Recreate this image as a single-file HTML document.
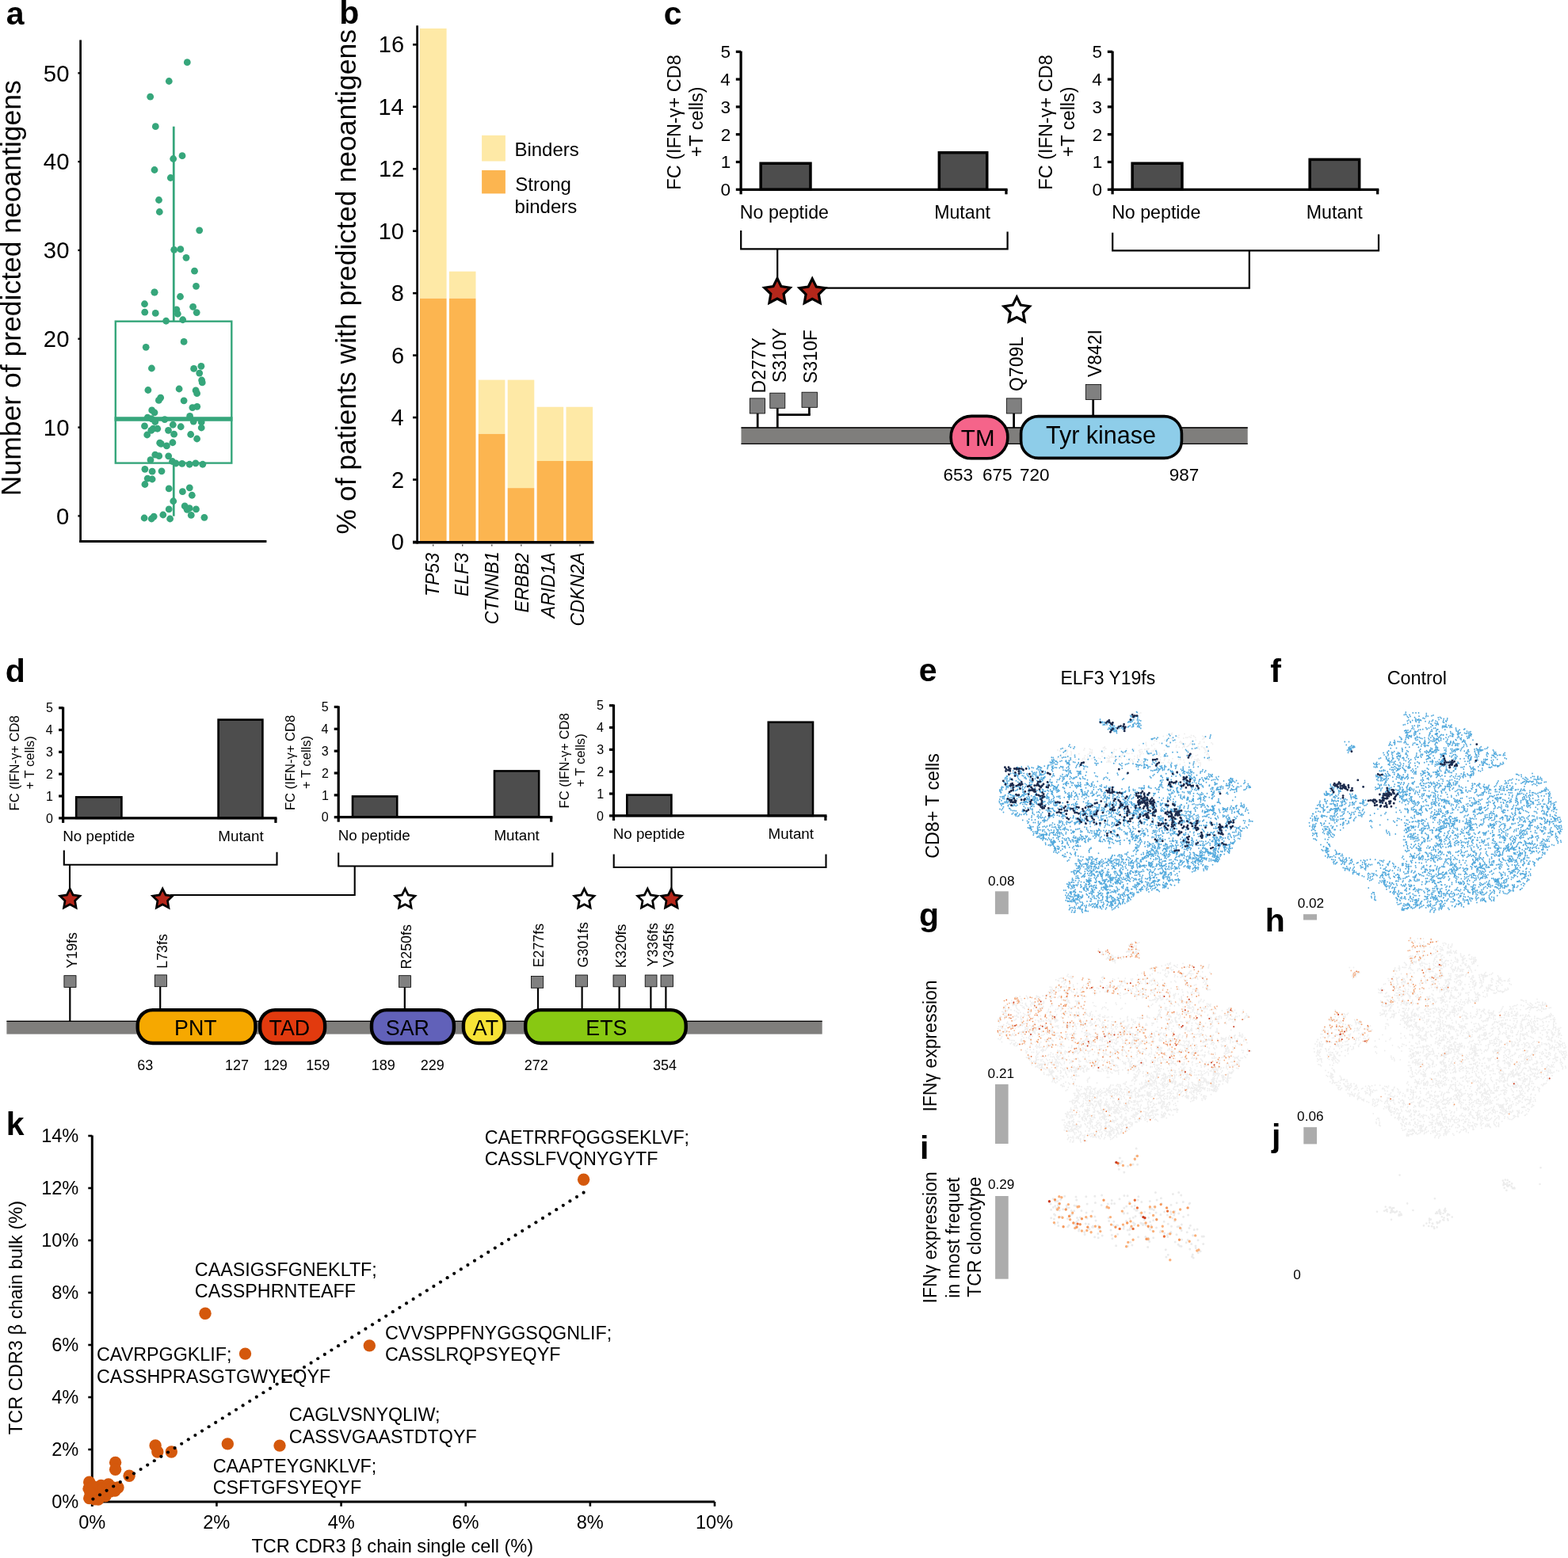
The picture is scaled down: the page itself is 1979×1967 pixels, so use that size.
<!DOCTYPE html>
<html><head><meta charset="utf-8"><title>Figure</title>
<style>html,body{margin:0;padding:0;background:#fff;}svg{display:block;}text{font-family:"Liberation Sans",Arial,Helvetica,sans-serif;fill:#000;}</style>
</head><body>
<svg width="1979" height="1967" viewBox="0 0 1979 1967">
<rect width="1979" height="1967" fill="#fff"/>
<defs><path id="eM" d="M5741 3598h0m-3-3h0m-27 26h0m-4-7h0m21 9h0m-7-4h0m-9-1h0m23-1h0m11 28h0m3 8h0m-5-28h0m0-8h0m-1 16h0m8 4h0m8 3h0m-17-3h0m0-3h0m-20 1h0m-8 1h0m-8-3h0m8 5h0m8-3h0m-13 12h0m7-4h0m-9 1h0m-8 0h0m-125 3h0m-9-2h0m-8 1h0m-3-13h0m5 16h0m-6-6h0m7 6h0m5 1h0m4 11h0m9-1h0m-6-1h0m3-8h0m13 8h0m5-8h0m-4-7h0m15 21h0m0-2h0m4 8h0m11-8h0m58 7h0m17 2h0m1-24h0m8-2h0m2 19h0m-7 4h0m17 2h0m4-9h0m0-2h0m3 6h0m0-9h0m6-5h0m-6 8h0m0 9h0m14-12h0m7-4h0m0 14h0m5-7h0m7-5h0m-11 15h0m8-3h0m8-4h0m-15 5h0m7 5h0m7 5h0m-79 0h0m-12-4h0m-5 2h0m6 7h0m-16-5h0m0-9h0m-13 5h0m-9 1h0m7 16h0m-3 3h0m3 8h0m-3-11h0m-5-15h0m-2 17h0m8 2h0m-11-1h0m-6-6h0m-5-7h0m9 0h0m-2-8h0m5-7h0m-3 20h0m-3-9h0m7 6h0m7 4h0m-19-14h0m-6 6h0m-8 0h0m14-6h0m-2 10h0m-7 0h0m7 5h0m-14-12h0m-5 7h0m313 32h0m-5-7h0m35 9h0m171 11h0m2-8h0m2-8h0m-26 8h0m-64 23h0m-99-3h0m8-3h0m-9-12h0m-23 4h0m-6 6h0m-3 7h0m-51-10h0m5-7h0m-28 9h0m-3-2h0m8-2h0m8-3h0m-57 28h0m94-1h0m43-4h0m65 7h0m56 1h0m-9 0h0m72 14h0m-51 5h0m-8 2h0m-16 2h0m-32 5h0m5 6h0m7 6h0m-97-28h0m-8 0h0m-5-6h0m-52 28h0m3 7h0m1 9h0m-122-23h0m4 7h0m-37-1h0m-5 6h0m-259-17h0m4-8h0m-20 2h0m-9-5h0m4-8h0m-20 30h0m-16-12h0m-8 3h0m-2 33h0m15-16h0m7-5h0m187 0h0m50 7h0m49-6h0m7 5h0m121-6h0m3 8h0m8 4h0m-4 0h0m14-2h0m-9 1h0m19 9h0m7-4h0m51 6h0m8-10h0m-7 5h0m-2 8h0m42-20h0m24 0h0m49 17h0m17-1h0m90-22h0m5 33h0m-8 3h0m-16-3h0m-124-1h0m-8-2h0m-55-5h0m-9 0h0m-102 16h0m-2 8h0m-6 6h0m2-15h0m8 2h0m8 3h0m-44-1h0m-49-2h0m-23-16h0m-25 1h0m-18 16h0m-4 7h0m3-22h0m-56 7h0m-49 8h0m-3-11h0m-22-8h0m-10 18h0m-47-1h0m-19-11h0m-1-9h0m-22 14h0m1 8h0m-6 6h0m-8-22h0m-28 7h0m8-3h0m9 0h0m-37-2h0m-26 4h0m-8-1h0m2 12h0m9-2h0m-24 29h0m6-15h0m4 13h0m4-12h0m2-8h0m8-2h0m8 3h0m-15 4h0m-6 6h0m8 4h0m7-5h0m-6-5h0m6 5h0m6 8h0m6-15h0m2 15h0m3-9h0m-6-5h0m27-4h0m-8 3h0m28 0h0m7 12h0m-2-8h0m-3-8h0m13 17h0m1-8h0m1-9h0m1 16h0m-7-5h0m9 10h0m-5 8h0m24-22h0m8 2h0m18 1h0m0 4h0m-6 6h0m-4 7h0m29-16h0m64 2h0m7 2h0m0 8h0m0-21h0m8 12h0m18-7h0m62 7h0m28 3h0m6 5h0m7 5h0m0-13h0m34 0h0m-8 3h0m-8 3h0m38-4h0m15 3h0m8 3h0m1-16h0m35 14h0m8 3h0m7 4h0m-3-4h0m26-5h0m11-6h0m-7-4h0m-2-8h0m16 19h0m1-15h0m170 9h0m22-7h0m-2 8h0m-2 8h0m25 9h0m-23 2h0m-23 0h0m-30-1h0m0 9h0m-11 3h0m-22-20h0m-5 16h0m2-8h0m-5-6h0m-19 3h0m-2-8h0m4-8h0m-2 20h0m-1-8h0m-11 19h0m-15-13h0m-6-6h0m-1 14h0m0-8h0m-12 5h0m-2-9h0m0 11h0m-7 4h0m-7 6h0m11-15h0m7 5h0m1 8h0m-13-17h0m-4 16h0m-4 8h0m-5 7h0m5-19h0m-7-5h0m-3-8h0m0 16h0m-34-13h0m-8 2h0m-2 6h0m-3-15h0m-10 10h0m-6-1h0m0-8h0m0-8h0m-1 21h0m-11-13h0m-8-3h0m-7 2h0m-9-2h0m6 10h0m4-8h0m-4 21h0m-9-15h0m-72 9h0m-191-7h0m8-3h0m8 3h0m-18 10h0m0-13h0m-3-4h0m-8-2h0m-11 7h0m-18 5h0m-39-3h0m4 7h0m-2 9h0m-10-11h0m-19 0h0m-1-2h0m-7-4h0m8 0h0m-11-1h0m-6 7h0m-23-2h0m8 1h0m-17 4h0m-1-13h0m-1 8h0m-2 5h0m-3-8h0m0 15h0m4 7h0m-25-19h0m2-8h0m-3 14h0m2-8h0m0-8h0m-17 3h0m-15 9h0m-5-2h0m-2 9h0m6 6h0m-9-19h0m-7-3h0m3 6h0m-5 3h0m-5 5h0m8 4h0m-25-9h0m-8-2h0m-12 6h0m-2 1h0m0-6h0m-5-7h0m-27 13h0m3 8h0m-9-19h0m-13 7h0m-7 6h0m2-8h0m-3-2h0m-33 31h0m12-2h0m6 6h0m-6-17h0m17 16h0m16-15h0m1 1h0m1 8h0m5-9h0m-7-5h0m7 16h0m-3-8h0m6 6h0m11 3h0m16 5h0m1-4h0m2 9h0m5 6h0m17-26h0m5 7h0m8-1h0m-7 5h0m-5 7h0m13-12h0m6 6h0m3-8h0m16 3h0m2 5h0m-3 7h0m6-25h0m-6 5h0m7 14h0m3 1h0m9-16h0m5 15h0m6-5h0m-1-7h0m87 14h0m4-22h0m10 1h0m8 2h0m7-4h0m-9 6h0m2 1h0m10 3h0m-1 9h0m-4 7h0m12-16h0m5 7h0m-5-5h0m0-8h0m35 3h0m5 11h0m2-9h0m5 7h0m-1-6h0m6-1h0m0-2h0m0 9h0m1 5h0m29-10h0m41 4h0m66 1h0m49 1h0m3 8h0m46-5h0m121-17h0m8 2h0m8-3h0m0 21h0m-6 6h0m12-28h0m8-1h0m29 2h0m8-3h0m9 20h0m10-19h0m15 9h0m2 1h0m-5-7h0m9 3h0m0 11h0m2 0h0m2-6h0m22 5h0m23-12h0m9 2h0m-3-6h0m-1-8h0m3 20h0m5 7h0m-8-3h0m10-7h0m17 2h0m4-10h0m8-2h0m-4 19h0m-9-1h0m-7-4h0m25 1h0m-5-7h0m7 2h0m-8 1h0m16 5h0m34 1h0m1-7h0m8-2h0m3-8h0m10 12h0m5-7h0m15 17h0m8 3h0m10-1h0m103 22h0m-9-3h0m-3 3h0m-59-11h0m-9 11h0m-3-8h0m-20-3h0m-4-5h0m-2 2h0m-7 5h0m-5-6h0m0 17h0m-8-2h0m-8 2h0m8-11h0m-5 7h0m-7-2h0m-14-1h0m-9 8h0m-17-21h0m-12 10h0m-9 6h0m-7-5h0m0 6h0m-4-1h0m-4-3h0m4-8h0m5-7h0m-10 5h0m-1 11h0m-3-14h0m-20 10h0m-21-7h0m-4-7h0m-19 9h0m-11-8h0m-11 8h0m-17 9h0m-7-1h0m-1 8h0m1-2h0m6 5h0m-33-19h0m5 7h0m-7-10h0m-2 2h0m-54 3h0m5 6h0m-138 4h0m-6 5h0m-83-12h0m7 5h0m-16-2h0m-4 7h0m-39-16h0m8 3h0m-59-6h0m-3 18h0m-2-1h0m-10-10h0m2 8h0m-13 3h0m-4-4h0m-7-15h0m5-7h0m-13 15h0m-12 8h0m-7 2h0m5-6h0m8-2h0m-21 3h0m-6-6h0m-2 12h0m-17-21h0m4 8h0m-15 12h0m-2-9h0m7-4h0m9 0h0m-33-1h0m8 3h0m-11 8h0m-4 7h0m-9 1h0m-16-20h0m-11 5h0m5-7h0m2-8h0m-50 19h0m7-5h0m-10-9h0m-8 2h0m6 20h0m7-3h0m5-7h0m-14 10h0m5-7h0m7-3h0m-16 2h0m-1 9h0m-2-24h0m-5 23h0m-10-14h0m-7 4h0m9 1h0m-10-7h0m-2-5h0m-8-3h0m5 22h0m-12-12h0m-12 7h0m-12-10h0m-9 15h0m-4-8h0m2 7h0m-7-4h0m-4-9h0m-7-2h0m-21-1h0m-2 8h0m3 8h0m-4-14h0m-14-1h0m1-8h0m-3 9h0m7-4h0m8 3h0m-34 18h0m-2-6h0m-2 8h0m-5 7h0m-7-24h0m-3 9h0m0 9h0m-1-18h0m-6 7h0m-2 8h0m1-6h0m9 2h0m-16 18h0m5 3h0m6 6h0m8 0h0m-12-4h0m9-9h0m1 7h0m27-12h0m18 3h0m9 6h0m7-11h0m7 4h0m-7 12h0m3 2h0m1 3h0m9-6h0m16 5h0m7 5h0m16-11h0m1-11h0m6 6h0m9 0h0m-14-10h0m6 6h0m5 7h0m24-7h0m9 15h0m5-16h0m1 10h0m8-5h0m6-5h0m-6 5h0m36 7h0m6-8h0m6 6h0m-4-15h0m10 14h0m23-2h0m28-4h0m4-7h0m-1-8h0m3 30h0m8-3h0m7-4h0m-2-1h0m-3 8h0m5 7h0m2-10h0m1-9h0m7 9h0m15-3h0m9 1h0m-9-1h0m-4-7h0m11 6h0m26-1h0m12 0h0m0 2h0m2 8h0m-4 7h0m38-16h0m4 7h0m5 7h0m-9-28h0m22 17h0m6-7h0m23-3h0m60-7h0m257 5h0m8 5h0m-4-9h0m9-1h0m23 0h0m10 10h0m9-1h0m-8 1h0m8-11h0m14 16h0m8 5h0m15-6h0m0 8h0m7 5h0m16-28h0m5 10h0m3-9h0m6-6h0m0 20h0m4 5h0m-3-8h0m5 0h0m8 4h0m0 5h0m9-1h0m-6-1h0m0-6h0m16 2h0m8-13h0m2 8h0m4-8h0m0-9h0m-6-6h0m11 30h0m12 1h0m2-10h0m2-8h0m17-1h0m4 8h0m0-2h0m14 8h0m43 0h0m1-14h0m-9 1h0m-8 3h0m17 15h0m7 2h0m8-20h0m29 6h0m14 14h0m11-19h0m6 6h0m4 7h0m-9 6h0m2 9h0m0 8h0m1-36h0m5 5h0m-5 7h0m5-7h0m5 9h0m3-7h0m-2 3h0m3-8h0m-4-7h0m5 5h0m5 6h0m7 5h0m8-8h0m8 14h0m34-14h0m1 9h0m-5 6h0m33 19h0m-5 1h0m-3 0h0m4-7h0m-7-2h0m-1-9h0m-36 11h0m-19 3h0m8 1h0m-27-1h0m-6-7h0m-12-4h0m-1 4h0m-9 1h0m1 15h0m-5-15h0m-5 0h0m-16 15h0m0-8h0m-8-4h0m-2 7h0m-2 9h0m-3-12h0m-16 7h0m6-5h0m-13-15h0m8-3h0m-11 5h0m-14 15h0m-6 7h0m-7-20h0m-1 4h0m-33 0h0m-7-8h0m4 8h0m5 6h0m-10-13h0m-7 0h0m-36 7h0m-6 9h0m8-3h0m-56-5h0m-1 8h0m-6 6h0m3-22h0m-6 5h0m-12 11h0m-4 3h0m-1 0h0m-20-5h0m-9-10h0m7 5h0m-19-5h0m7 5h0m7 4h0m-17-7h0m-25 10h0m-6-5h0m-9-3h0m9-6h0m-6-1h0m4-8h0m-7 8h0m-5 12h0m-1 4h0m-17 0h0m-34-9h0m4 8h0m8 3h0m-13-6h0m-22 7h0m-3 1h0m4-6h0m-1-9h0m-16 12h0m-9-1h0m-50-5h0m-37 10h0m-42-9h0m-17 1h0m-8 2h0m-11-8h0m-2 8h0m-5-1h0m-4-1h0m-14-12h0m-1 8h0m-7-3h0m-19 5h0m-10-8h0m-2 10h0m-9-14h0m0 6h0m-3-8h0m-3 12h0m-17-12h0m-5-6h0m-3 25h0m-4-15h0m9-1h0m7-3h0m-38 13h0m-1-8h0m-11-4h0m-4 7h0m4 2h0m-3 2h0m8-4h0m-11 3h0m-3 8h0m-5-7h0m-4-7h0m8 1h0m0 3h0m-22-3h0m-10 10h0m-21-14h0m-7 19h0m-7-4h0m0-1h0m6 7h0m-7-6h0m-23-13h0m-4 7h0m-7 5h0m2 6h0m0 1h0m-3-8h0m-8-2h0m-1 11h0m8 0h0m7-6h0m-19 2h0m-1-12h0m8 3h0m-14-6h0m-6 5h0m5-9h0m-19 19h0m-5-16h0m-1 7h0m-24-1h0m-11 4h0m-30 9h0m6-5h0m-17-17h0m-9 1h0m5 3h0m-7-4h0m-2 22h0m-3-15h0m9 0h0m-24 4h0m-5 6h0m-10-6h0m-2 8h0m6 7h0m-18-10h0m-8-10h0m4 8h0m-23 0h0m7-4h0m8 1h0m-25 10h0m-8-2h0m6-13h0m-9-1h0m-8 4h0m-4 7h0m12-15h0m-7 5h0m-8 3h0m-4 3h0m-1 6h0m-2-10h0m-6-7h0m-9 14h0m-9 3h0m-8 10h0m2 8h0m4 7h0m-5-8h0m6 5h0m-2-12h0m5-7h0m1-9h0m1 17h0m-9 1h0m29-5h0m15 19h0m1-4h0m-4 7h0m26-13h0m10-2h0m7-3h0m4-4h0m24 2h0m2 13h0m1-4h0m5 7h0m4 7h0m21-26h0m2 16h0m-6-6h0m15-3h0m25 15h0m2 0h0m-6 6h0m-3 8h0m12-29h0m12 2h0m5 7h0m0-6h0m10 4h0m4-11h0m6 9h0m-8-3h0m-3-8h0m16 10h0m10-5h0m6 4h0m9-7h0m10 7h0m-8 1h0m9 6h0m-5 7h0m11-21h0m-1-8h0m3-8h0m10 20h0m0-8h0m-3-8h0m7 25h0m3-8h0m3-5h0m1 9h0m5-4h0m30 11h0m-3-8h0m5 7h0m39-7h0m8 9h0m3-2h0m29-6h0m2-10h0m4 14h0m-2-8h0m-7-5h0m9 19h0m12-8h0m12 3h0m4-9h0m1 2h0m20 7h0m0-6h0m7-9h0m13 20h0m4-7h0m7-12h0m13 4h0m2-5h0m-7-3h0m10 13h0m18 6h0m19-6h0m4-2h0m18 5h0m9 0h0m5 3h0m3-3h0m27 2h0m-4 8h0m19-10h0m2-5h0m-7 5h0m-6 5h0m30-17h0m-1-9h0m2 17h0m1-5h0m19-5h0m1 6h0m8-2h0m0 12h0m2-1h0m9-2h0m-3 8h0m25-21h0m4-7h0m57 28h0m8 0h0m8-20h0m1-2h0m8 3h0m0 12h0m3-12h0m48 3h0m8 1h0m-9 0h0m-5-6h0m16 1h0m7 14h0m4 5h0m-8 2h0m-7 5h0m18-21h0m4 7h0m14-12h0m1 11h0m-2-8h0m3 7h0m1 6h0m6-1h0m-5-6h0m16-11h0m16 17h0m-8-3h0m26-1h0m4 7h0m8 4h0m-4-11h0m10-3h0m-5 7h0m10-16h0m7 21h0m5-19h0m5-7h0m9 26h0m7 5h0m-6-26h0m-7 5h0m12-3h0m16 15h0m27 4h0m21-11h0m2 1h0m5-11h0m2-8h0m5 18h0m-5 7h0m5 1h0m12-15h0m5-4h0m3-8h0m-2 10h0m5 1h0m1 11h0m2-12h0m4 12h0m33 7h0m4-4h0m3 8h0m18-26h0m7 4h0m-4-1h0m-8 4h0m19-3h0m8-2h0m5-6h0m-11 21h0m10-4h0m0-8h0m-2-8h0m39 8h0m7-2h0m6-6h0m2-8h0m-58 52h0m-107-4h0m-5-9h0m-6 5h0m1-6h0m-15 16h0m-24-7h0m7 4h0m-12 3h0m7-4h0m-17-10h0m7-3h0m-11 17h0m-6 6h0m5-22h0m-3 8h0m-33 1h0m-26 8h0m-3-2h0m-16 3h0m-1-8h0m-6 5h0m5 3h0m-17-14h0m-1 12h0m-9-12h0m-19 7h0m-25-5h0m-5-7h0m3 21h0m5-6h0m-37 6h0m-20-3h0m-25-18h0m-4 8h0m-25-1h0m-5-7h0m-2 7h0m-14 14h0m-20-10h0m1-8h0m1-9h0m-6 18h0m-27-8h0m-4 12h0m-20-6h0m5-6h0m-6 11h0m-7 5h0m-3 8h0m1-15h0m-6 0h0m-20-14h0m-1 2h0m0 4h0m0-8h0m-2 16h0m8 0h0m-9-15h0m-13 19h0m-3-13h0m-5 9h0m-4 4h0m-18-15h0m8 4h0m-27 1h0m0 12h0m-21-13h0m-4 8h0m-5-7h0m2-9h0m3-7h0m-17 25h0m-7-10h0m-8 1h0m-4 3h0m-16-8h0m-7 5h0m5-6h0m-7-5h0m-8 0h0m14 9h0m-7 4h0m-18 3h0m-8-4h0m-1-8h0m-8-3h0m4 5h0m0 16h0m-7-12h0m-8 0h0m-3-2h0m8-3h0m-11 12h0m-13-13h0m-13 8h0m5 7h0m-16-1h0m6-6h0m4-7h0m-24 6h0m-8 3h0m6 5h0m0-13h0m1-8h0m-10 22h0m-1-9h0m0 13h0m-1-17h0m-1-9h0m-1 14h0m0 2h0m0 8h0m1 9h0m-6-13h0m4-8h0m-5-7h0m-17 18h0m-22-6h0m-6 5h0m7 5h0m-8-10h0m-8 2h0m-18-3h0m4 7h0m-8-15h0m-4-7h0m1-8h0m0 14h0m-1-1h0m-15 16h0m-2 5h0m-9-1h0m-6-5h0m9 0h0m-1 8h0m-1-14h0m0-5h0m5-7h0m-17 20h0m-11-7h0m-3 8h0m-5-2h0m-2 3h0m-22 1h0m-7 5h0m-5 7h0m11-11h0m8 0h0m-12-4h0m-7-2h0m-4 8h0m-2 8h0m5-17h0m-10-5h0m-10 7h0m0 8h0m-2 8h0m-4-21h0m-15-10h0m-3-3h0m8 2h0m8-3h0m-19 2h0m-5 5h0m-2 0h0m7 5h0m-11-2h0m8 2h0m-9 3h0m-7 5h0m-8-2h0m9-2h0m-20-3h0m7-4h0m-17 6h0m-8 3h0m6-7h0m-1 3h0m-7-4h0m-8-2h0m11 8h0m-10 4h0m-8 3h0m3-18h0m-11 9h0m-14-6h0m-10 7h0m-2 10h0m-13-8h0m9 0h0m-14 22h0m1 7h0m5 7h0m9 0h0m-13-24h0m9 7h0m14-9h0m-1-9h0m4-7h0m-1 32h0m8-2h0m7 6h0m-5-18h0m1 8h0m8 4h0m-7 6h0m-9 0h0m37-18h0m9-3h0m-8-3h0m21 4h0m22 18h0m-6 6h0m15-6h0m7-4h0m-5 3h0m6 2h0m2 8h0m0-9h0m7-4h0m-7 0h0m3 2h0m4-1h0m0-11h0m6-6h0m-3 19h0m1-12h0m3 13h0m7-15h0m-7-3h0m-6-7h0m23 25h0m10-18h0m6 9h0m1 10h0m2-16h0m2 10h0m6 4h0m1 8h0m0-18h0m2-2h0m5 3h0m8-5h0m1-4h0m-1-8h0m11 12h0m7 11h0m8 0h0m-8 4h0m23 3h0m7-17h0m-2-9h0m-6-5h0m9 28h0m7 4h0m0-9h0m-9-1h0m10 0h0m3-8h0m-2 12h0m8-2h0m3-15h0m2 9h0m0 14h0m0 8h0m4-15h0m41 6h0m58-18h0m7 19h0m5-7h0m7-14h0m28 14h0m4-15h0m9 21h0m8-3h0m3-8h0m36-5h0m7 0h0m32-5h0m7-5h0m5-7h0m-4 28h0m8 0h0m2-9h0m0-8h0m-2-1h0m5-7h0m-3 9h0m7-5h0m5 4h0m19 0h0m1-9h0m1-8h0m-1 37h0m3-8h0m5-8h0m16-1h0m13 14h0m8 3h0m1 1h0m6-17h0m7 4h0m-1 1h0m-7-5h0m11 13h0m2 8h0m-1-2h0m9-3h0m-6-6h0m9-4h0m5-10h0m4 17h0m8-1h0m2-15h0m7-4h0m25 20h0m7-5h0m9-1h0m-9 11h0m25-5h0m2-8h0m-1-5h0m5-6h0m1 7h0m-7 6h0m19-3h0m26 11h0m22-4h0m5 1h0m16-8h0m30 1h0m-1-8h0m2-8h0m7 7h0m6 6h0m14 9h0m1-12h0m45-1h0m-7-4h0m-1-9h0m31 18h0m6-6h0m-5-1h0m5 5h0m8 7h0m13-5h0m5-7h0m-3 10h0m-7 5h0m-9-1h0m18-14h0m2 5h0m0 8h0m23-10h0m6-6h0m8 3h0m0 8h0m-1 9h0m1-12h0m13 2h0m4-7h0m4 11h0m34-12h0m3 2h0m3-8h0m29 9h0m0 8h0m0 8h0m71-9h0m59 29h0m-2-8h0m0 15h0m-5-1h0m-2-7h0m-6-5h0m-1 8h0m0-17h0m-2 14h0m-25 1h0m-9 9h0m-70-22h0m-5-6h0m-9 0h0m-13 16h0m-6 6h0m-8-1h0m3-3h0m-22 4h0m-5-6h0m-11 8h0m-4-10h0m-5-7h0m4 8h0m-8 1h0m-6 5h0m-1 3h0m0-13h0m7-3h0m-16 2h0m8 2h0m-16 1h0m-9 0h0m-2 11h0m-8-16h0m-8 2h0m-29-6h0m-26 9h0m-6 7h0m0 9h0m-2-12h0m6-6h0m-16 10h0m8 4h0m-21-13h0m-4 7h0m-3-7h0m4-7h0m4-8h0m-39 26h0m-7-4h0m-7-5h0m11 12h0m-3-19h0m-8 0h0m-12-2h0m-6 6h0m3 15h0m-2-18h0m-7 5h0m6-2h0m-6-6h0m2 11h0m-21 5h0m-3-7h0m-1-9h0m-13 9h0m-10 4h0m4-7h0m-11 14h0m8 3h0m8-2h0m-27-1h0m-5 6h0m0-11h0m-34-16h0m-3 12h0m-2-8h0m4-7h0m-8 11h0m-7 2h0m-3 2h0m-7-7h0m-4 8h0m1 6h0m7 5h0m-16-14h0m6-6h0m-9 3h0m1-8h0m-5 1h0m0 22h0m-12-15h0m-8-2h0m-7 4h0m15-2h0m-23 9h0m-5 0h0m-4-6h0m7-5h0m2-8h0m-10 26h0m-6-5h0m-3-17h0m-4 8h0m2 12h0m-7 5h0m-13-16h0m2-8h0m-2-8h0m-5 16h0m-6-7h0m-4 10h0m6 5h0m-10-12h0m-8-4h0m-1-8h0m-3 23h0m-2-8h0m-2-8h0m7 5h0m-14 6h0m-4-1h0m-6-5h0m4 12h0m8-3h0m6-6h0m-20 7h0m-17 7h0m8 3h0m5 7h0m-24-25h0m-3 12h0m-2 8h0m0 8h0m1-17h0m3-7h0m-4-4h0m-8-7h0m-2 0h0m-22 20h0m-1-12h0m-19 9h0m5-6h0m8-3h0m-15-6h0m0 1h0m-2-1h0m8-2h0m8 2h0m-19 8h0m7-6h0m-11 9h0m-45-9h0m-6 1h0m-4-2h0m-11 1h0m4 7h0m8 2h0m-20-6h0m-10 14h0m-3-15h0m-5 15h0m5 6h0m6 6h0m-14-27h0m-23 13h0m5 7h0m-12-4h0m0-9h0m-7 2h0m-13-14h0m9-1h0m-17 12h0m-1-9h0m6 6h0m-12 2h0m7-5h0m-36-1h0m-30 7h0m8-1h0m7-5h0m-31-6h0m-1 11h0m-14-8h0m-3-4h0m-11 17h0m-1-10h0m-8-5h0m-7-5h0m-7-5h0m13 24h0m2-8h0m-6-6h0m-1 14h0m-4 8h0m-18-17h0m-14 10h0m-5-11h0m-12-5h0m-16 9h0m-6-9h0m-1 13h0m-7-4h0m-8 2h0m6-7h0m-7 10h0m8-4h0m-25-5h0m-7 5h0m1 4h0m-24-12h0m0 16h0m-4 8h0m-5 7h0m7-33h0m-6 2h0m-2 9h0m-8 18h0m18 16h0m29-20h0m9 9h0m-5-7h0m14 10h0m16 1h0m-8-1h0m42-3h0m3 8h0m-1-3h0m0-9h0m4 9h0m-8 1h0m15-16h0m14-1h0m22 5h0m-8 1h0m8 5h0m1 10h0m1 8h0m7 5h0m22-15h0m-8 3h0m12 1h0m3-13h0m13 13h0m27-11h0m-8-1h0m8 8h0m6-10h0m6-6h0m8 0h0m-12 13h0m8 3h0m-5-3h0m14-14h0m7 14h0m4 1h0m-7-5h0m-4-7h0m26-3h0m31 20h0m14-16h0m2-4h0m4-7h0m0-8h0m26 26h0m0 0h0m1-12h0m8 11h0m2 8h0m1-18h0m1 3h0m-5-6h0m7 1h0m6 8h0m23 9h0m-7 4h0m-5 7h0m23-9h0m8 1h0m-1-3h0m7-4h0m9 0h0m7-4h0m-13-2h0m6-4h0m2 10h0m5 7h0m8-3h0m-3 7h0m14-6h0m6 6h0m0-1h0m1-8h0m6-4h0m1-1h0m1-4h0m4-8h0m8-1h0m-10 5h0m-6-6h0m-8-2h0m46 20h0m-7-5h0m9 11h0m-4-7h0m-9 0h0m15-12h0m26 19h0m-7-5h0m-8 4h0m15 3h0m-3 8h0m7-29h0m3 4h0m5 7h0m-2 8h0m-3-18h0m8-4h0m-2 16h0m8-3h0m9-1h0m-10 8h0m1 8h0m22-19h0m-2 8h0m31-6h0m4 8h0m12 1h0m3-4h0m-1-9h0m3 3h0m1 6h0m-5-7h0m33 15h0m2-8h0m10 5h0m8-2h0m-6-5h0m2 1h0m-9-1h0m14-11h0m0 16h0m-8-3h0m-3-8h0m13 1h0m-1 8h0m1 8h0m0-8h0m6-13h0m3 8h0m-2-3h0m-8-3h0m-7-4h0m24 6h0m11 9h0m8-1h0m2 1h0m-8 3h0m-6 6h0m18-5h0m10-4h0m1 8h0m0-2h0m31-11h0m3-6h0m-5-7h0m-8-1h0m15 23h0m-7-5h0m33-1h0m2-8h0m0 11h0m7-4h0m-6 0h0m11 5h0m-9 0h0m11-13h0m5 3h0m13 4h0m15 7h0m1-11h0m6 5h0m-5 9h0m-7 5h0m12-11h0m0-8h0m10 8h0m-9 1h0m9-11h0m2 8h0m-6 6h0m8-4h0m1-8h0m16 4h0m6-6h0m-3 10h0m8 7h0m2-10h0m4 5h0m13-17h0m2-8h0m4 25h0m14-14h0m2-8h0m1-8h0m7 33h0m5 7h0m0-9h0m16-16h0m2-1h0m4 8h0m1 8h0m9-16h0m26 18h0m1-6h0m14 10h0m2-2h0m1-1h0m-7 5h0m9-5h0m-8-3h0m13 0h0m2-6h0m1 8h0m0-10h0m-8-3h0m15 5h0m6-3h0m7 5h0m-5-1h0m-8 2h0m-8 0h0m25 1h0m-7-4h0m12-9h0m-5 7h0m5 13h0m1-9h0m-2-8h0m3-1h0m-7-5h0m-4-7h0m11 13h0m25 2h0m2 8h0m3 8h0m14-14h0m3-6h0m2 5h0m3-4h0m-7-4h0m12 6h0m2 7h0m5-7h0m5-6h0m-5 18h0m-8-2h0m-7 5h0m19-12h0m13-2h0m2-8h0m4-8h0m3 18h0m1 8h0m-1 9h0m10-20h0m-5-7h0m8 24h0m1-2h0m9-18h0m-2-8h0m4-7h0m1 30h0m8 0h0m-4 1h0m4 7h0m-2-11h0m5-7h0m31 9h0m3-8h0m3-8h0m6 10h0m4 15h0m-27 11h0m-8-2h0m2-5h0m-6 5h0m-7-5h0m-12 13h0m-13 4h0m-29 0h0m-10-5h0m7-5h0m-19 4h0m-6 4h0m8-4h0m-9-4h0m-27 5h0m3 8h0m-17-14h0m5-7h0m-5-5h0m-7 5h0m-4 4h0m-27 2h0m8-2h0m-10 6h0m-7 4h0m7 0h0m-13-1h0m-8 2h0m-20 2h0m-8 3h0m-5 7h0m9-20h0m0 2h0m-9 1h0m-10-7h0m-2 2h0m-8 7h0m-7 3h0m-8-2h0m-5-7h0m12-9h0m-3 10h0m-18 5h0m-2-14h0m3-8h0m8-2h0m-16 21h0m-9-1h0m-7-4h0m7 4h0m7 4h0m-17-4h0m-10-5h0m-7 1h0m-5-6h0m2-8h0m-13 19h0m-15 0h0m-11-13h0m4-7h0m8-3h0m-15 25h0m-2-6h0m-48 10h0m8-3h0m-14 4h0m7 4h0m4 8h0m-28-29h0m-15 0h0m-7 0h0m-16 5h0m-18-3h0m-8 0h0m-8-2h0m4 7h0m-5 7h0m-8 0h0m12-6h0m6-6h0m-2-9h0m-9 25h0m-7 5h0m-8-1h0m1-7h0m-2-11h0m-4-5h0m-6 4h0m8-1h0m-11 7h0m0-13h0m-5 6h0m-4 8h0m1 9h0m-8-20h0m8 2h0m-23 7h0m8-3h0m-18-6h0m3-8h0m-11 9h0m-14 16h0m-19-11h0m-5-3h0m7-5h0m6-5h0m-18 6h0m-4 18h0m-11 3h0m-8-3h0m2-8h0m-5 6h0m-8 3h0m9-17h0m-8-3h0m7 2h0m-30 11h0m-8 2h0m8-2h0m8 0h0m-23 3h0m-5 0h0m0 9h0m3 7h0m-19-15h0m3 8h0m-12-9h0m-14-16h0m-1 17h0m8-3h0m-9-5h0m-7-5h0m-8 0h0m11 18h0m-8-19h0m-1 8h0m-6 6h0m5-16h0m2-8h0m-14 14h0m-3 11h0m-11-11h0m-4 2h0m-7-4h0m4-5h0m8-2h0m7 4h0m-18 4h0m8 1h0m5 6h0m-23-7h0m-3 14h0m1-8h0m-2-12h0m-34 15h0m0 6h0m-48-4h0m8 2h0m-14-2h0m0-8h0m-5 11h0m5-7h0m8-1h0m-14-7h0m5-7h0m-16 18h0m-10-4h0m-16 0h0m-8-1h0m-8 4h0m13-11h0m0 3h0m-1 15h0m-6-7h0m-8 3h0m6-3h0m-7-2h0m-1 2h0m-4-6h0m-4 7h0m8 0h0m-46-10h0m-1 8h0m-2 8h0m-12-11h0m-4 8h0m-24-16h0m-4 12h0m-26-6h0m-4-7h0m4-8h0m-5 6h0m-1-8h0m-6 13h0m-2 3h0m-13 1h0m-9-2h0m-3 7h0m-6 3h0m-9-2h0m-2-9h0m-3 3h0m8-2h0m4-7h0m-27 6h0m6-5h0m48 36h0m30 9h0m-7-5h0m9-9h0m13-9h0m1 13h0m17-1h0m16 9h0m0 8h0m5 7h0m-4-32h0m2-8h0m18 4h0m-7 3h0m8 14h0m9-1h0m-8 0h0m6 7h0m1-20h0m6-6h0m-5 15h0m3 6h0m1-3h0m-9-1h0m26-13h0m-4 8h0m-5 7h0m13-15h0m50 20h0m16 1h0m-7-4h0m-9-1h0m19-12h0m19 15h0m6 5h0m12-23h0m8 17h0m-7 5h0m12-21h0m15 1h0m1 4h0m11-4h0m2 16h0m-7 4h0m8-16h0m8-6h0m2 12h0m8-3h0m-3-2h0m2 8h0m-5 7h0m14-6h0m1-5h0m1-10h0m6 5h0m9 0h0m14 16h0m-1 8h0m5-11h0m-9-1h0m15-3h0m36-3h0m8-1h0m4 1h0m6-6h0m-3 4h0m13 2h0m10-12h0m2 20h0m2-8h0m36-8h0m5 5h0m5 7h0m-3-7h0m7 5h0m8-3h0m-14 7h0m5-2h0m5 1h0m-8 0h0m16-8h0m18 4h0m6-3h0m7 4h0m5 7h0m-11-8h0m-4 7h0m-1 9h0m6-18h0m2-13h0m-6 6h0m2 8h0m35-9h0m2-2h0m7-2h0m42 22h0m2 8h0m10-23h0m8 3h0m8 3h0m-13 9h0m10-11h0m6-6h0m24-1h0m3 8h0m33 2h0m3 0h0m6-9h0m-8-2h0m-8 3h0m17 7h0m4 8h0m-3 8h0m0-28h0m6 6h0m-1 11h0m2 8h0m0-25h0m31 13h0m6-7h0m3 6h0m-1-8h0m11 5h0m-2 9h0m19-11h0m21 7h0m7-4h0m-6 11h0m15-7h0m4 7h0m7-21h0m3 13h0m1-10h0m8 2h0m7 5h0m-12 2h0m7 5h0m-1 8h0m2-18h0m3-8h0m16 1h0m4 7h0m24-1h0m7 11h0m14 0h0m6-6h0m0 2h0m26-15h0m7 21h0m3-16h0m26 2h0m2 3h0m-6-6h0m55-4h0m5 7h0m2 11h0m0-2h0m-3 8h0m-5 7h0m19-26h0m-7 4h0m-3 7h0m15-1h0m-6-6h0m-1-8h0m33 3h0m-5 7h0m6-6h0m46 13h0m-8-2h0m29 4h0m8-1h0m8 1h0m-16-8h0m-3 26h0m-13 9h0m6 6h0m-14-25h0m-23 18h0m-5 6h0m-31-10h0m-1-14h0m-7-3h0m-7-5h0m-8 1h0m8 24h0m-14-10h0m8-4h0m7-4h0m-17 21h0m-5-5h0m-5 7h0m-7 3h0m-33-24h0m1 8h0m-6 10h0m1 8h0m-15-20h0m8 1h0m-19-2h0m-5-7h0m-16 15h0m-4 7h0m4-23h0m-1 13h0m-4 2h0m-8 1h0m-2-2h0m-12 1h0m-9 0h0m-16-7h0m4-7h0m8-1h0m-22-1h0m6-6h0m9 0h0m-16 19h0m0-10h0m-7 6h0m2-5h0m9 0h0m-24-2h0m-7-1h0m-31 0h0m-3 2h0m4-8h0m-7 20h0m-7-15h0m-7 2h0m8 1h0m-20 4h0m-6-5h0m-4-8h0m10 11h0m-8-3h0m4 17h0m-3-8h0m-7-5h0m4 6h0m-4-7h0m0 17h0m-2-3h0m-7 5h0m4-12h0m-22 7h0m-6-15h0m-4 7h0m3 4h0m-3-3h0m-7-3h0m-38-9h0m-8 15h0m-14-15h0m-6 23h0m-3-13h0m9-1h0m-15 7h0m4-8h0m-18 4h0m-12-12h0m-5 0h0m1 8h0m-28-7h0m4-7h0m5-6h0m-11 27h0m5-6h0m-31-8h0m-1 21h0m4 8h0m-21-19h0m-7 9h0m0-16h0m-2 0h0m-16 14h0m-5-5h0m-21-1h0m-13-5h0m5-7h0m-16 13h0m-1-9h0m-1 7h0m-5 7h0m-7 5h0m4-21h0m-4 7h0m1-8h0m-13 14h0m-8-2h0m-2-5h0m-8 1h0m-6-6h0m-22 7h0m-1 7h0m-2-5h0m-2-8h0m-16-4h0m-7 13h0m-22 8h0m-21-14h0m-5-7h0m-26 5h0m-4-1h0m0 4h0m-20-2h0m-1 0h0m5-7h0m6-6h0m-13 17h0m0-8h0m-2 0h0m8 1h0m7-5h0m-36 23h0m-3-19h0m-2-1h0m-13 8h0m-2-8h0m-10 12h0m-8-4h0m0-5h0m-5 13h0m-6-17h0m-7 16h0m0-13h0m-7 10h0m-16-3h0m-10-7h0m-4 10h0m-9 0h0m-2 5h0m-13 1h0m-32-18h0m-5 7h0m-23-7h0m-9 0h0m-2 21h0m-9 1h0m-6 6h0m-11-25h0m1 23h0m7 3h0m7-1h0m0-8h0m-6-6h0m8 25h0m-4-8h0m-3-7h0m9 11h0m30-5h0m0-8h0m4-8h0m-3 21h0m1 7h0m7-18h0m-8 4h0m13 9h0m-8 0h0m20 7h0m7-7h0m-8 1h0m17-14h0m-7-5h0m-8 2h0m26 14h0m6 6h0m10-3h0m5-15h0m9 1h0m7-3h0m-7 18h0m10-11h0m4 8h0m7 4h0m-2-4h0m3-13h0m5 1h0m6-1h0m1 13h0m-7-4h0m-3-8h0m29 13h0m-8-3h0m12-10h0m-6 5h0m6 2h0m8 3h0m7 4h0m14 0h0m10 5h0m3 8h0m1-5h0m3-1h0m7-10h0m10-1h0m-9 1h0m18-4h0m-8 1h0m14 9h0m7 5h0m13-23h0m10 3h0m0 8h0m6 6h0m1 8h0m13-7h0m7 2h0m11 0h0m0 9h0m12-12h0m3 7h0m-1 8h0m5-14h0m8-3h0m7 5h0m-11-11h0m2 6h0m23 2h0m4-16h0m4-8h0m5 24h0m-4 7h0m18-6h0m20-1h0m5 7h0m-3-7h0m4 5h0m26-19h0m-7 4h0m10 0h0m9 7h0m-9-2h0m53 6h0m-1-8h0m-6-5h0m20 16h0m2-14h0m10 2h0m17-9h0m10 19h0m-6 6h0m13-16h0m8 8h0m20 5h0m-1-8h0m-7-6h0m35 12h0m12-3h0m5-15h0m0-9h0m2 11h0m1 16h0m12 1h0m-2-8h0m5-6h0m8-3h0m2 13h0m14-7h0m8 3h0m8 3h0m-15 1h0m-2-9h0m-3-7h0m32 16h0m1-6h0m2 6h0m3-14h0m18 5h0m8 0h0m1 1h0m31-5h0m6-2h0m16 0h0m7 6h0m-8 2h0m-7 4h0m42-13h0m-4 7h0m9 1h0m6-2h0m8-5h0m2 4h0m-2 8h0m23-3h0m8 10h0m50-15h0m9 1h0m9-2h0m0 15h0m16-2h0m-5-7h0m10 7h0m22-1h0m6-16h0m-8-1h0m10 4h0m15 7h0m3-5h0m35-2h0m-8-1h0m-8-3h0m21 8h0m6 6h0m3 6h0m5-1h0m4-13h0m8 0h0m-18 33h0m-9-1h0m-8 3h0m16-11h0m-8-4h0m-2 8h0m-12-10h0m-1-8h0m4-8h0m-5 36h0m-7-18h0m-8 0h0m6 17h0m2 8h0m-21-14h0m2 8h0m5 7h0m-12-20h0m-4 4h0m-1 11h0m-1 8h0m6 7h0m-48-39h0m8 5h0m-27 13h0m-11-14h0m-5 9h0m-6-8h0m8 1h0m6-6h0m-21 11h0m4-7h0m-15 16h0m-1-16h0m-5 10h0m1 8h0m-4-8h0m-1 9h0m-9-22h0m-4-7h0m-4 26h0m2 9h0m-7-23h0m-10 4h0m-5 14h0m-4-12h0m-19 6h0m0-16h0m-2 5h0m-18-6h0m-9 13h0m-13-9h0m0 8h0m-5 5h0m-4-6h0m-2 3h0m-21-13h0m8-3h0m-19 12h0m3 8h0m-14-19h0m-6 6h0m4 1h0m-2-6h0m3 8h0m7 4h0m-13-10h0m-4-8h0m-2-8h0m4 24h0m-6-1h0m-8 2h0m3 7h0m-20-12h0m8-3h0m-25 3h0m-5 1h0m-2-8h0m1 23h0m-9-7h0m-8 3h0m-5 0h0m-9-1h0m-1 9h0m0-21h0m-6-6h0m-6-6h0m7 21h0m-6-11h0m-8 4h0m-22 12h0m-16-12h0m-3 0h0m5 8h0m-7-3h0m-5-6h0m-1-9h0m5 25h0m4-8h0m-15-5h0m-5 7h0m-10 4h0m-1 1h0m-9-3h0m-3 8h0m2-9h0m-6 4h0m4 8h0m-10-18h0m-6 5h0m-1 8h0m-1-23h0m-3 9h0m-2-6h0m0 9h0m0 9h0m-8-22h0m4-7h0m-18 21h0m-7-4h0m-2 0h0m8 0h0m-14-11h0m7 5h0m9 1h0m-41 17h0m2 8h0m-13-12h0m-7 2h0m-3-20h0m-2-8h0m-10 31h0m-6-14h0m8 1h0m8 3h0m-29-9h0m-21 14h0m-1-1h0m-28 4h0m-6-5h0m8-4h0m2-8h0m-14 3h0m-10 2h0m8 4h0m8 2h0m-17 1h0m4-7h0m-4 8h0m7 3h0m-15 2h0m-7-16h0m-11-2h0m-20 17h0m8 1h0m-30-1h0m8 3h0m-11-23h0m-1 14h0m-33 6h0m-13-14h0m6-6h0m-33 1h0m-1 8h0m-24-6h0m5 6h0m6 7h0m-18 5h0m-8 2h0m7-15h0m-3-7h0m2 1h0m3 8h0m-11-3h0m-11 4h0m5-8h0m5-6h0m-18 4h0m0 14h0m8 1h0m9 0h0m-18-17h0m-1 13h0m-3-8h0m-2 0h0m-14 2h0m8-3h0m-10 10h0m-1 4h0m-11-6h0m-4-7h0m-7-5h0m7 8h0m2 8h0m-5-2h0m-7-1h0m-8 2h0m5 4h0m-1-5h0m-3-1h0m-8 1h0m-8-4h0m11 3h0m7 4h0m1 9h0m-10-8h0m8 4h0m3 7h0m-14-13h0m-9 4h0m8 1h0m-15-16h0m-5-7h0m2 3h0m-1 8h0m-5-2h0m-4-8h0m-7 9h0m-2 8h0m-2-17h0m21 28h0m2-2h0m2 0h0m14 8h0m-7-5h0m12 5h0m5 9h0m2-6h0m-1-8h0m14 9h0m1-2h0m-8-3h0m16 8h0m11-2h0m-5-7h0m14 8h0m-4 7h0m13-16h0m3 13h0m4 4h0m11-16h0m8-2h0m6-6h0m-6 15h0m19 8h0m2-15h0m9 4h0m4 7h0m6-8h0m1 8h0m8-12h0m5 4h0m1 8h0m7 4h0m13-18h0m10 17h0m8 3h0m7 5h0m-12-27h0m-7 5h0m7 1h0m7 9h0m-7 4h0m10-7h0m0 8h0m0-14h0m6 5h0m1 5h0m4-6h0m-2-8h0m12 13h0m-3-8h0m1-8h0m5 13h0m5-6h0m8 3h0m-3-1h0m4 10h0m5-16h0m9 13h0m4-9h0m-4 8h0m1 8h0m6-9h0m6-2h0m21-5h0m6-7h0m27 0h0m-6 5h0m-1 9h0m18-1h0m4 1h0m4 7h0m10-13h0m1-10h0m6 6h0m3 7h0m-5 10h0m7 6h0m0 8h0m-4-15h0m8-15h0m3 7h0m3-3h0m6 5h0m15 4h0m6 5h0m1-23h0m5-7h0m0 28h0m7 0h0m4 8h0m0 9h0m1-20h0m20-1h0m14-9h0m9 11h0m6 6h0m-2 9h0m1-17h0m10-14h0m3 10h0m4-5h0m3-4h0m8 4h0m8-2h0m-10 13h0m5-2h0m-7 2h0m12-20h0m3 1h0m0 8h0m13-2h0m-1 8h0m2-1h0m-5 8h0m-6 6h0m15-10h0m55-13h0m9-2h0m-8-2h0m26 12h0m7-9h0m5 7h0m7 4h0m-3-8h0m11 5h0m12 3h0m20-6h0m5 14h0m13-6h0m2-9h0m-1 13h0m1-2h0m20 3h0m18-9h0m9-9h0m6 9h0m8-4h0m7-4h0m-4 9h0m1 9h0m28-3h0m5-8h0m-4 8h0m1 0h0m0-13h0m5 14h0m19-3h0m26 5h0m-9 1h0m31-21h0m19 13h0m15 4h0m2-18h0m1 2h0m3 8h0m7 10h0m6 6h0m4 7h0m-6-33h0m-8 3h0m-8-2h0m17 18h0m-7-5h0m-2-8h0m10 2h0m-2 8h0m-5 7h0m11-20h0m10 14h0m3-17h0m8 3h0m-7-6h0m3 3h0m-4 7h0m-8 4h0m14-12h0m5 14h0m5-7h0m4 15h0m-5 7h0m12-23h0m45 7h0m4 8h0m-4 7h0m-5 7h0m33-25h0m-8-2h0m12-10h0m-33 30h0m-1 0h0m-6 6h0m0-4h0m-2 4h0m-8-6h0m-6 18h0m2-8h0m6-6h0m-12 8h0m-7 2h0m-3-1h0m-18 4h0m3 8h0m-18-8h0m-3-11h0m8 3h0m-11-15h0m-6-5h0m4 18h0m6 6h0m-13 3h0m-6 5h0m-4 8h0m7-21h0m9 1h0m7-4h0m-16 1h0m-4 4h0m-1-11h0m-3 7h0m-1 9h0m1-17h0m-11-2h0m-6-1h0m-8 11h0m0 9h0m-7-16h0m-7 5h0m-7 4h0m-1-13h0m-7 19h0m-1-1h0m-8 2h0m-9-1h0m16 2h0m-3-19h0m-2 9h0m-15 8h0m-19 1h0m9 0h0m-10-13h0m-13-4h0m-6 18h0m-2-14h0m6 6h0m-8 3h0m6 6h0m-11-3h0m-8-5h0m2 3h0m-3 8h0m-9-19h0m-8-4h0m-3-8h0m6 12h0m4 8h0m7 4h0m-16 2h0m-4-12h0m-7-5h0m5-2h0m-4 15h0m-6-5h0m-3-8h0m5 17h0m-8 4h0m1-19h0m-14 14h0m-8 4h0m0 9h0m4-24h0m-2-8h0m-7-4h0m4 11h0m-3 11h0m-10-18h0m-8-1h0m2 20h0m-6-8h0m-21 6h0m-9-1h0m6 0h0m-4-5h0m-10 10h0m-1 1h0m8 2h0m-17-24h0m-3 15h0m-8 1h0m3-16h0m8 0h0m-18 18h0m3-8h0m-4-9h0m4-8h0m7-5h0m-16 19h0m-7-4h0m6 0h0m-12 17h0m-7-9h0m-10 4h0m-8-3h0m2 2h0m-5 7h0m-5 7h0m9-6h0m-2-1h0m0-12h0m-7-7h0m-2 17h0m-13-16h0m-2 8h0m-21-4h0m7-5h0m-8 12h0m-13 6h0m-2 0h0m-7-5h0m-119-10h0m7 5h0m-19-8h0m-37-1h0m-9 0h0m-8-3h0m5 1h0m-73 6h0m-5-4h0m-40 5h0m-3 3h0m-3 12h0m-11-19h0m-1-8h0m-1 6h0m-4-8h0m-7 11h0m-12 16h0m-4-7h0m-2-1h0m0-7h0m-23 4h0m-4 3h0m4-7h0m-16-4h0m-21 4h0m-8 3h0m-8 3h0m6 2h0m1-9h0m-2 14h0m-8 1h0m-7 4h0m15-21h0m7 4h0m-8 12h0m4 7h0m-5-17h0m-9-1h0m4-5h0m-9 16h0m8 1h0m5-7h0m-21 8h0m-15-11h0m1 8h0m44 20h0m1-7h0m4 11h0m-5 6h0m-3 8h0m8-21h0m1 4h0m9 0h0m7 3h0m-14 6h0m0 9h0m7 5h0m0-35h0m3 12h0m7-4h0m-4-7h0m11 20h0m8-22h0m1 15h0m8-12h0m5-2h0m1 8h0m21-3h0m21-4h0m-5 7h0m8 8h0m12-17h0m6-6h0m-4 24h0m3-18h0m5 1h0m9-1h0m45 22h0m0 9h0m9-23h0m98 0h0m-8 0h0m130 12h0m5-14h0m0 5h0m4-5h0m3 8h0m1-9h0m-1 1h0m-6 6h0m12 9h0m2-16h0m3-7h0m30 4h0m22-3h0m9 14h0m2 2h0m4-10h0m0-8h0m3 24h0m4-16h0m5 7h0m2-6h0m0 5h0m1-8h0m17-1h0m6 6h0m-6-9h0m-3-7h0m4 21h0m3-5h0m-8-3h0m28 10h0m-4 7h0m8-11h0m5 6h0m0-4h0m4 4h0m2-8h0m3-8h0m-5 16h0m8-4h0m7-4h0m-1-5h0m-8 2h0m15-6h0m3 0h0m7-4h0m-4 13h0m11-9h0m-8 1h0m10 11h0m11-9h0m0 9h0m30-3h0m3-4h0m21 6h0m3 10h0m-7-4h0m-9-1h0m19-8h0m8-2h0m7 5h0m-14 1h0m-8-3h0m15-1h0m-8-3h0m12 13h0m42-7h0m12 10h0m-6 6h0m1 8h0m13-26h0m3-3h0m6 6h0m-9 1h0m11-1h0m4 6h0m4-3h0m-7-5h0m12 8h0m31 2h0m8-3h0m-4 0h0m1-6h0m6 2h0m0 9h0m3-9h0m11 2h0m2-6h0m4-8h0m24 12h0m0 5h0m1-17h0m-1 9h0m1-2h0m2-1h0m2-3h0m-5-7h0m12 13h0m9 4h0m4 7h0m2-20h0m-2 9h0m-4 7h0m18-7h0m-8 2h0m-7-6h0m1 21h0m-1 8h0m-1-7h0m0-8h0m-8 6h0m5 6h0m-19-7h0m5-7h0m-7 23h0m-11-12h0m-5 15h0m-2-1h0m0-17h0m8 0h0m-11 18h0m0 8h0m-9-20h0m-2-4h0m-1 17h0m1 9h0m-6 6h0m5-35h0m-11 11h0m-1-4h0m0 9h0m-6 6h0m4-17h0m-2-1h0m0-9h0m-4 18h0m-8-2h0m6-7h0m-1-9h0m-4 18h0m3 8h0m-3 7h0m-5-17h0m-6-5h0m-1 9h0m-3-5h0m-5-6h0m3 4h0m-2 13h0m-3-9h0m-2-8h0m-7-6h0m8 3h0m4 8h0m8 2h0m-13-4h0m8 3h0m6 5h0m-18-14h0m6 6h0m-13-3h0m0-3h0m-3 7h0m-4 12h0m-8 3h0m-8 0h0m6-20h0m7 3h0m-9 14h0m3-7h0m-6-5h0m-5-3h0m-1 8h0m-1 8h0m-28-1h0m-1-11h0m-4-1h0m-46 2h0m-1 9h0m0-8h0m2-8h0m-9 13h0m-8-1h0m-17-9h0m-2 8h0m-4-4h0m0 9h0m-1-9h0m-9 0h0m4-8h0m0-9h0m0 7h0m8 2h0m-17 9h0m0-8h0m0 0h0m-3 6h0m-6-5h0m-2-9h0m6 6h0m0 6h0m8-2h0m-20 2h0m-5 7h0m5 5h0m-5 7h0m3-26h0m-6 18h0m-8-17h0m0 20h0m-3-7h0m-8-5h0m-2-2h0m7-4h0m5-7h0m-15 17h0m-7 5h0m9-1h0m6 5h0m-23-10h0m-13 1h0m-1-7h0m-2-3h0m-8-4h0m1 3h0m4-7h0m2-8h0m-9 33h0m-10-3h0m5-6h0m8 0h0m-14-13h0m5 6h0m7 6h0m-18 10h0m-5 7h0m5-13h0m-2 4h0m-9 0h0m5-2h0m-9-1h0m5-14h0m7-4h0m6-5h0m-14 9h0m-1 1h0m4 7h0m-7 10h0m-5-7h0m2-8h0m-6 2h0m-2-8h0m2 8h0m-21 2h0m1 8h0m-11 1h0m-21-19h0m-4 6h0m-2 12h0m-13-16h0m-34 19h0m-8-4h0m8-3h0m6-6h0m-32 14h0m2 8h0m-10-8h0m-27 2h0m-11-1h0m-70-10h0m-49-13h0m4-8h0m7-3h0m-79 27h0m0-8h0m-26 5h0m5 6h0m-20-10h0m-11 8h0m-10 6h0m7 5h0m-29-21h0m19 17h0m8 7h0m9-1h0m15 17h0m-7 5h0m12-17h0m29-10h0m-4-8h0m4-8h0m13 18h0m14 3h0m8 16h0m3-14h0m16 9h0m3 5h0m3 0h0m5-4h0m5-9h0m8-2h0m-6 9h0m-4-8h0m4 11h0m9 5h0m6-6h0m1-1h0m-4-8h0m19 9h0m6-3h0m24 6h0m18-4h0m14 2h0m1 3h0m-4 8h0m-5 6h0m19-21h0m5-7h0m0 7h0m4-12h0m22 16h0m7-16h0m5-6h0m12 15h0m-7-5h0m9 12h0m8 3h0m-6-18h0m4 15h0m16 3h0m2 0h0m1-3h0m6-11h0m7 4h0m6 5h0m7-14h0m8-1h0m23 14h0m13 7h0m4 8h0m9-11h0m2-5h0m4-7h0m4-2h0m-5 6h0m-9-1h0m17-7h0m4 7h0m-8 3h0m11-13h0m5 0h0m-7-4h0m0-9h0m7 19h0m2-3h0m11 12h0m11-14h0m4 2h0m1 17h0m10-1h0m0-7h0m0 8h0m8-4h0m2-16h0m1 4h0m6 4h0m1 7h0m1 8h0m1-2h0m8-2h0m13-19h0m3 2h0m6 4h0m3 9h0m-8-3h0m16-5h0m16 14h0m-8 1h0m31-12h0m-4 8h0m9-12h0m9-2h0m6-6h0m8 0h0m-9 7h0m15-5h0m-5-7h0m13 19h0m3-11h0m10 5h0m7-4h0m6 6h0m7 4h0m-4-7h0m1-6h0m3-7h0m-3-8h0m3 30h0m1-5h0m8 8h0m7-3h0m7-7h0m-3-8h0m0-8h0m7 25h0m-8 0h0m-6-6h0m18 0h0m5-11h0m-8-4h0m9 22h0m6 6h0m8 0h0m-12-1h0m2-9h0m7-4h0m0-5h0m-8-2h0m-8-3h0m23 6h0m1 7h0m8-1h0m8 2h0m-16-2h0m-1 8h0m2-19h0m-2 9h0m4 4h0m8 2h0m5-5h0m1 7h0m8-3h0m-2 3h0m1 4h0m-7-5h0m9-3h0m22 5h0m-9-1h0m18 6h0m5-16h0m7-4h0m1 20h0m2-8h0m-5-7h0m4 10h0m5-12h0m1-3h0m-7-5h0m-8-3h0m18 15h0m8 1h0m-3 15h0m-8 3h0m-8 1h0m12 1h0m-7-7h0m8-4h0m8-2h0m-24 9h0m9-1h0m4-7h0m-16 5h0m-7 22h0m-8-20h0m-10 1h0m-30 19h0m-5-15h0m3-7h0m-8 17h0m-2-11h0m-5-2h0m-5-7h0m2 10h0m-3 15h0m-3-8h0m-1-11h0m-2-8h0m-8 9h0m-1 9h0m-5-7h0m-9-1h0m12-2h0m7-5h0m-8 13h0m-18 0h0m8 3h0m-23-8h0m-2-8h0m5-7h0m-5 26h0m0-12h0m-3 5h0m-1 0h0m-2-8h0m-3-8h0m3 6h0m-14 6h0m-6 4h0m-4 8h0m-6 6h0m9-12h0m-4-11h0m-4 6h0m-3-4h0m-2-4h0m-6 21h0m-1-4h0m6-6h0m-13-10h0m-8-3h0m-5 19h0m-8-11h0m-1 14h0m-8-2h0m-7-4h0m11 3h0m-3-6h0m-14 6h0m-15 2h0m-5-15h0m-5 1h0m9-1h0m-20 10h0m3-8h0m-11 7h0m-6-6h0m5 7h0m-16 10h0m-1-4h0m9 0h0m6-6h0m-34-7h0m-6 14h0m-7-4h0m7-5h0m-9 8h0m-1-8h0m8 2h0m6 5h0m-16 3h0m-3-11h0m0 8h0m3 8h0m-14-22h0m-27 3h0m-3-4h0m-1 2h0m3-7h0m6-5h0m-26 28h0m-1-14h0m-1-9h0m0-8h0m-8 16h0m5-7h0m-13 12h0m-8 2h0m8 4h0m-7-5h0m-2-8h0m-2 1h0m6-5h0m-9 9h0m-9 0h0m8 6h0m-8 1h0m-1-17h0m-13 23h0m-4-11h0m-7 6h0m-9-13h0m6 6h0m-11 0h0m-3 11h0m-8-9h0m1-8h0m-1-8h0m0 26h0m8-2h0m-12-2h0m-8-1h0m3-1h0m-5-14h0m7-5h0m-9 16h0m-8-2h0m-10-7h0m7-4h0m7-5h0m-16 15h0m-7-5h0m4-1h0m-6-6h0m0 14h0m8 3h0m7 4h0m-20-17h0m-11 10h0m6 6h0m-10-8h0m-8 3h0m-6-9h0m-7 5h0m6 7h0m-5 7h0m-7-20h0m-4 7h0m1 2h0m-5 3h0m0-8h0m6 6h0m-11 4h0m7 4h0m-15-11h0m-1-10h0m-7-4h0m7 24h0m-11-3h0m-8 2h0m-9-2h0m15-11h0m-5 9h0m-4-5h0m-3 10h0m-2-8h0m5-7h0m-19 6h0m0-9h0m-3 19h0m-3-3h0m-6-3h0m-24-11h0m-7-4h0m-7-5h0m10 21h0m-4-7h0m-6-6h0m7 11h0m5 6h0m-21-3h0m-1 9h0m-5-9h0m7 24h0m9-2h0m3-8h0m-5 8h0m-1-9h0m5-2h0m4 0h0m1 8h0m2 5h0m-4 7h0m-7 6h0m18-24h0m1-5h0m6-6h0m8-1h0m-5 15h0m8 11h0m8-1h0m9-1h0m-8-18h0m-7-5h0m8 17h0m-2-8h0m5 6h0m6-6h0m1 8h0m7-8h0m3 6h0m0 8h0m3-11h0m8 13h0m2-11h0m6 0h0m1-10h0m0 20h0m5-9h0m-8-4h0m17 11h0m-7-3h0m11-7h0m0 8h0m19-8h0m-8-2h0m21 11h0m16 6h0m1-22h0m-9 2h0m26 1h0m7 4h0m0-1h0m3 5h0m5 6h0m-3-13h0m-5 7h0m-5 7h0m16-1h0m-7-5h0m10-10h0m5-7h0m8 9h0m8 18h0m3-22h0m8 3h0m3 7h0m-9 5h0m8 7h0m2-1h0m11-13h0m4 8h0m13-16h0m8 2h0m8 3h0m-1 11h0m1-7h0m3 8h0m-2-12h0m7 6h0m-1-8h0m19 1h0m-1-8h0m6-6h0m-3 22h0m1 2h0m9-8h0m3-3h0m0 8h0m0-12h0m-3-8h0m6 14h0m-8 2h0m13-2h0m6-3h0m6-1h0m5 10h0m-2-8h0m9-1h0m-8-1h0m-7 4h0m19 16h0m9-19h0m6 21h0m4 7h0m5 7h0m-8-35h0m1 6h0m1 0h0m3-8h0m4 4h0m2 7h0m7-2h0m7 9h0m-4 7h0m8-19h0m4-4h0m8 19h0m8-3h0m-2-19h0m2 5h0m6 0h0m1-8h0m0 17h0m7-5h0m-4-5h0m8-1h0m-7 16h0m4 7h0m9-22h0m8 4h0m-7-7h0m6-5h0m-5 21h0m2 4h0m17-9h0m0-6h0m16-2h0m-5 8h0m9 5h0m-8 3h0m17-12h0m2 13h0m7-4h0m-6-4h0m5 6h0m1-6h0m4 5h0m1 0h0m9-16h0m-3 8h0m4 8h0m23-9h0m6-5h0m9 6h0m3-2h0m3-4h0m0 12h0m8 3h0m-5-7h0m4-6h0m-4 7h0m6 3h0m2-8h0m13 13h0m2-4h0m7-6h0m2 3h0m2-1h0m7 3h0m6 6h0m-13-19h0m-8-3h0m-5-7h0m18 22h0m8-4h0m2 4h0m-8 1h0m30-13h0m4 18h0m1 8h0m6-18h0m3 8h0m7 5h0m-9-18h0m4 8h0m7 4h0m3-9h0m-7-3h0m-56 23h0m0-8h0m3-8h0m-10 18h0m-9 4h0m-65-1h0m-12 10h0m-15-13h0m-14 8h0m-5 1h0m6 6h0m-12 1h0m-16-23h0m8-4h0m8 2h0m-16 13h0m0 9h0m-8-9h0m-8 2h0m-6 6h0m9-12h0m-7 13h0m-9 0h0m7 0h0m-6-6h0m8 3h0m-35 3h0m-12-6h0m-2 2h0m6-5h0m-19 0h0m-2 8h0m2-6h0m-8-11h0m-22 6h0m-9 1h0m5-9h0m-12 11h0m-7 4h0m-2-5h0m-2 12h0m-12-12h0m-2 6h0m7-4h0m-9-5h0m8-2h0m-16 9h0m-5-2h0m-6-6h0m-5 16h0m0-16h0m-3 7h0m3 6h0m-3 0h0m-8 4h0m-2-8h0m-1-13h0m-2 19h0m-9-1h0m-19-2h0m-7-5h0m-5-7h0m6 0h0m4 7h0m3 8h0m-25-3h0m-6-6h0m-7-3h0m7 0h0m-8 4h0m4 8h0m-31-8h0m-5 9h0m-3-8h0m3 7h0m-2-12h0m-25 13h0m-1 8h0m1-10h0m5-7h0m-8 10h0m-1-21h0m-4 21h0m-5-6h0m3 0h0m-7-4h0m-9-2h0m14-2h0m9 0h0m5-6h0m-15 16h0m-12-9h0m-6-1h0m-2 4h0m-10-8h0m-4 16h0m5 6h0m-10-20h0m7-4h0m-9 21h0m8-1h0m-8-10h0m-1 7h0m-5-7h0m3-6h0m-6-4h0m-1 17h0m-11-1h0m-2-15h0m7 4h0m-18 11h0m-1-10h0m-33 0h0m6 5h0m7 5h0m-16-14h0m-6 9h0m-2 6h0m4-7h0m-7-8h0m8 2h0m8 0h0m-21 16h0m-2-10h0m0-9h0m-1 13h0m-5-7h0m-8 1h0m5 33h0m-1 8h0m20-19h0m8-2h0m-1 12h0m-8 0h0m15 2h0m-5-6h0m19-2h0m5-4h0m7 4h0m-3-8h0m5-5h0m2 9h0m19-4h0m8 2h0m3 14h0m4-15h0m14 11h0m3-10h0m-4-7h0m13 15h0m-5 6h0m12-13h0m0-8h0m-4 7h0m16-5h0m3 7h0m5 5h0m1 8h0m1 9h0m17-25h0m7-1h0m-5-6h0m10 14h0m2-10h0m5 7h0m0 9h0m8-3h0m8-1h0m-15 1h0m2-9h0m1 14h0m1-20h0m3 21h0m6 0h0m6-4h0m7-1h0m13-16h0m-6 6h0m0 8h0m10-11h0m0 16h0m7-14h0m1 7h0m7 5h0m5 7h0m-9-21h0m2-8h0m4-7h0m9 26h0m2 9h0m8-3h0m3-15h0m7 5h0m-2 8h0m4-14h0m2 7h0m-6-5h0m8-2h0m2 8h0m0 5h0m6 5h0m9-7h0m9 5h0m6-17h0m8 0h0m-4 17h0m20 2h0m0-22h0m1 8h0m14-4h0m-4 8h0m-1 8h0m27 2h0m-8-2h0m11 0h0m8-5h0m2-13h0m2 18h0m0-10h0m4 8h0m-4 8h0m10-23h0m5 12h0m6 1h0m5-11h0m-5 7h0m10-12h0m9-1h0m-7 17h0m33-7h0m-1 9h0m4 3h0m2-22h0m-4 7h0m0 8h0m7-10h0m-1-8h0m2-8h0m5 11h0m0-8h0m1 19h0m-8 3h0m-9-1h0m18 0h0m8 3h0m2-13h0m-2 8h0m8 2h0m8-10h0m21-1h0m12 5h0m4 15h0m6 6h0m-5 4h0m0 9h0m-1-13h0m-8-1h0m-8 0h0m6 0h0m-22-1h0m5 7h0m-5-6h0m-8 2h0m-7 6h0m2-6h0m1-9h0m-7 10h0m-5-7h0m-5 21h0m-14-4h0m-20-12h0m-8-1h0m5 1h0m-1 2h0m-1 3h0m-20-3h0m-1 17h0m0-9h0m-7-5h0m6-1h0m8 2h0m9 2h0m-21 3h0m-6 1h0m-5 4h0m-7-14h0m-6 12h0m-8-2h0m-8-3h0m-15 1h0m-4 4h0m-5-7h0m4-5h0m0 8h0m-9-4h0m-3 11h0m-3 8h0m0-27h0m-2 18h0m-5-3h0m-4-14h0m-8-1h0m-7 6h0m-17 3h0m-5-4h0m-6-3h0m-2 19h0m-11-21h0m6 6h0m-28 1h0m-7-5h0m-1 16h0m8-3h0m8-2h0m-21-9h0m-4 7h0m-1 9h0m3-11h0m6-6h0m1-8h0m-10 6h0m0 4h0m-1 7h0m8 3h0m6 6h0m-20-5h0m2-8h0m-4-8h0m1 20h0m-3-5h0m-1-2h0m-11-12h0m-8 2h0m-2 13h0m-3-6h0m0-10h0m3-7h0m-11 13h0m8-3h0m8 2h0m-20 6h0m-5-11h0m-8 1h0m-6 6h0m12-8h0m-5 9h0m-8-4h0m-1-2h0m-2 18h0m5-7h0m-14 4h0m-9-1h0m-5-6h0m8 12h0m8 2h0m-11-14h0m4 7h0m-23-2h0m-1-14h0m4 7h0m-8 6h0m-20-8h0m-5 2h0m-1 12h0m-7 5h0m5-24h0m-2 14h0m1 9h0m-1-16h0m7-4h0m-9-1h0m-2 5h0m-8 1h0m7 3h0m-2-7h0m7-5h0m0-8h0m-13 9h0m-3 20h0m-9-7h0m-15-2h0m-10-6h0m-5 9h0m-1 9h0m-4 7h0m-8-26h0m-11-2h0m-6 9h0m8 2h0m-10-1h0m-3 1h0m-7 5h0m-7 6h0m3-11h0m-6 21h0m5 7h0m-1-14h0m0 9h0m8-10h0m-8-3h0m-8-2h0m23 10h0m8-3h0m-8 6h0m3 3h0m5-11h0m3 8h0m3 5h0m-8 3h0m9-14h0m8-2h0m23 12h0m0-13h0m4 9h0m-4-7h0m13 16h0m16-9h0m-8 3h0m-7 4h0m15-17h0m-7 4h0m8 15h0m-1-8h0m14 1h0m4-4h0m8 2h0m-1-6h0m1 17h0m3 8h0m4 7h0m1-28h0m1 8h0m12-3h0m1 5h0m1-14h0m-9 0h0m11 14h0m-7-3h0m40 0h0m4-4h0m2 3h0m1 7h0m7 5h0m-3-24h0m8 3h0m-8 8h0m5 7h0m3 8h0m-6-9h0m-1-8h0m2-4h0m1-9h0m-7-4h0m0-9h0m11 28h0m6-2h0m8-8h0m1 7h0m8-2h0m-1-2h0m6 3h0m4-12h0m16 15h0m5 7h0m15-22h0m8 18h0m7-5h0m-1 9h0m0-9h0m1-8h0m0 8h0m-8 2h0m25 3h0m39 0h0m3-15h0m4 14h0m2-8h0m-8 2h0m-8 2h0m20-11h0m3 11h0m-6-6h0m8-6h0m9-1h0m10 18h0m-1 8h0m5-10h0m12-2h0m-6-6h0m17-7h0m0 17h0m-4 7h0m2 8h0m6-32h0m-3 8h0m9 1h0m6 2h0m2 10h0m6-10h0m-8-3h0m-2-8h0m15 23h0m0-15h0m-7 5h0m16-6h0m0 15h0m2-2h0m4-4h0m4-15h0m4 6h0m6-6h0m6 3h0m16-2h0m5 7h0m-4-2h0m9-1h0m-1 7h0m2-14h0m6-6h0m-2 21h0m-7 4h0m-8 0h0m16-8h0m-8 2h0m-7 5h0m18-15h0m3-3h0m4 22h0m12-20h0m5 4h0m16 1h0m-83 25h0m6 6h0m-11-10h0m-3 2h0m-24 1h0m-15 9h0m-3-13h0m-28 0h0m-8-3h0m-4 4h0m2 8h0m-3-9h0m-4 3h0m8 0h0m-13 11h0m-6 2h0m-1-2h0m8 2h0m-10-14h0m-2-8h0m-12 26h0m0 9h0m-8-12h0m-9-1h0m8-17h0m-3 0h0m-14 7h0m-2 5h0m0 0h0m-6-6h0m-8 0h0m11-6h0m0-8h0m-9 8h0m9 2h0m-22 18h0m7-5h0m-28-13h0m-8 1h0m0 7h0m-8-1h0m-1 9h0m-2-8h0m-6-5h0m1 8h0m-6 2h0m-12 2h0m6-5h0m-10-7h0m-8 11h0m-2-14h0m-9 0h0m5 14h0m8 3h0m-14-16h0m-16 2h0m-8-5h0m1-8h0m-3 27h0m-1 2h0m-5 1h0m-1-13h0m-7 8h0m6 6h0m-24-20h0m-4 13h0m-4-11h0m-2 8h0m-1 0h0m-1 8h0m-1 8h0m-1-29h0m-4 12h0m-1 8h0m-8 1h0m-6-15h0m0-8h0m-1 4h0m-5-1h0m-4 10h0m-9-13h0m1 8h0m-3-3h0m-2-3h0m-11 15h0m-8-2h0m-21 3h0m-2-13h0m-3 8h0m3 7h0m-8-8h0m-2 5h0m-11-17h0m-1 21h0m-2-5h0m-1 6h0m-2-4h0m8-1h0m-25 4h0m-4-13h0m-9 0h0m9 25h0m5 8h0m6-6h0m3-8h0m-9 21h0m8-1h0m7 5h0m6-10h0m-7-5h0m9-9h0m-1-8h0m2 6h0m5 15h0m-8-3h0m14 9h0m-1 8h0m4-26h0m0 9h0m4-8h0m7 4h0m7 5h0m-11-2h0m10 9h0m5-7h0m-2-2h0m-1-8h0m3 15h0m2-12h0m0 5h0m-5 6h0m-3 8h0m15-10h0m-8 1h0m-7-5h0m20 10h0m6-5h0m-6 0h0m6-9h0m1 2h0m-4 7h0m23-15h0m4 5h0m7 12h0m1-5h0m3-15h0m13 3h0m2 15h0m9 0h0m-2-7h0m15 2h0m7-4h0m0 9h0m5 6h0m-2-20h0m11 6h0m8-9h0m-3 8h0m4 8h0m0 5h0m-1 8h0m2-14h0m20-15h0m3 11h0m-3 8h0m3 3h0m-6-6h0m6-14h0m2-3h0m12 11h0m-3 8h0m8-6h0m5 7h0m-4-3h0m2 2h0m8 3h0m20-2h0m5-14h0m3-3h0m2 21h0m-7 4h0m10-15h0m3 4h0m2 8h0m-2-18h0m8 1h0m0-3h0m1 2h0m3 2h0m3 8h0m3-15h0m2 2h0m3 8h0m9-5h0m4 3h0m2 5h0m-1 9h0m3-18h0m3 13h0m5-19h0m5 1h0m7 5h0m8-1h0m-12 13h0m9-4h0m-4-8h0m-15 19h0m5 6h0m-10 7h0m-4-7h0m2-9h0m-6 20h0m3-8h0m-19-5h0m-3 8h0m-4 7h0m4-1h0m-4-12h0m-17 5h0m-2 0h0m-6-3h0m5-7h0m-16 16h0m1 8h0m-5-22h0m-2 9h0m6 5h0m-11 0h0m5-6h0m2-9h0m-9 10h0m-1-3h0m8-4h0m8 3h0m-19 9h0m-8 0h0m-8 3h0m15-18h0m-19 15h0m-3-16h0m0 12h0m-2 2h0m-1-13h0m5-7h0m-10 16h0m7-6h0m-20 15h0m3 8h0m-13-8h0m-6-9h0m8-1h0m-18 0h0m-1 7h0m-9-16h0m-8-1h0m-1 0h0m-17 14h0m2-9h0m-4-4h0m-2 13h0m-16 1h0m-25 4h0m4 7h0m-13-7h0m-4-7h0m-7-5h0m8-5h0m-16 4h0m-8 2h0m-8 4h0m12-11h0m-4 17h0m5 6h0m2 8h0m-8-18h0m-8 2h0m-9-2h0m14-4h0m-4 1h0m-1-10h0m-6 6h0m-10 9h0m8 1h0m-14-18h0m-2 16h0m8-3h0m-12 3h0m-9-5h0m9 2h0m9 24h0m26 6h0m3 8h0m13-26h0m5 19h0m-5 7h0m13-5h0m6-11h0m-4 7h0m9-7h0m1-8h0m9 11h0m7 6h0m2 1h0m1-9h0m13 2h0m2-8h0m7 6h0m5-6h0m3 14h0m6-5h0m-2-10h0m7 18h0m8-3h0m8 4h0m-15-18h0m0 15h0m2-18h0m5 9h0m4-3h0m2 8h0m2-10h0m2-7h0m8 17h0m3 8h0m7 5h0m-5-10h0m9-7h0m3-2h0m0 9h0m17 4h0m-4 7h0m7-19h0m2-6h0m10 8h0m6-6h0m1 1h0m4-7h0m-2-8h0m5 13h0m-6 6h0m-8 2h0m15-2h0m1-1h0m2-1h0m-4-7h0m-7-3h0m20 1h0m7 15h0m7-3h0m4 8h0m0-15h0m9-5h0m-4-7h0m6 10h0m-8-4h0m8 6h0m10-4h0m12-1h0m-49 23h0m-1-1h0m-6 6h0m-8 4h0m-2-10h0m-4-7h0m-124 24h0m-5-6h0m1-9h0m4 15h0m8 1h0m-15-2h0m-14-8h0m-2 9h0m3 7h0m-3-12h0m-9-6h0m8 2h0m-12-5h0m-22 19h0m1-8h0m-6 9h0m-9-10h0m-3 9h0m-7-22h0m9-1h0m8 3h0m-18 2h0m-4 6h0"/><path id="eG" d="M5721 3602h0m3 7h0m19-8h0m8 2h0m8-3h0m-30 36h0m0 11h0m-1-14h0m0 23h0m8 1h0m-2-7h0m7-2h0m-1 25h0m9 0h0m124 45h0m19-4h0m19-7h0m5 2h0m1-7h0m19 13h0m2 1h0m6 5h0m7 4h0m1-12h0m28-7h0m34 8h0m11 2h0m54 13h0m-1 1h0m0-8h0m-7-5h0m0 16h0m7-5h0m4-7h0m-45 16h0m-2-12h0m-7-6h0m-16 5h0m-8-3h0m-17 4h0m8 0h0m-20 3h0m-15 16h0m-41-10h0m-13-6h0m8 0h0m-35 11h0m-28-14h0m-12 17h0m-9-2h0m-3-10h0m8-1h0m-84 35h0m37 2h0m-3-8h0m0-8h0m29 14h0m1 2h0m10-8h0m29-6h0m39 5h0m12-11h0m1 9h0m29-6h0m5 16h0m-2 8h0m18-24h0m8 5h0m8 2h0m-6-6h0m2 3h0m29 15h0m15-18h0m-5 7h0m-5 7h0m12-8h0m3-12h0m5 22h0m29-10h0m7-10h0m-1 8h0m22-6h0m37 3h0m6 6h0m0 1h0m-21 27h0m-1 3h0m-17-11h0m-15-7h0m7 5h0m-9-4h0m-11 14h0m-3-7h0m-2-8h0m-2 0h0m-23 13h0m8-2h0m-33 9h0m-5 7h0m1 8h0m-4-34h0m-12 1h0m-1-8h0m4-8h0m-13 20h0m5-7h0m1-8h0m-23 12h0m-56 1h0m-19 15h0m-41-3h0m-7-4h0m-3 8h0m-6 6h0m-20-15h0m-6 4h0m-8-1h0m-8 1h0m16-4h0m-17 3h0m-28 7h0m6-5h0m8-1h0m-38-1h0m-37-3h0m-35-1h0m-19 7h0m-9-3h0m-43-3h0m-7-4h0m-1 12h0m-5-12h0m7-5h0m-63 16h0m-8-2h0m-5-4h0m-29 6h0m3-8h0m-60-9h0m0 8h0m-27 9h0m-7 1h0m-2-2h0m8 1h0m-10-8h0m-9-1h0m-19 13h0m-10-4h0m15 6h0m3 18h0m32-18h0m-3 8h0m-5 7h0m26-13h0m2 8h0m-1 8h0m39-5h0m31 9h0m24-18h0m-1 8h0m-8 4h0m16-11h0m3 7h0m2-8h0m58 4h0m-8-3h0m60-5h0m-4 8h0m46 13h0m-8 3h0m-7 4h0m20-26h0m0 8h0m-5 7h0m33-5h0m-9-1h0m-4-7h0m29 7h0m28 10h0m11-15h0m2-3h0m5 9h0m-5 6h0m-2 9h0m12-24h0m6 9h0m21 3h0m10-1h0m10-14h0m8-4h0m30 26h0m4-8h0m-4-7h0m39 6h0m49-13h0m55 16h0m7-6h0m37 12h0m8-3h0m37-12h0m7-6h0m0-2h0m-6-6h0m-4-7h0m12 31h0m4-8h0m4 22h0m4-7h0m-4-8h0m0 24h0m5 6h0m-5-8h0m7 4h0m9 2h0m-66-5h0m-8 6h0m5-6h0m-28-13h0m-4 7h0m-7-5h0m-32 16h0m-25-3h0m9 1h0m-40-5h0m-18 7h0m-16-17h0m-6 11h0m-2 8h0m-18-17h0m-2 14h0m-16-6h0m-7 5h0m2 1h0m-8 1h0m-43-5h0m6 7h0m-14-2h0m-36-14h0m3 7h0m-17-12h0m-2 14h0m-11 4h0m-9-5h0m-17 4h0m-28-10h0m-8 12h0m-7-8h0m-6 5h0m-11-16h0m0 8h0m-8-4h0m-8 1h0m0-8h0m3-8h0m-4 16h0m-8-2h0m-8-4h0m7 8h0m-7 4h0m-8-3h0m12 3h0m-12-2h0m-24-8h0m-10 12h0m-8-3h0m-35 2h0m8-3h0m-23 2h0m-6-6h0m-13 10h0m-3-8h0m-7 6h0m-4 8h0m-32-4h0m-22-8h0m-2 10h0m8 3h0m-24-16h0m-29-1h0m-5-3h0m8 2h0m-14 10h0m-11-7h0m-3 8h0m138 12h0m-7 4h0m7-2h0m5 0h0m108 1h0m8-2h0m5-6h0m6 7h0m-8 0h0m-5-7h0m38 7h0m-2 8h0m75-14h0m15 8h0m-2-8h0m4 6h0m34-2h0m-7-6h0m17 1h0m1 9h0m-6 6h0m29-5h0m28-6h0m7-5h0m8 0h0m24 6h0m6 6h0m9 0h0m25-1h0m2-2h0m7 5h0m7-7h0m30 11h0m-8 4h0m22-2h0m22-10h0m24-1h0m18 6h0m15 2h0m8-11h0m2-5h0m-7-4h0m-8-1h0m16 5h0m8-1h0m-3 12h0m8 0h0m1 7h0m-2 8h0m-77-1h0"/><path id="fM" d="M7089 3610h0m7-4h0m1-9h0m2 13h0m17 0h0m4 8h0m13-18h0m15 0h0m14 0h0m2 17h0m35 2h0m2-16h0m0 9h0m8 5h0m27-5h0m-8 3h0m74 29h0m4-8h0m1-8h0m-8 13h0m-14 5h0m2-8h0m2-8h0m-13-3h0m-6-5h0m-9 2h0m3 10h0m-8 12h0m3 8h0m-11-13h0m-14-5h0m-5 6h0m-33 1h0m-4-14h0m-7-3h0m-1 1h0m-10 11h0m-9 3h0m-1 8h0m-1-17h0m7 4h0m-11 0h0m-5-1h0m-5 10h0m-3-8h0m2 4h0m-1-11h0m-5-7h0m-11 15h0m-10 10h0m-1-4h0m-8-8h0m-2-12h0m-5-6h0m0 23h0m-12 18h0m-8 2h0m22-8h0m34 12h0m17 6h0m0-8h0m8 1h0m48-13h0m3-8h0m7 12h0m0 16h0m7-8h0m-6-5h0m8 6h0m12-12h0m5 11h0m2-8h0m5 1h0m4 3h0m24 7h0m8 0h0m-8 1h0m5-18h0m5 19h0m3 3h0m-8 1h0m-8-4h0m32-4h0m10 3h0m4-6h0m-6 5h0m-2 8h0m104 21h0m-8 2h0m-10-4h0m-11-12h0m-4 3h0m-41-7h0m1 8h0m-22-12h0m-8-2h0m-16 2h0m-5-7h0m0-8h0m-5 27h0m-13-10h0m-16 20h0m-7-11h0m-6 1h0m-2 7h0m-4-15h0m-1 0h0m-8 1h0m-8 15h0m-2-8h0m-14-8h0m-9 4h0m-6-6h0m5 8h0m-21 0h0m-12 2h0m-33-3h0m-5-8h0m-3-8h0m-2 14h0m-6 10h0m-4 5h0m-7 4h0m-7 5h0m4-16h0m-8 2h0m-3-2h0m-6 3h0m9 1h0m4 7h0m-8 2h0m2-2h0m3 14h0m5-2h0m7 5h0m5 0h0m7 6h0m-6-3h0m7-4h0m13-7h0m0 0h0m1 6h0m0-13h0m3-8h0m4 3h0m0 12h0m0-8h0m2-4h0m8-3h0m5-7h0m-8 33h0m13-14h0m47 12h0m2-7h0m2-9h0m5-7h0m-3 11h0m10 10h0m1 3h0m16-10h0m6-5h0m-4 2h0m8 0h0m0 13h0m-4-7h0m-7-3h0m26 6h0m5-4h0m8 2h0m2 0h0m16-2h0m18 6h0m9 2h0m-5-15h0m-2-8h0m9 16h0m3 8h0m-2-15h0m5 6h0m22-13h0m-7-5h0m7 18h0m2 8h0m-4 8h0m5-25h0m-1-9h0m6-6h0m-2 19h0m-8 2h0m14-7h0m-6 6h0m14 6h0m14-10h0m7 3h0m6-3h0m8 17h0m-9 0h0m9-14h0m3 8h0m0 7h0m8-4h0m3-8h0m-6-4h0m1 8h0m-8 2h0m20 23h0m-26-10h0m-1 2h0m8-3h0m-21 16h0m-8-1h0m2-4h0m-2 7h0m-11-8h0m0-9h0m-5 4h0m-6-8h0m-14 15h0m-3-3h0m-11 9h0m-25-22h0m-5 11h0m-2 8h0m-6-16h0m-12 7h0m-13-1h0m-1 8h0m0-12h0m-7-5h0m0-1h0m-2 22h0m-3-6h0m-5-5h0m5-6h0m-10 4h0m-1 7h0m0-1h0m-13-9h0m0-2h0m5 6h0m-7 5h0m8 4h0m-21-15h0m-8 11h0m-3-8h0m-19 10h0m-2 9h0m-4 7h0m5-28h0m-12 4h0m-8-2h0m-5 16h0m3 7h0m-5-27h0m-9 1h0m-8 2h0m9 9h0m-12-9h0m0 4h0m4 7h0m-38-9h0m-4-6h0m-7-6h0m10 6h0m-5-1h0m-7 4h0m-2 9h0m-19-2h0m-5-7h0m-6-5h0m8 13h0m-285 12h0m8 16h0m13-16h0m13 20h0m-7 5h0m-4 7h0m23-10h0m-4 7h0m181-11h0m4-8h0m3-8h0m-2 9h0m2 4h0m8 3h0m9-14h0m6 2h0m-1 8h0m1-13h0m-2-8h0m2 16h0m31-9h0m-8 0h0m-8-1h0m32 6h0m4-7h0m4 5h0m11 11h0m-8-3h0m-3-8h0m46 3h0m-8 2h0m-3 8h0m19-3h0m6 1h0m18 8h0m3-9h0m13 7h0m8-1h0m8 0h0m-12-19h0m0 9h0m16 11h0m5-19h0m-5 6h0m29-9h0m-8 0h0m-8-3h0m21 20h0m5 7h0m6 6h0m-11-14h0m6-12h0m5 4h0m-9 2h0m53-8h0m5 7h0m5 7h0m9 1h0m-6-6h0m10-5h0m1-6h0m1 6h0m-5 7h0m11 7h0m3-8h0m8-3h0m-6-4h0m11 16h0m2-8h0m8-2h0m-6 9h0m7-4h0m2 6h0m5-10h0m17-9h0m5-6h0m4 21h0m4-14h0m29 12h0m114 28h0m4 7h0m-45-13h0m9-2h0m5-6h0m-25 13h0m-5 3h0m-1 0h0m-3-19h0m-6 6h0m0 9h0m-6 3h0m-3 8h0m-2-12h0m9-1h0m8 2h0m-23-5h0m3 8h0m-13-5h0m2 9h0m-33-6h0m-3 2h0m-4-20h0m-3-8h0m-4-7h0m-10 17h0m-7 5h0m-5 7h0m-3 8h0m-10-8h0m-4 2h0m-5 2h0m-8 4h0m1-7h0m8-3h0m-15 7h0m-5 6h0m-4-11h0m-8 0h0m-12-15h0m-12 10h0m0 9h0m0 8h0m-7-7h0m-3-11h0m-27 12h0m-7-5h0m-8 2h0m10-9h0m-1 9h0m-9-12h0m-3 16h0m8-3h0m-11 3h0m6-6h0m2-8h0m-20 5h0m-1 3h0m-6-6h0m-2 9h0m-2 1h0m-25-18h0m-4-7h0m3-8h0m-22 29h0m-9-11h0m-1 1h0m-46-1h0m-12 18h0m-7-16h0m-17 12h0m-29-9h0m-29 1h0m-182-6h0m-7-4h0m-8-4h0m9 10h0m-10 8h0m-4 3h0m-1-7h0m7-5h0m-8 11h0m4 7h0m-8-6h0m-3 7h0m-4 8h0m3-26h0m-1 8h0m-6 6h0m182 13h0m4 10h0m19 4h0m2-7h0m-5-6h0m6-11h0m-6 6h0m7-5h0m15 6h0m4 17h0m-3-8h0m5-7h0m7-6h0m13 13h0m8-3h0m-2-5h0m-5 8h0m7-2h0m1 9h0m5-11h0m14-9h0m1-9h0m-3-7h0m18 29h0m3-6h0m10-6h0m43 8h0m-1 9h0m19-16h0m-4-7h0m14 24h0m2-5h0m11-12h0m2 0h0m7-6h0m-1 11h0m1 2h0m12-5h0m-8-3h0m10-1h0m1-1h0m-5 7h0m5 10h0m-8 4h0m13-23h0m0 1h0m7 7h0m-5 7h0m7-6h0m8-2h0m-7-3h0m-8-2h0m11 2h0m10-4h0m3 9h0m5-6h0m2-9h0m17 23h0m4 8h0m-2 8h0m1-15h0m4 7h0m2-8h0m5-3h0m8 1h0m4-3h0m-8 3h0m11 1h0m-7-4h0m36-2h0m-8 2h0m15-9h0m9 1h0m-9-2h0m-8-2h0m21 22h0m43-21h0m21 21h0m-5-7h0m-3-7h0m9-4h0m-8 1h0m-6 7h0m21 9h0m23-17h0m4 8h0m1 8h0m5 0h0m9-7h0m2 4h0m1-12h0m7-5h0m35 9h0m4 6h0m25 8h0m6 7h0m7 4h0m-10-11h0m-8-1h0m10-9h0m8 4h0m-7-1h0m1-5h0m6-4h0m3 9h0m5 7h0m10-2h0m6 0h0m14 2h0m2-7h0m6 6h0m0-12h0m0 26h0m8 4h0m-46 3h0m-20 3h0m-9-12h0m-22-6h0m-3-8h0m1-9h0m-2 34h0m-6 6h0m2-8h0m9 0h0m-10-1h0m-8 1h0m-34-8h0m0 9h0m-5 7h0m-5-20h0m8-3h0m9-1h0m-40 19h0m3-8h0m1-8h0m-4 6h0m2 8h0m-2-3h0m3-8h0m-7 12h0m-7-6h0m1-8h0m-2-2h0m7-5h0m-9 6h0m-9-5h0m-9 14h0m-20 1h0m-16-12h0m-4 8h0m-4 7h0m-2-11h0m-7 10h0m8-1h0m-16-16h0m7-5h0m8-2h0m-18 13h0m-9-5h0m-27 5h0m-1 7h0m-7 4h0m-6 6h0m11-23h0m-4 22h0m1-8h0m7-5h0m-27 10h0m-24-7h0m-6-12h0m-5 22h0m-1 9h0m-11-22h0m-4 1h0m-7 4h0m-7 4h0m12-5h0m8-2h0m-8-7h0m-1 0h0m-5 11h0m-4-15h0m-28 7h0m-4-7h0m3-8h0m-13 15h0m-12-3h0m7 4h0m-13 2h0m3 8h0m-35-3h0m-9-7h0m4-8h0m-4-7h0m-15 20h0m1 8h0m-3-12h0m-5 2h0m-10-9h0m-1 4h0m1-9h0m-7 5h0m-8 1h0m8 13h0m-8-3h0m-3-8h0m10 17h0m-27-9h0m-5-5h0m1 8h0m-5 7h0m-14-10h0m-1 9h0m-11-12h0m-1 5h0m6 5h0m-8-16h0m-35 10h0m8-3h0m-22 33h0m1 8h0m0-7h0m-9-1h0m-5-6h0m16-5h0m2 11h0m-6-5h0m15 2h0m44-16h0m3 19h0m3-1h0m0-16h0m4 20h0m0-11h0m11-4h0m-8-3h0m14 16h0m4-13h0m1 6h0m7 5h0m-1-15h0m-6 6h0m34 8h0m-4-8h0m18 6h0m11-15h0m14 7h0m5-7h0m7-6h0m-9 24h0m1 8h0m4 8h0m1-23h0m23 1h0m13-6h0m8 4h0m1 4h0m26-5h0m12-5h0m9 16h0m8-16h0m4 0h0m6 12h0m3-8h0m1-5h0m12 15h0m-1 9h0m4-21h0m5 16h0m7-5h0m-7-2h0m4-11h0m6 6h0m-1 8h0m5-2h0m7-10h0m3 7h0m0-13h0m0 14h0m4-13h0m4-7h0m5-7h0m-7 28h0m-5-7h0m-8-3h0m13 16h0m5 6h0m-3-22h0m3-8h0m3 23h0m-7 5h0m20-5h0m7-12h0m-8 0h0m15-7h0m2 17h0m8 2h0m-3-15h0m-3 7h0m4 3h0m7 3h0m23-1h0m3-7h0m5 3h0m-5-6h0m36-4h0m6 15h0m8-15h0m8-2h0m1 11h0m28-5h0m6-6h0m7-4h0m11 24h0m9-17h0m1 7h0m2 10h0m6-5h0m4-7h0m-3-6h0m-2 8h0m9-1h0m6 5h0m6 3h0m9 2h0m11-21h0m2 12h0m44 2h0m13-5h0m2 6h0m-7 4h0m-9 2h0m-6 5h0m-7 5h0m4-3h0m-3-1h0m-13-1h0m9 0h0m-15-1h0m8-2h0m-14 0h0m-4-7h0m1-9h0m-3 25h0m-8 2h0m1 2h0m-7-2h0m-29-10h0m-5 15h0m1 9h0m-21-17h0m-25 2h0m1 9h0m8 4h0m-19-3h0m-7-14h0m4 7h0m9 2h0m-45 5h0m-13-9h0m8 0h0m8-3h0m-42 4h0m0 4h0m-1 5h0m-3-1h0m-6-9h0m-34 13h0m-4-3h0m5 7h0m5 7h0m-11-27h0m1 9h0m-25-13h0m-7 4h0m-1 3h0m-2 5h0m-56 5h0m-6-5h0m-48-7h0m-9 9h0m-3-15h0m-34 4h0m-2 8h0m8-3h0m-8 1h0m-1-3h0m7 5h0m-16-9h0m-15-3h0m-1 12h0m5 6h0m-8-9h0m-10-8h0m-8 3h0m7-2h0m-7-3h0m-8-3h0m15 17h0m-8 2h0m-5 7h0m8-3h0m-8 2h0m-6 5h0m5-10h0m-5-5h0m-7-5h0m-1 11h0m-1-13h0m-8 16h0m0-11h0m-8-1h0m-8 10h0m-32 3h0m7 3h0m-16-18h0m-5 5h0m-18-4h0m-8 1h0m-8-2h0m28 20h0m8 2h0m6 14h0m4 3h0m1-19h0m-9-1h0m30 5h0m2 9h0m5 5h0m20-11h0m8 2h0m-6-11h0m-8-3h0m13 23h0m18-22h0m3 21h0m31-19h0m3-1h0m3 2h0m-3 8h0m13 11h0m0 9h0m3 8h0m14-36h0m1-1h0m6 8h0m5-7h0m-4-8h0m7 24h0m2-8h0m7-5h0m-1 9h0m1-3h0m0 8h0m25-2h0m7-13h0m5 7h0m1 5h0m7-4h0m-2 1h0m-5-7h0m5 9h0m3-13h0m1 11h0m11-4h0m5 4h0m5 5h0m20-8h0m12 0h0m1 11h0m8 2h0m-4-11h0m-3 8h0m5-11h0m8-3h0m-6-6h0m1 18h0m3-12h0m-8 2h0m-8 1h0m21 8h0m9-13h0m-6-6h0m-2-8h0m27 24h0m1-2h0m2-6h0m4-8h0m-2 15h0m1-15h0m28 14h0m-8-1h0m-4-8h0m13 9h0m8-8h0m3-2h0m12 17h0m25-1h0m12 0h0m7 5h0m3 8h0m-8-21h0m-1 9h0m18-1h0m18-11h0m8-1h0m4-7h0m7-5h0m-6 24h0m0-9h0m1 7h0m-2 8h0m27-22h0m9 3h0m181 15h0m81-4h0m39 28h0m-8 2h0m-3-15h0m0 8h0m-1 6h0m-7 4h0m7-13h0m-17-4h0m-8-1h0m7 14h0m-16-8h0m-16 9h0m-6-6h0m-6-4h0m-12 5h0m-9-18h0m1 9h0m-13-7h0m-7-4h0m-25 23h0m-7 5h0m-8 0h0m-192-22h0m-9-1h0m-8-2h0m16 0h0m3-7h0m-6 5h0m-2 14h0m-1-8h0m-33 1h0m-1-6h0m-1 14h0m-5-6h0m-13-1h0m3 8h0m-11-7h0m9-2h0m-14 14h0m-7-14h0m-4 11h0m-7-7h0m-17-1h0m7-5h0m-33 3h0m-15-4h0m-5 18h0m9 2h0m-19-20h0m7 5h0m-20 5h0m5-6h0m6-6h0m-36 4h0m-4 5h0m-5-7h0m-7 13h0m-1-17h0m-13 7h0m-22-2h0m7-5h0m6-6h0m-62 22h0m8 1h0m-28 5h0m-5-12h0m-7 7h0m7-4h0m6-6h0m-15 13h0m-7-19h0m0 11h0m-8-2h0m0 8h0m-3-2h0m8 0h0m-14-10h0m-4 6h0m-8 2h0m7-11h0m-7 0h0m-5 8h0m5-7h0m1-8h0m-8 26h0m-18-9h0m-13-8h0m-3-1h0m-7 3h0m-8 3h0m-1-8h0m-4-7h0m1 25h0m-8 2h0m3 2h0m-7 3h0m4-21h0m8 2h0m3 8h0m-20 2h0m-6-3h0m-3-6h0m-13 9h0m-5 8h0m2-17h0m8 3h0m8 3h0m-22-5h0m-1-7h0m7 4h0m4 7h0m-7 11h0m7 5h0m11 1h0m3-8h0m0-9h0m5 17h0m-4-7h0m19 18h0m6-6h0m4-8h0m-7 13h0m0-8h0m7-7h0m7-6h0m24 14h0m24 6h0m8 1h0m-3 1h0m16-16h0m-7-3h0m-7-6h0m24 23h0m1 3h0m-4 7h0m26-4h0m-4 8h0m22-10h0m1-3h0m4 7h0m7-13h0m-5 6h0m36 2h0m2-15h0m8-3h0m0-9h0m4 12h0m-5 7h0m21 8h0m-8 3h0m-8-2h0m25-4h0m8 3h0m8 3h0m-15-21h0m-7-5h0m17 18h0m7 5h0m9-5h0m0 7h0m6 1h0m11-6h0m5 6h0m8 0h0m-4-16h0m17 15h0m4-12h0m21-2h0m8 3h0m3 4h0m3-10h0m2 15h0m-7 5h0m-8 2h0m23-24h0m7 15h0m1 2h0m1 8h0m6-19h0m7 4h0m-3 8h0m-1 8h0m11-16h0m-3 8h0m-6 6h0m17-25h0m44 7h0m32 14h0m4 1h0m24 0h0m85 0h0m4-7h0m4-8h0m34 14h0m8-2h0m9-1h0m-12-4h0m-4-8h0m15 1h0m19 10h0m19 5h0m4-23h0m12 4h0m19 12h0m-7 4h0m8-5h0m6-4h0m2 0h0m1-11h0m3 24h0m4-20h0m6 6h0m-6 7h0m1-7h0m9 3h0m4 0h0m13-1h0m-7-3h0m-7 4h0m18 0h0m5-3h0m13-10h0m6 18h0m0-7h0m9 9h0m0-3h0m3 4h0m8-2h0m2-1h0m3-13h0m-1-8h0m-6-7h0m20 24h0m8-1h0m-46 18h0m-23-4h0m7-5h0m8 3h0m-55 11h0m-58 9h0m0 0h0m-8 2h0m-6 6h0m13-17h0m-6 6h0m0 8h0m-2-4h0m-3 7h0m-3-21h0m-13 9h0m-1-10h0m-4 8h0m-10 8h0m-5 7h0m-8 0h0m7-9h0m3-8h0m-11-4h0m-6 11h0m-6 6h0m3-14h0m5 7h0m-25-11h0m-7 5h0m-28-7h0m-5 14h0m2-8h0m-8 3h0m-1 8h0m-5-7h0m-8-2h0m1 4h0m0-16h0m-4 9h0m-23-6h0m2-8h0m-3 11h0m5 7h0m6 6h0m-21-12h0m6-6h0m-26 2h0m-2-8h0m2 20h0m-3-8h0m-4 13h0m-28-6h0m-23-1h0m7 5h0m-17-7h0m-1-6h0m-28 12h0m-5 6h0m-4-19h0m-7-5h0m-7-3h0m13 10h0m-7 8h0m-4 8h0m1-12h0m-1-8h0m-4-8h0m2 4h0m-7 3h0m-3 8h0m7 2h0m-3-2h0m-13 0h0m-26-5h0m-8 13h0m5-6h0m8-4h0m-13 10h0m-9-15h0m-6 10h0m-5 7h0m2 8h0m3-22h0m8-2h0m-16 7h0m-11-9h0m-15 13h0m7-4h0m-7-5h0m-14 9h0m-2-3h0m-9 9h0m-8-2h0m-1-12h0m8-1h0m-13-1h0m-5-7h0m-18 16h0m9-1h0m-33 8h0m-7-5h0m-14-8h0m-5 7h0m3-3h0m-1 7h0m-24-4h0m-8-15h0m4-8h0m-6 24h0m1 8h0m-5-11h0m-7-5h0m6-1h0m-7 2h0m-16-9h0m-3 11h0m-22 12h0m-3-16h0m-1 15h0m-8-1h0m6-19h0m-2 19h0m8-2h0m8-3h0m-27-12h0m-9-1h0m3-8h0m-13 23h0m-6 6h0m-1 8h0m2-31h0m0 4h0m-8-1h0m-7-5h0m7 19h0m0-8h0m-6 10h0m-8 1h0m-7-6h0m13 5h0m-180 2h0m5-6h0m-29 3h0m9 0h0m5 6h0m-15-3h0m-14-9h0m-8 3h0m3 7h0m-8-10h0m-7-5h0m-1-8h0m-3 21h0m-19 15h0m1 2h0m1 8h0m6 6h0m14-18h0m18 1h0m23-4h0m1 5h0m1 8h0m5-10h0m3 1h0m185-12h0m-8 3h0m50 12h0m7-4h0m9-1h0m-15 5h0m6-6h0m10 6h0m3-9h0m39 1h0m-7-4h0m8 19h0m5 7h0m7 5h0m-6-27h0m5-6h0m-5 19h0m8 0h0m8-4h0m-12-3h0m-6 6h0m11 0h0m9-9h0m5-7h0m-3-1h0m2 8h0m1 10h0m19-8h0m-9 1h0m10-9h0m8-1h0m8 3h0m-16 8h0m-8 3h0m-8-2h0m26-12h0m2-8h0m0 12h0m2-9h0m-1 4h0m2 21h0m10-19h0m-8 3h0m17-5h0m-2 8h0m9 9h0m3-8h0m8 6h0m0 2h0m10-3h0m1-9h0m23 17h0m6-16h0m-8 0h0m27 3h0m15 7h0m16-6h0m3 0h0m8 3h0m19-4h0m7-5h0m7-5h0m-13 14h0m2 6h0m3-19h0m9 5h0m4-8h0m2-8h0m2 27h0m20-10h0m28 5h0m8-4h0m5 13h0m3 8h0m-2-27h0m0 18h0m9-18h0m1 1h0m2 4h0m7 5h0m6 6h0m-9 1h0m2-13h0m0 14h0m1-6h0m21-4h0m0-6h0m8 12h0m15-6h0m-8-1h0m15-9h0m14 18h0m6-15h0m0 11h0m3-12h0m0 8h0m30 10h0m1 1h0m2 8h0m2-7h0m4-8h0m-3 2h0m-8 3h0m14-17h0m8 15h0m-8-5h0m0-8h0m12-3h0m5-7h0m3 27h0m0-9h0m4-11h0m5 21h0m1-18h0m-8 0h0m31 0h0m0 9h0m8 0h0m-8-11h0m2 0h0m18 13h0m3-13h0m1 2h0m21 3h0m14 0h0m8-5h0m16 4h0m1 13h0m-8 0h0m-8-1h0m33-13h0m4-2h0m8 18h0m-2 8h0m-4 7h0m8-34h0m13 5h0m-5 7h0m6-5h0m2-9h0m3 21h0m-8 3h0m-8 2h0m21-20h0m6-6h0m0 4h0m5 4h0m9 14h0m15-5h0m1-9h0m11 10h0m6 0h0m8 3h0m7 4h0m16-8h0m-8 4h0m21-9h0m-6 5h0m12-8h0m-8 1h0m15-1h0m0-8h0m6 9h0m0-8h0m0 7h0m5-9h0m-4-7h0m11 12h0m7 10h0m8 29h0m-7-10h0m-1-8h0m-6-5h0m2 15h0m0 9h0m-1-21h0m8 0h0m-20 0h0m-10 11h0m-14-1h0m-15 6h0m-3-7h0m-26-3h0m-2-1h0m-9 5h0m-7 8h0m-3-8h0m6-5h0m-19 4h0m4 8h0m-6-11h0m-5 11h0m-5-15h0m-23-2h0m-7 1h0m-5 20h0m-21-14h0m-2 8h0m0 1h0m-14-10h0m-3 16h0m-17-19h0m-15-2h0m-8 1h0m1 17h0m-2 4h0m-4 0h0m-8-20h0m-8 3h0m2 15h0m-9 0h0m-11-6h0m6-6h0m-11 4h0m-3-1h0m-8-1h0m-3 6h0m-6 6h0m-36-20h0m8 3h0m-9 1h0m-8-1h0m-5 5h0m-6-6h0m-17 16h0m-13-1h0m-9 2h0m-13-8h0m-23 8h0m-8 1h0m-21-14h0m-25 7h0m-1-7h0m-18 8h0m-3-14h0m-32 8h0m-13 12h0m-3-8h0m2-9h0m-13 2h0m-2-8h0m-6-5h0m-1 14h0m-1 6h0m8 1h0m4 7h0m-26-16h0m-8 5h0m-5 3h0m6 6h0m-13-12h0m8 2h0m8 2h0m-32-9h0m-7-3h0m0 12h0m7-5h0m-8 15h0m-1-14h0m-10 6h0m-7-11h0m-18-4h0m-15 15h0m-6 5h0m-7 5h0m7-10h0m-7-7h0m1-9h0m-16 9h0m-1-7h0m-3 3h0m8-1h0m-11-1h0m-6 7h0m-8 3h0m-8 2h0m12 2h0m-7-4h0m6-8h0m-3 19h0m-4-1h0m-8-4h0m-19-14h0m-67-3h0m-134 11h0m-4-6h0m-2 11h0m7 5h0m-7-12h0m-8 4h0m-8 3h0m10 2h0m-8-18h0m-8 15h0m0-8h0m-4-7h0m-57 20h0m-1-16h0m-2 18h0m-12-15h0m6 5h0m-9 4h0m-8 0h0m4-3h0m4 7h0m-15-16h0m-10 4h0m6-5h0m7-5h0m-17 2h0m-8-3h0m4 3h0m-6 0h0m-2 6h0m-3-2h0m0-9h0m-3 11h0m-6-3h0m-1-5h0m-22 38h0m-2 8h0m25-17h0m3 0h0m-1 9h0m34-1h0m8-2h0m-7-6h0m1 7h0m8 3h0m20-3h0m-8 3h0m-6-5h0m18 3h0m12-11h0m5 22h0m4-5h0m8-4h0m-8-2h0m-8 4h0m17-8h0m8 15h0m-5-7h0m10-10h0m-8-4h0m-8 2h0m31 17h0m7-20h0m4 20h0m3-3h0m14-18h0m7 0h0m15 23h0m13 0h0m1-8h0m2-9h0m3 14h0m0-8h0m1 0h0m1 9h0m-5 7h0m13-20h0m77 14h0m0-9h0m15-8h0m-4-7h0m-8-1h0m71 3h0m21 15h0m12 6h0m8-16h0m-8-1h0m14 8h0m-9 0h0m9-1h0m7-3h0m7 4h0m7 5h0m-11-14h0m-8 3h0m-3 8h0m29-5h0m6 6h0m-1-11h0m2 3h0m-2-8h0m7 24h0m1-9h0m-6-6h0m13 8h0m0-5h0m3 8h0m5 6h0m8-6h0m4-3h0m5 5h0m-5 6h0m-5 7h0m30-18h0m10-7h0m4-4h0m3 10h0m31-9h0m10 11h0m-8 0h0m-8 3h0m19-16h0m1 3h0m1 6h0m15-4h0m14-3h0m-7-5h0m20 7h0m-8-1h0m10 5h0m1-8h0m-8 1h0m-6 6h0m18-2h0m4 8h0m0 8h0m-4-8h0m-8 1h0m15-9h0m2 2h0m9 2h0m-5 3h0m30-16h0m4 13h0m1 0h0m8-4h0m-7-4h0m10 10h0m8-1h0m7-4h0m-13-3h0m9 2h0m4 2h0m2 4h0m3 5h0m44-9h0m10 10h0m11 1h0m-9-1h0m15-11h0m-4-7h0m11 18h0m9-6h0m4-9h0m8 2h0m7-5h0m-15 14h0m40 4h0m3-18h0m2-3h0m1 21h0m-8 0h0m18-3h0m-7-5h0m20-3h0m9 9h0m4-19h0m6 6h0m-3-6h0m6-6h0m3 21h0m1-8h0m2-8h0m8-4h0m5 24h0m12 0h0m2 4h0m4-15h0m-8-3h0m14 5h0m5 9h0m6-4h0m9 5h0m2-11h0m6-6h0m-1 14h0m-6-6h0m7 2h0m22-5h0m1 10h0m1-9h0m6-6h0m0 10h0m0-9h0m-6-6h0m8 17h0m3 6h0m14 0h0m0-8h0m1-3h0m8-5h0m0-9h0m6-6h0m-2 15h0m13 1h0m0-1h0m-7-4h0m9 12h0m1 8h0m4-9h0m2 9h0m9-15h0m1-5h0m3 12h0m4 1h0m9-15h0m13 10h0m9 0h0m7-4h0m1 13h0m18-6h0m4-7h0m28 12h0m-3 7h0m3-15h0m0-9h0m1 5h0m6 11h0m5 7h0m-1 8h0m0-17h0m22 31h0m-2 8h0m-2-22h0m-2 0h0m-3 13h0m1-8h0m-4-11h0m7-4h0m8-4h0m-29 25h0m-27-14h0m-6 0h0m-3 12h0m-3 7h0m-4-8h0m-6-12h0m-8 2h0m-8 2h0m-8 13h0m-11-18h0m-1-8h0m-3 8h0m-2-8h0m-7 10h0m-5 7h0m-8-1h0m10 11h0m-8-20h0m-6-6h0m1-8h0m5 27h0m-6 5h0m-4-7h0m2-8h0m-3 9h0m-13-2h0m-11 7h0m-6 7h0m-14-19h0m-1-4h0m-7 9h0m-13-1h0m-29 7h0m-2-8h0m-7-4h0m5 13h0m-7-4h0m-21 4h0m-1-9h0m-6 12h0m-25-6h0m-1 8h0m-6 5h0m0-26h0m3 8h0m-6-10h0m-25 8h0m-4 4h0m-11 8h0m-6 3h0m-17-2h0m-3-18h0m-3 16h0m8-2h0m-9 3h0m2 9h0m-8-24h0m-12-4h0m-7 2h0m4-8h0m7-4h0m-20 14h0m7-4h0m-8 9h0m-3 3h0m-8-2h0m5 3h0m-7-5h0m-11 5h0m-7-9h0m8-3h0m-19 15h0m-1 2h0m-4-7h0m-7 7h0m8 3h0m7 5h0m-29-7h0m-2-19h0m-7-5h0m-8-3h0m0 30h0m4-8h0m2-8h0m-18 1h0m-8-4h0m-3 8h0m-8-13h0m-7 0h0m7 4h0m-25 11h0m-2 7h0m-1-6h0m-12-1h0m-11-14h0m-2 12h0m-3-7h0m-16-5h0m8-4h0m-13 5h0m5 7h0m-10-5h0m8 1h0m5 7h0m-19 7h0m-2-11h0m-2-6h0m-15 11h0m-2-2h0m-9 0h0m-20 7h0m8-3h0m-13-1h0m0 9h0m-5 7h0m-24-21h0m-7-5h0m1 12h0m-6 6h0m-8 3h0m-17-22h0m-13 5h0m-48 15h0m-160-11h0m8-1h0m6-6h0m-21 1h0m-10-5h0m-13 20h0m8 0h0m-30-14h0m0 16h0m-4-21h0m7-4h0m6-7h0m-18 18h0m-17 6h0m5-6h0m-26-3h0m-11 3h0m-6 6h0m-8-1h0m11-2h0m-2-3h0m-17 13h0m-5-18h0m0 9h0m0-1h0m0-9h0m-10 4h0m2 8h0m-4-1h0m-4-7h0m-4-6h0m-8 3h0m-7 0h0m-13 14h0m-4 3h0m-3-19h0m-1-8h0m6-6h0m-20 21h0m2 8h0m-4 7h0m-7-2h0m-7-5h0m1-9h0m-8-1h0m-7 4h0m15-1h0m-2 2h0m-21 33h0m1-18h0m7 0h0m5 14h0m9 3h0m16-8h0m5 1h0m-5 7h0m7-10h0m-7-5h0m29 16h0m-8 1h0m15-9h0m5-6h0m-3-2h0m-6 6h0m7-7h0m21 0h0m8 3h0m-4-5h0m-9 2h0m-7 3h0m19 11h0m-8-3h0m12-11h0m-8 4h0m-5 6h0m14-1h0m-8 4h0m-5 6h0m18-22h0m-8 3h0m8 1h0m7 4h0m0 5h0m11 7h0m15-14h0m-8 0h0m11-5h0m-7 4h0m18 14h0m20 3h0m9 0h0m8-5h0m5-12h0m9-2h0m1 3h0m0-1h0m-5-7h0m9 25h0m8 1h0m4 8h0m-9-19h0m14 0h0m4-7h0m6 15h0m-4 8h0m-6 5h0m78-29h0m41 17h0m-5 7h0m57-8h0m18-10h0m6 10h0m20-18h0m2 3h0m9 2h0m3 10h0m2-8h0m-5-7h0m4 20h0m2-9h0m-4-7h0m28 3h0m-8-2h0m10 0h0m-9-1h0m13-1h0m8 3h0m2 8h0m-9 2h0m8-3h0m-2 0h0m3 7h0m-1-12h0m10 11h0m7-12h0m9 1h0m1-8h0m0 9h0m5 9h0m18-12h0m6 5h0m-3-4h0m-4-7h0m19 0h0m8-2h0m18 22h0m-1 8h0m1-22h0m9 7h0m9 3h0m2-13h0m2 7h0m7 4h0m0-13h0m3 8h0m1 8h0m19-20h0m-7-5h0m11 25h0m6-5h0m2 6h0m2-6h0m3 8h0m-2-9h0m22-13h0m1 8h0m0 14h0m-8 3h0m14-18h0m21 1h0m13 13h0m18-17h0m5 7h0m5 6h0m-10-8h0m-5 7h0m-6 5h0m28-17h0m-1 9h0m39 7h0m-8-1h0m8-4h0m-8 0h0m8-9h0m-3 7h0m14-8h0m8 1h0m7 5h0m-5-11h0m10 6h0m4-6h0m-6 6h0m37-6h0m-6 6h0m-7 5h0m29 6h0m-3 8h0m15-10h0m21-16h0m6-6h0m13 10h0m10 6h0m4-1h0m-5 7h0m0 8h0m7-2h0m-9-1h0m-5-6h0m17-4h0m13 1h0m19-7h0m5-2h0m2-9h0m13 17h0m0-9h0m2-2h0m8 2h0m9 0h0m-8-1h0m2 7h0m5 0h0m17-4h0m-1-9h0m6 17h0m-6-6h0m-7-4h0m24 12h0m7 4h0m8 4h0m46-17h0m20 11h0m12 0h0m-7-5h0m22 8h0m4-1h0m0-17h0m-1-8h0m-5-7h0m7 16h0m1 7h0m1-8h0m5 3h0m-9-2h0m-4-7h0m25 18h0m8-7h0m5-6h0m-3 17h0m4-15h0m11 6h0m-3 31h0m0-15h0m-6 11h0m-13 8h0m6 5h0m-17-15h0m0 8h0m-15-3h0m-1-4h0m-3-8h0m-2 7h0m-7-5h0m-8 1h0m7 1h0m0-7h0m-37 23h0m-1-21h0m-5-7h0m-8-1h0m-1 25h0m-1-2h0m-8-1h0m-21 5h0m6-6h0m-39 7h0m-6 6h0m1-25h0m-8-1h0m5 2h0m-3-8h0m-2 27h0m4 8h0m-21-21h0m-6 5h0m-6 7h0m10-17h0m0-8h0m-2 7h0m-16-2h0m5 7h0m-13 9h0m-13 0h0m-3 8h0m-8-12h0m-2 1h0m8 2h0m-24 7h0m-24-6h0m-3 1h0m-11-12h0m-8-5h0m-8 1h0m10 1h0m-6 9h0m-13 3h0m0-9h0m-21 5h0m9-1h0m-10 9h0m-10-20h0m-8 3h0m5-6h0m-10 8h0m-6-4h0m-10 7h0m7-4h0m-19 17h0m-6-12h0m7 5h0m-40 1h0m6-5h0m-16 5h0m-5 7h0m-66-1h0m-5-3h0m-16-13h0m-8 14h0m-7-3h0m5-7h0m-10-5h0m-1-1h0m-1 13h0m-3 7h0m-13-14h0m-8-2h0m-7 4h0m13-7h0m-1 4h0m-8-3h0m-2 8h0m-8-3h0m3 14h0m-8 0h0m-7 6h0m-2-10h0m5-7h0m-12-11h0m4-7h0m-5 22h0m-2 8h0m-48-20h0m-7-1h0m-7 5h0m2-5h0m8 2h0m4 7h0m-21-5h0m-2-8h0m-10 14h0m-1 4h0m2 8h0m-50-7h0m-120-5h0m-33-10h0m-21 9h0m-43 7h0m-1-9h0m-15 3h0m8 1h0m-22 8h0m-9-15h0m-14 0h0m-2 16h0m-7 5h0m6-16h0m0 1h0m-6-10h0m-27-1h0m-1-8h0m5-7h0m-22 29h0m8-2h0m5-7h0m-27 14h0m-8-10h0m5-7h0m-14-1h0m0 9h0m-7 7h0m-7-3h0m8 1h0m8 3h0m-22-4h0m-19 3h0m-9-3h0m-6-1h0m-8 1h0m1-2h0m-1 8h0m-2-10h0m-3 5h0m-23-1h0m-17-11h0m-3 0h0m-3 11h0m-8 11h0m10 13h0m1-8h0m11-4h0m-1-9h0m1 11h0m0 8h0m5-1h0m7 4h0m1-8h0m2-5h0m-9-1h0m-7-4h0m18 5h0m37 13h0m22-15h0m2 2h0m10-2h0m7 5h0m2 9h0m-8-4h0m-8-1h0m8 2h0m8-4h0m11 0h0m2 8h0m1 3h0m6-8h0m25-5h0m4-2h0m-8 2h0m-9 1h0m27 7h0m14 3h0m1 1h0m0 8h0m9-25h0m16 10h0m5-7h0m-4 11h0m80 2h0m6-4h0m5 6h0m80-10h0m29 7h0m6 6h0m12-8h0m3-11h0m8 2h0m11 5h0m26 1h0m7 1h0m21 9h0m2-18h0m-7-5h0m11 21h0m11-1h0m8 2h0m8 1h0m-3-8h0m2 1h0m5 1h0m8 1h0m7-3h0m-5 5h0m3-9h0m8 3h0m7 5h0m7-10h0m42 4h0m2-11h0m-7 3h0m38 10h0m-8-4h0m21 9h0m0 9h0m2-7h0m-8 1h0m16-9h0m5-6h0m-8 0h0m10 8h0m-8-3h0m-7 5h0m23-16h0m5-7h0m-3 12h0m0-6h0m5 18h0m1 8h0m-7 5h0m7-17h0m2 4h0m-1-8h0m13 10h0m8-5h0m-3-9h0m-8-1h0m14-3h0m8-2h0m-4 17h0m1-3h0m5 3h0m1-6h0m-8-3h0m-5-7h0m23 22h0m1-8h0m17 3h0m17 4h0m2-8h0m-2-7h0m13 16h0m5-21h0m1 11h0m4 7h0m2 8h0m-5-9h0m-7-5h0m10-8h0m7-2h0m8 3h0m11-1h0m26 6h0m32-13h0m-8 1h0m-7 5h0m21 5h0m3-10h0m5 4h0m7-4h0m-3 0h0m18 7h0m-5 6h0m-9 1h0m14-14h0m2-8h0m7-5h0m2 33h0m11 0h0m7 4h0m-2-19h0m7-3h0m6-5h0m2 5h0m-2 8h0m23 7h0m0-9h0m9 5h0m1-8h0m2 3h0m-7 5h0m14-14h0m8 12h0m7-5h0m-3-1h0m0 4h0m1 5h0m19-8h0m12 12h0m3-8h0m8 2h0m10 8h0m8 2h0m-6-19h0m-6-6h0m9 16h0m1 4h0m-8 4h0m17-19h0m7 6h0m5 11h0m7 5h0m-5-6h0m17 3h0m-4-7h0m5-3h0m2-1h0m8 3h0m0-4h0m0 8h0m10-11h0m20-5h0m-8 1h0m9 4h0m5 1h0m7-7h0m5 4h0m3 6h0m-3 8h0m4 7h0m7-5h0m2-1h0m4 0h0m-2-8h0m10 8h0m8-11h0m3 14h0m11-20h0m3 9h0m-3 8h0m-8 1h0m13-16h0m4 6h0m0 8h0m1-12h0m-8-1h0m18 8h0m-3-8h0m9 18h0m3-24h0m-8 0h0m11 10h0m4 31h0m-8 2h0m3-18h0m5-6h0m-33 22h0m9-1h0m7 4h0m-21-12h0m-1 0h0m-18-3h0m1-8h0m-2 5h0m-1 11h0m-14-9h0m-9 2h0m-16 6h0m-3-1h0m-4-4h0m-13 12h0m-14 4h0m-14-7h0m-3-15h0m-4 3h0m-2-1h0m-3 13h0m1-8h0m-5 7h0m-1 4h0m-31 1h0m-5-7h0m-16 3h0m7-3h0m-8-10h0m-32 4h0m0 4h0m8-2h0m8-3h0m-49 12h0m-3-7h0m-8-3h0m8 1h0m-2 9h0m-25 5h0m4-7h0m7-5h0m-28-3h0m-3-8h0m-4 15h0m-8 0h0m6-2h0m-2-5h0m-14 10h0m-3-9h0m8 3h0m-11-3h0m5 6h0m-12 6h0m7-4h0m-9 0h0m3 8h0m-25-25h0m-1-8h0m-1-8h0m-2 24h0m-5 7h0m-4-5h0m-9 9h0m4-7h0m-19 2h0m-4-6h0m-9 3h0m-8 2h0m-9 0h0m-6 6h0m3-6h0m5 6h0m3 8h0m-9-10h0m2 8h0m2 8h0m-5-21h0m2-9h0m-5 18h0m-8 3h0m3-11h0m-1-7h0m-8 1h0m8 1h0m-1-5h0m8-1h0m-20 4h0m-54 5h0m1-9h0m-2-8h0m0 13h0m-4 4h0m0 9h0m-4-12h0m-1 8h0m-6 6h0m2-15h0m0 12h0m-11 3h0m-1-8h0m-6-9h0m-8-1h0m-9 1h0m9 12h0m-1 8h0m-4-17h0m-9 0h0m8-1h0m9-1h0m7 3h0m-23 13h0m0-6h0m-8 3h0m-6 2h0m-7 4h0m-8 3h0m13-7h0m-4 7h0m-4 8h0m4-33h0m-3-8h0m-1 16h0m-7-9h0m-24-1h0m-22 19h0m-3-7h0m-2-8h0m-5 13h0m-7 3h0m-6-2h0m-6-7h0m2-8h0m-8 3h0m-14 1h0m-2 9h0m-2 8h0m-13-3h0m-24-3h0m8 3h0m5 7h0m-20-29h0m-8 11h0m-8-4h0m-3 10h0m-3 0h0m-3-13h0m-39 12h0m-85-2h0m-158-11h0m-8 5h0m-18 1h0m1-8h0m-3 1h0m-2 14h0m0-8h0m-11 4h0m-19 7h0m-10-16h0m-9 19h0m-3 8h0m-7-12h0m-9-12h0m-7 18h0m-18-19h0m-3 5h0m-12-3h0m2 9h0m-6-12h0m-23 3h0m-6 6h0m-9-1h0m6 10h0m-7-5h0m-3 7h0m3-5h0m-2 8h0m2 8h0m-16-15h0m-2-17h0m12 38h0m14-13h0m5-7h0m-1 22h0m-6-6h0m44-1h0m5 8h0m6-11h0m2 6h0m8-3h0m-5-3h0m7-9h0m-8-2h0m-8 1h0m25 10h0m0 8h0m7 5h0m-3-5h0m11-11h0m2-5h0m9 13h0m5 0h0m26 2h0m15-11h0m144-2h0m-5-7h0m78 21h0m1 8h0m4 8h0m86-15h0m16 6h0m-5-7h0m-5-7h0m10-7h0m5 1h0m1 8h0m1 8h0m-1-4h0m9 1h0m-8-8h0m-8 0h0m-8 3h0m18-11h0m11 5h0m-1-9h0m6 5h0m6-5h0m1 5h0m6 13h0m23 1h0m8 2h0m0-7h0m3-3h0m2-2h0m1 17h0m2-2h0m2-5h0m6-5h0m-2-5h0m8 1h0m-9-1h0m26-4h0m-2-8h0m3 12h0m-8 3h0m13 8h0m8-2h0m5 2h0m6-13h0m9 14h0m6-6h0m-2-2h0m2 7h0m8-2h0m3 5h0m6 5h0m-2-4h0m3-8h0m5-7h0m-1 4h0m1 1h0m5-6h0m8-1h0m-5 4h0m-8 3h0m-8 3h0m28-12h0m20 17h0m4-11h0m13 10h0m6-13h0m8 3h0m9-1h0m-1 8h0m3 0h0m17 7h0m4-10h0m7 7h0m7-18h0m0 9h0m8-2h0m6-5h0m13 6h0m3-7h0m3 14h0m8-1h0m-7-8h0m-7 5h0m12-7h0m-9 1h0m16 9h0m17-12h0m57 18h0m17-16h0m7-5h0m4-7h0m-9 9h0m2 17h0m0 9h0m8-20h0m0-2h0m25 9h0m19 8h0m-6-6h0m-5-7h0m21-7h0m-5 7h0m17 4h0m-7 5h0m11-5h0m8-5h0m6-5h0m-2-3h0m21 15h0m-3 8h0m12-13h0m0 9h0m10-11h0m13 6h0m-5 7h0m5-19h0m6-5h0m5-7h0m-4 30h0m-5 7h0m-8 3h0m26-9h0m-8-3h0m-7 4h0m26-14h0m-6 6h0m-9 2h0m18-11h0m5 5h0m7-1h0m1-9h0m3-8h0m0 30h0m23-4h0m16-16h0m-9-1h0m10 3h0m-7 4h0m21-7h0m3 17h0m6 1h0m-9 0h0m-6-5h0m18-14h0m1 8h0m8 4h0m0-9h0m-6-5h0m29 13h0m1 8h0m8 3h0m-4-19h0m9 19h0m22-13h0m-4-7h0m-7-5h0m14 14h0m2 12h0m5 6h0m-2-26h0m1-8h0m5 11h0m7-6h0m-6 15h0m8-4h0m-7 10h0m-3 12h0m-3-8h0m8-3h0m-21 25h0m-5-7h0m0-8h0m-16 6h0m-7-5h0m-7-4h0m13-5h0m-4 17h0m-6-16h0m-10 5h0m-18 0h0m-6 5h0m-8-11h0m-20 21h0m-15-17h0m8 2h0m-22 13h0m0 8h0m-3-9h0m2 8h0m-25-16h0m-2-10h0m-7 13h0m7-5h0m-10 5h0m-7 4h0m2-11h0m-7 3h0m-6 10h0m6-6h0m-8-8h0m-5 7h0m-8 6h0m-8 0h0m-45-7h0m-10 5h0m7 5h0m-7-15h0m-9-5h0m-12 5h0m-8 9h0m-4-15h0m-5 17h0m-21-3h0m-1 5h0m-17-11h0m-20-7h0m-7 4h0m-8 0h0m11 2h0m-2 8h0m-7-8h0m-1 8h0m-5-10h0m7 4h0m8-1h0m-31-8h0m-2 2h0m-4 5h0m-16 5h0m-6-6h0m-25 11h0m-2-14h0m1-8h0m4-7h0m-12 15h0m-1 2h0m5 7h0m9-1h0m-18-7h0m-10 17h0m-12-19h0m-8 9h0m8-5h0m8 0h0m-17 6h0m-12-1h0m0 10h0m-7-1h0m8 5h0m-12-11h0m-5 3h0m-9-10h0m4-7h0m-8 4h0m-19 5h0m-1-9h0m-2 1h0m-2 17h0m-14-11h0m-3 11h0m-14-19h0m-10 9h0m-4 6h0m-2 3h0m4 8h0m8 1h0m-12-5h0m-8-1h0m-6 3h0m-14-17h0m-1-7h0m-19 23h0m-16-15h0m6 6h0m8 3h0m-31-9h0m-2 1h0m0-5h0m-19 12h0m-13-7h0m-8 1h0m-11 2h0m-3 9h0m8 0h0m6-5h0m-15 8h0m-3-12h0m-9 6h0m-7-16h0m-5 3h0m-9 19h0m-44-12h0m-34-11h0m4 8h0m1 8h0m-280 2h0m-8-7h0m7 4h0m-18 0h0m-5-8h0m8-3h0m-11-4h0m-1 8h0m-3 8h0m-3-15h0m8 4h0m-10 5h0m-14-1h0m-7-6h0m-31 4h0m-8-1h0m5 1h0m2 8h0m2 8h0m-15-11h0m-6-5h0m-1 11h0m14 19h0m5 5h0m-6-6h0m-8-1h0m58 2h0m14 2h0m5-11h0m12-5h0m8 4h0m357 13h0m8 0h0m13-14h0m9 0h0m-8-3h0m15 13h0m0-9h0m7 1h0m0-8h0m5 9h0m-1 8h0m8-3h0m8 0h0m8-1h0m-10-9h0m-8 3h0m8 18h0m9 0h0m7-4h0m-6-7h0m0-7h0m21 0h0m8 6h0m1 12h0m2-11h0m5 7h0m-1 8h0m13-17h0m4-8h0m-3 22h0m1-18h0m1 5h0m2-3h0m-5 6h0m11 9h0m9-8h0m21-8h0m7 5h0m9-3h0m-11-5h0m12 3h0m3 8h0m-2 8h0m6-2h0m3 8h0m-2 8h0m4-12h0m-1-9h0m2 7h0m15-7h0m7 5h0m0-11h0m2-8h0m3 3h0m12 12h0m-6-6h0m8-6h0m4-7h0m13 17h0m11-5h0m8 12h0m3-14h0m17 14h0m21-10h0m8 0h0m-1 1h0m12-3h0m9-1h0m-6 0h0m7 4h0m2-9h0m7-4h0m-3 23h0m5-6h0m1 3h0m8-14h0m11 14h0m3-12h0m1 12h0m12-14h0m8 13h0m3 7h0m34-15h0m-8 3h0m26-13h0m2-8h0m-2 27h0m4-7h0m3 11h0m-4-7h0m34-9h0m2-8h0m-4-8h0m12 12h0m7-5h0m5 14h0m-4-7h0m4 15h0m1-17h0m-7 5h0m11 12h0m2-8h0m-3-7h0m28 12h0m-4-7h0m6-5h0m6-6h0m2 23h0m4-12h0m3 7h0m7 3h0m-4-19h0m6 6h0m-4 9h0m5-6h0m19-4h0m4 5h0m0-9h0m7 4h0m8-1h0m24 6h0m1 3h0m7-7h0m8 0h0m8-4h0m-8 5h0m22-5h0m7-5h0m1 23h0m-1-8h0m7-6h0m22 7h0m20 1h0m9-2h0m-8 7h0m14-18h0m-9-1h0m38 2h0m5 9h0m6-6h0m15 15h0m2 8h0m-16 5h0m1-8h0m-5-6h0m-16 25h0m-10-3h0m-14-17h0m-8-3h0m-4 2h0m-8-1h0m-6-6h0m8 23h0m-8 2h0m0-8h0m-4 12h0m7 6h0m8 0h0m-19-28h0m-2 11h0m-3-8h0m0 0h0m-6 7h0m0 12h0m8-2h0m8 2h0m-31-2h0m-5 7h0m1 9h0m-8-21h0m-1-1h0m-6 6h0m-5-7h0m-8 3h0m-8-3h0m15-13h0m-9 12h0m7-4h0m-13 0h0m-7 4h0m-7-2h0m-5-7h0m-6-5h0m6 19h0m5 6h0m5 8h0m-11-20h0m-2-8h0m-7 15h0m-2 3h0m-9-13h0m-5-2h0m-2-1h0m-7 2h0m-4 7h0m-2 2h0m-3 8h0m-10-20h0m-6 3h0m-6-6h0m5 11h0m-12 4h0m0-6h0m-2 8h0m-34-11h0m-15-1h0m-8-1h0m-10 15h0m-4-9h0m-4 6h0m-1-3h0m0 8h0m-2-19h0m-6 8h0m-9-2h0m-19 11h0m-9-1h0m-8 1h0m15-9h0m-24-1h0m5-7h0m-13 2h0m8-4h0m6-6h0m-25 12h0m-15 10h0m2 8h0m6 6h0m-27-20h0m-5-6h0m0 16h0m-1-17h0m-16-4h0m-7 5h0m-8 4h0m11 8h0m2-8h0m-22-4h0m8 3h0m-17-4h0m-2 16h0m8 3h0m-10-14h0m-11-3h0m-8 2h0m-7 4h0m12-8h0m-7-6h0m6 20h0m-14-17h0m-5 7h0m3 14h0m-3-4h0m-20 4h0m0-12h0m-2-9h0m-3 3h0m-1 20h0m7 4h0m-16-13h0m7-5h0m-20 4h0m-4-12h0m-11 14h0m-9 8h0m-9 1h0m8-9h0m-13 1h0m8 0h0m-14-7h0m7 4h0m8 3h0m-22 5h0m8 1h0m9 0h0m-71-21h0m-8 4h0m-3 0h0m-2 6h0m-5 7h0m-10-6h0m-1 11h0m-20-22h0m-16 14h0m-24-12h0m0 9h0m-1 5h0m6 6h0m-1 8h0m-9-27h0m-9 18h0m-375-2h0m-5-6h0m4 1h0m-10-9h0m-33 11h0m14 10h0m1-1h0m9 19h0m8 2h0m8 2h0m-12-13h0m1 9h0m5 7h0m-6-8h0m1-7h0m8 1h0m-7-3h0m2 3h0m2-3h0m-7-4h0m19-6h0m393 12h0m7 9h0m7-17h0m7 6h0m8-7h0m4-7h0m6-6h0m4 16h0m9 6h0m-8-2h0m10 10h0m4-8h0m0 1h0m8-2h0m0-2h0m-6-6h0m7 18h0m-5-6h0m34-7h0m6-9h0m5 10h0m3-1h0m4-5h0m15 1h0m1 14h0m-9 2h0m9-12h0m1 5h0m10-10h0m13 13h0m11-13h0m4 5h0m8-7h0m16 4h0m12-2h0m15-4h0m-4-8h0m53 27h0m2 8h0m7-27h0m-5 7h0m13 1h0m16-6h0m1 1h0m11-4h0m8 17h0m-3-7h0m3 12h0m12-17h0m21 5h0m9 9h0m3-19h0m3 14h0m22 2h0m16-6h0m9 1h0m20-6h0m5 6h0m-4-10h0m8-4h0m-5 11h0m8 15h0m-8 4h0m-1 8h0m10-24h0m2 1h0m2 8h0m-1 0h0m4-8h0m1 5h0m4-7h0m-3-8h0m11 9h0m17 7h0m5-8h0m-8 3h0m13-13h0m5 7h0m3 8h0m-4-10h0m3-8h0m5-7h0m-4 32h0m-7 4h0m10-20h0m0 6h0m-8-2h0m-6 5h0m15 4h0m1-15h0m-3-8h0m9 21h0m-3 8h0m10-10h0m2-8h0m-5 6h0m7-6h0m1-6h0m1 7h0m2 8h0m4-5h0m1 10h0m2-3h0m2-9h0m7-4h0m-2 14h0m18-6h0m0-6h0m3 6h0m12 6h0m16-5h0m1 3h0m8-2h0m8-6h0m7 14h0m2-15h0m-3 8h0m-4 7h0m16-10h0m4-6h0m9 0h0m19 5h0m17 8h0m5-6h0m1-9h0m-2 1h0m2 13h0m-8 0h0m22-11h0m7 12h0m2-13h0m-7-3h0m-4-8h0m18 6h0m-22 32h0m-8 4h0m8 3h0m-11-9h0m-2 14h0m-13-17h0m-7 6h0m-8-8h0m-1-2h0m0 1h0m-12 3h0m-5-2h0m-5 7h0m-7 4h0m5-10h0m-7-4h0m-24 9h0m-2-1h0m0 15h0m1-8h0m-6-14h0m-11 16h0m-8-1h0m-3-6h0m-3-8h0m1 15h0m7-5h0m8-1h0m-21 9h0m-5-12h0m-11 3h0m4 7h0m-8-1h0m-3-6h0m-24-9h0m-32 13h0m1-8h0m3-7h0m-4 13h0m-1 9h0m-8 0h0m-7-18h0m2 8h0m2 8h0m-10-16h0m-6 5h0m-3 14h0m-8 4h0m6-8h0m-16-1h0m7 4h0m-14-4h0m-26-13h0m-2 8h0m4 7h0m5 6h0m-36-14h0m-3 8h0m-4 8h0m-14-14h0m-2 6h0m-1 3h0m-6-21h0m-4 6h0m8 3h0m-13-8h0m-12 16h0m-11 0h0m-1 9h0m-6 5h0m1-31h0m-8 3h0m-6 18h0m-1-13h0m-18 4h0m6-6h0m-14-6h0m-3 1h0m-5 4h0m-8 1h0m-27 8h0m-9-4h0m8-4h0m-13-1h0m8-2h0m-13 18h0m-15-4h0m-8-11h0m-8 0h0m6 7h0m-6 6h0m-1-19h0m-3 1h0m-3 3h0m-4 6h0m-8 11h0m-6-21h0m0 2h0m-1-9h0m-8-3h0m-9 30h0m-5-2h0m-1-8h0m-8 1h0m-12 1h0m-4-4h0m-4-1h0m-29-8h0m-13 22h0m8-3h0m5-7h0m-25 1h0m-21 3h0m-14-16h0m-6 4h0m-6-6h0m-319 19h0m-12-3h0m-5 3h0m-8-1h0m9-2h0m-13-4h0m-3 8h0m2-14h0m-5-7h0m-38 20h0m-4-8h0m-5-3h0m-4-8h0m-11 1h0m-6-5h0m18 32h0m11 8h0m3-7h0m8 6h0m-6-6h0m0-8h0m18 11h0m-8 0h0m14 15h0m-8-2h0m11-18h0m7 21h0m1-14h0m18 4h0m2 1h0m4 8h0m5 6h0m-1-26h0m8 0h0m0 20h0m3-10h0m6 10h0m8-2h0m0-3h0m4 8h0m-4 7h0m2-19h0m15 0h0m12 11h0m3 8h0m-5 7h0m63-15h0m7 4h0m10-5h0m16-3h0m25 1h0m140-17h0m-4 7h0m8 8h0m39-15h0m-8 2h0m11-1h0m7 5h0m7 4h0m-12 0h0m-1-8h0m-5-7h0m11 3h0m1 9h0m2-8h0m12 6h0m12 6h0m2-8h0m0 14h0m5-7h0m6-6h0m-4 5h0m-8-1h0m9 7h0m0-5h0m6-11h0m3-2h0m3 4h0m-1 8h0m-2 8h0m14 0h0m9 2h0m8-3h0m-5-15h0m1-8h0m-6-6h0m8 14h0m12 10h0m4-8h0m2 8h0m6 7h0m2-19h0m10 8h0m-8 1h0m15-2h0m-7-5h0m-5-7h0m16 23h0m5-19h0m7 17h0m8-1h0m-7-8h0m-7 5h0m34 4h0m7-16h0m8 13h0m11-8h0m10-7h0m5 20h0m17-1h0m-8-3h0m-4-7h0m18-10h0m23 0h0m1 6h0m-6-7h0m39 2h0m-6-6h0m16 9h0m7-4h0m-1 20h0m4-20h0m4 7h0m8 5h0m1 9h0m8-1h0m1-6h0m-5 7h0m13-2h0m0-8h0m6 1h0m6 6h0m8-6h0m31 7h0m10-11h0m1 7h0m33-12h0m6-6h0m-5 4h0m4 18h0m1-16h0m0 1h0m17 13h0m6 6h0m8 3h0m-12-5h0m-3-8h0m26 11h0m7-11h0m3-9h0m-9 0h0m12 15h0m2 3h0m3-19h0m3 4h0m4 8h0m5 7h0m-9 0h0m2 8h0m27-18h0m3-8h0m8-2h0m-6 0h0m9-1h0m-5 14h0m2-13h0m3-2h0m21 18h0m-7 5h0m-8 0h0m18-21h0m-3 8h0m-6 6h0m19-15h0m8 11h0m-8-1h0m48 7h0m7 5h0m2-6h0m8-3h0m-5-1h0m12-3h0m-33 28h0m-4 7h0m0-9h0m-1 9h0m-5-14h0m-15-2h0m-4 15h0m-6 0h0m4-8h0m-10-10h0m-11 13h0m-4-7h0m-1 11h0m-2 8h0m-11-27h0m-1 8h0m-20 16h0m0-15h0m4 8h0m-7-11h0m1-8h0m-2 6h0m-6 6h0m-5-10h0m8 1h0m-22 5h0m-9 0h0m7 0h0m-8 3h0m-2-5h0m2-8h0m6-5h0m-43 20h0m-7-4h0m-6-6h0m7 18h0m-8 2h0m-5 1h0m-8 2h0m-12-20h0m-5 0h0m3 8h0m-9-3h0m-1 9h0m4 7h0m-12-1h0m-3-11h0m-1-8h0m-22 14h0m-2-7h0m-6-6h0m-3-8h0m-15 16h0m-2 8h0m-8-19h0m-5-7h0m-6-6h0m-1 11h0m-3 8h0m-7 5h0m9-3h0m-11-11h0m3 8h0m5 7h0m-10 1h0m0 8h0m-4-3h0m-30-18h0m-5 11h0m-10-14h0m-10 23h0m-8-21h0m0 9h0m-34 6h0m7 5h0m1 8h0m-14-6h0m-1-15h0m-4-7h0m-2-8h0m4 29h0m0-9h0m-1 7h0m9-2h0m-10-17h0m2-8h0m-14 24h0m-6-6h0m-4-10h0m5-7h0m8-2h0m-18 13h0m-2 6h0m-5 8h0m-31-19h0m-13 9h0m-6-4h0m0-8h0m-6-7h0m-9 11h0m-24 7h0m-23 6h0m-12-2h0m-18-1h0m-20 1h0m-2-5h0m5-7h0m-8 3h0m-10 18h0m-9 0h0m-5 7h0m3-23h0m-4 12h0m-13-1h0m0 8h0m-53-10h0m5 6h0m-20-15h0m-12 14h0m-18-19h0m-10 2h0m6 6h0m-7-5h0m-8-2h0m-9 9h0m6 5h0m4 8h0m-13-9h0m-45 6h0m8 3h0m8-2h0m-30-3h0m-5 2h0m4 7h0m-6-14h0m2-8h0m-12 5h0m-1 11h0m-8-20h0m-14 10h0m-6 3h0m-16 7h0m-16-20h0m6-6h0m-7 17h0m-5 6h0m-23-6h0m-2 8h0m0-1h0m-2-13h0m-8-3h0m-5 17h0m6-6h0m0-8h0m-9-5h0m-19 9h0m-5 4h0m-9-8h0m-5 3h0m3 8h0m8 1h0m39 19h0m10 5h0m-1 8h0m9-19h0m5 15h0m-7-5h0m-8-1h0m15 0h0m8 7h0m1-2h0m4-7h0m20-4h0m-5 7h0m-4 8h0m40-22h0m5 6h0m-2 5h0m9-3h0m9 7h0m6-6h0m9-10h0m-8 4h0m-1 9h0m11-8h0m64 8h0m10-14h0m5 19h0m7-1h0m6-9h0m-5 7h0m15-16h0m2-8h0m4-8h0m21 21h0m9 1h0m-3 8h0m5-8h0m14 6h0m19-12h0m0-8h0m18 25h0m12-11h0m1-2h0m-8 4h0m10 8h0m2-10h0m9-1h0m23-3h0m2 9h0m38-7h0m-6 6h0m-4 8h0m12-7h0m0-8h0m7 16h0m8-19h0m15 21h0m1-14h0m4-5h0m22-1h0m8 16h0m1-3h0m2-8h0m9 10h0m5-5h0m9-5h0m8-3h0m6 5h0m-7 0h0m35-8h0m9-1h0m-2 19h0m4 7h0m-4 8h0m7-23h0m5 6h0m0 3h0m8-11h0m-1-9h0m4-7h0m6 21h0m-5-6h0m14 8h0m-7 6h0m-6 5h0m20-14h0m13 2h0m5 7h0m6-4h0m7-2h0m2 9h0m-1-24h0m5 18h0m15-12h0m5 12h0m1-8h0m23-5h0m-9 1h0m9-2h0m-5 5h0m7 9h0m3 0h0m-2 8h0m4-14h0m1 8h0m6-9h0m7-10h0m-1-8h0m7 16h0m-8-2h0m9 9h0m-8-3h0m9-10h0m-5 6h0m-9 0h0m17-8h0m1-3h0m8-2h0m9 1h0m-11 19h0m3 5h0m-5-6h0m11-11h0m1 7h0m9 0h0m-7-12h0m8 8h0m6 3h0m4-12h0m5 1h0m8-1h0m16 18h0m-8 4h0m24-9h0m6 6h0m-4 0h0m4-16h0m6 7h0m-9-1h0m12-9h0m28 22h0m5-16h0m-6-6h0m-4-8h0m10 15h0m1 13h0m17-20h0m13 1h0m1 0h0m3 8h0m-2 13h0m2-8h0m7 5h0m6 5h0m-13-19h0m0 9h0m9 0h0m-5 7h0m12-18h0m8 10h0m12-13h0m17 21h0m3-4h0m20 5h0m20-18h0m-21 41h0m1 8h0m-7-18h0m-16-1h0m1 8h0m-5 7h0m-4-2h0m8 0h0m-13-2h0m-2-13h0m-4 12h0m-2 0h0m-6 5h0m-2-6h0m-4-14h0m-6 6h0m-4 7h0m-12-7h0m-9-1h0m-7 5h0m3-9h0m8-2h0m-9 1h0m7-4h0m-7 16h0m-8-4h0m-7-3h0m13-4h0m-4 10h0m-4 5h0m-7-12h0m-20 9h0m1 9h0m-9-14h0m-13 6h0m-7-5h0m-30 4h0m-7 5h0m-3-18h0m-9 7h0m8-3h0m-30-2h0m-3-8h0m-7-5h0m10 30h0m-9-1h0m-7-4h0m2-11h0m7 5h0m-15 10h0m3-8h0m6-6h0m-11-2h0m4 7h0m-12-8h0m-1 17h0m5-7h0m-13-13h0m-1 9h0m-1-8h0m-17 16h0m4 8h0m7 3h0m-17-11h0m8 0h0m-35 3h0m-7-4h0m2-2h0m-3-7h0m-10-4h0m7 4h0m-30 13h0m9 1h0m-23-21h0m3-8h0m-7 20h0m-2-7h0m-2-8h0m0 23h0m-7-4h0m8 2h0m-9-18h0m-8-2h0m-7-3h0m10 8h0m5 6h0m-17 5h0m7 4h0m-11-16h0m-10 16h0m-5-6h0m4-2h0m-6 6h0m-1 3h0m-10-9h0m-4 2h0m-6 6h0m-9 1h0m4 0h0m-8-2h0m-2-8h0m2-8h0m1-8h0m-12 4h0m-2 23h0m-11-19h0m-3 1h0m0-3h0m-1 6h0m-2-6h0m-8 1h0m-6 6h0m-8 7h0m7 4h0m8 3h0m-20-20h0m-10 9h0m-1-9h0m0 9h0m1-8h0m6-6h0m-12 13h0m-8 4h0m-20 5h0m-18-12h0m-1 3h0m-6 5h0m-9-11h0m-3 7h0m-14-3h0m0-9h0m-1-8h0m-3 17h0m-14 12h0m8-2h0m8-2h0m-22-5h0m-18-6h0m0-8h0m-12 4h0m-18 16h0m-9-13h0m-12-3h0m-5 6h0m-2 13h0m-15-3h0m0-15h0m-1 1h0m8 1h0m7 4h0m-16 7h0m-9-1h0m8 9h0m-12-11h0m8 0h0m-41-7h0m-12 14h0m-1 8h0m-6 6h0m-20-16h0m7 5h0m-10-1h0m-12-21h0m-32 18h0m-2 8h0m-4-5h0m-5-1h0m-5-8h0m-8 0h0m-8 1h0m7-9h0m-1 0h0m-2 8h0m-4 8h0m-18-16h0m65 26h0m9 4h0m22-4h0m0 9h0m-3 8h0m14-13h0m-2 8h0m13 4h0m-7 5h0m-8 3h0m19-31h0m-7-5h0m25 11h0m-6-5h0m21 15h0m3-8h0m4-3h0m5-7h0m-2 3h0m3 14h0m1-8h0m1-2h0m5 16h0m10-16h0m7-4h0m7 2h0m2 10h0m5 7h0m18-10h0m3 2h0m2 2h0m6-10h0m7-4h0m8 4h0m-5 11h0m4 3h0m1-2h0m0-7h0m4 7h0m5 7h0m-8-18h0m-6-6h0m27 22h0m9-2h0m6-5h0m13-5h0m-8 3h0m37 5h0m-7-4h0m8-1h0m2 0h0m1-4h0m-2 8h0m4-4h0m3-8h0m0-3h0m17 1h0m5-1h0m7 5h0m8 2h0m18-6h0m1 18h0m-8 1h0m16-15h0m11 4h0m8-1h0m8-3h0m-1 4h0m-6 6h0m18-6h0m7-4h0m0 12h0m3-16h0m2 19h0m6-3h0m3 4h0m6-5h0m6-7h0m-5 6h0m2-14h0m7 17h0m0-16h0m2-2h0m3 12h0m0-1h0m19-1h0m28 2h0m2-8h0m1 4h0m4-4h0m-5-7h0m-8-3h0m19 16h0m-5 7h0m6 5h0m-4 8h0m1 8h0m10-25h0m15 8h0m17 1h0m7-5h0m-7-6h0m0-12h0m18 23h0m-4 8h0m7-21h0m-8 2h0m14-9h0m8 0h0m1 8h0m9-6h0m6 14h0m-8-3h0m-8 0h0m24 2h0m-1 9h0m-7 4h0m8-12h0m10-2h0m-2-9h0m13 11h0m-4 7h0m5-6h0m11-2h0m-9-2h0m9-6h0m-5 7h0m5-9h0m12 11h0m3-7h0m1-3h0m-8 0h0m10-2h0m3 9h0m5-14h0m27 18h0m-8 0h0m47-18h0m2 0h0m0 6h0m0 12h0m0 2h0m6-6h0m0-14h0m20 21h0m-7 4h0m-7 4h0m20-23h0m3 11h0m16-5h0m8 3h0m6-15h0m0 8h0m7-5h0m-9 0h0m18 6h0m22 12h0m7-5h0m9 0h0m-4-2h0m3-7h0m6 0h0m8 13h0m7 5h0m-3-21h0m-4 24h0m-4 5h0m-33 2h0m-5-6h0m-7 5h0m4 1h0m-8-1h0m7 0h0m-36-11h0m-23 2h0m-5 14h0m4-7h0m-12 3h0m0 8h0m-3-4h0m-24-1h0m5 7h0m-6-6h0m-2 8h0m0 8h0m-3-33h0m-1 8h0m0 4h0m7 3h0m-9 2h0m-2-9h0m8-4h0m4-7h0m-13 8h0m-3-2h0m0 9h0m-4-5h0m8 3h0m8-1h0m-17 4h0m-5-10h0m7-4h0m9 2h0m-39 6h0m-3 8h0m-3 8h0m-8-9h0m-8 6h0m-7 5h0m-18-7h0m-2 9h0m-32-12h0m-19-8h0m-10 16h0m-2-12h0m-14 10h0m-5 6h0m2-13h0m2 8h0m-7-12h0m-5 9h0m-7-4h0m-9 0h0m10 5h0m-9-3h0m-2-1h0m-49-11h0m4-7h0m-43 16h0m-10 3h0m6-6h0m-12 6h0m-16-9h0m0 13h0m-6-17h0m-8 0h0m-8-2h0m14 11h0m7 4h0m6 6h0m-17-7h0m6-7h0m-9-3h0m-1-9h0m5-6h0m-17 20h0m-15-1h0m-20 4h0m-16-8h0m-8 2h0m-8 2h0m16-8h0m-9-1h0m-14 6h0m-1-6h0m-17 7h0m-2-2h0m-7 6h0m3-8h0m-33 4h0m-3 6h0m-19-13h0m-3 9h0m-8-1h0m-1 14h0m3 8h0m-6-21h0m-17 10h0m6 6h0m-9-7h0m-11-2h0m0 5h0m-12-8h0m-14-4h0m-4 9h0m6-5h0m1-8h0m-9 7h0m6 6h0m0 8h0m-16-12h0m4-8h0m9-1h0m-20 3h0m-5 10h0m-53 25h0m78-20h0m6 9h0m6 6h0m-1-13h0m6 8h0m-8 1h0m16 0h0m2 9h0m9-17h0m-4 8h0m9 10h0m3-4h0m8 3h0m7-3h0m28-13h0m6 6h0m7-4h0m2 5h0m7-10h0m1 3h0m-5 7h0m9 10h0m-3 7h0m2 8h0m20-24h0m3-7h0m-1 9h0m-7-3h0m-2-8h0m14 6h0m12-1h0m3 12h0m36-17h0m18-2h0m4-7h0m6-5h0m27 34h0m8 0h0m11-16h0m1 6h0m-8 1h0m14 9h0m17-19h0m3 19h0m0-17h0m16-2h0m10 7h0m-5 6h0m18-2h0m1-3h0m11-10h0m0-9h0m28 26h0m-5 7h0m15-26h0m8 1h0m23 11h0m-6 6h0m8-1h0m-4 7h0m-5 7h0m9-21h0m15-7h0m11 11h0m9 1h0m1 8h0m0-13h0m12-4h0m-8-2h0m25 11h0m9-7h0m9-4h0m-6-5h0m31 5h0m0 17h0m7-20h0m-2 9h0m7-8h0m5 7h0m9 0h0m-10 7h0m-8-3h0m35 1h0m3 4h0m-8-3h0m14 5h0m0-18h0m-8-1h0m20 8h0m6-5h0m3-8h0m-8 9h0m3 9h0m7-4h0m3 9h0m-5-7h0m13-3h0m0 12h0m3-7h0m-2 5h0m6-9h0m5 4h0m6-5h0m0-5h0m22 1h0m2 3h0m6 4h0m2-8h0m0 8h0m1 5h0m12 0h0m5-7h0m17-7h0m12 6h0m5-9h0m-7-4h0m-13 31h0m7-5h0m-10 7h0m-33 6h0m-4-1h0m2-8h0m0-8h0m-12 16h0m-6 5h0m-6 6h0m6-15h0m-4 1h0m-26 15h0m-3-8h0m-15-3h0m-2 9h0m-5-18h0m7-4h0m5-7h0m-33 23h0m-1 9h0m0-8h0m-4-8h0m2 1h0m-8 9h0m-6 5h0m-5-12h0m-17 8h0m-5 6h0m-7 5h0m-5-27h0m3-8h0m8-4h0m-14 30h0m-8 1h0m-6-6h0m10-1h0m-2-8h0m-8 16h0m-10-2h0m-4-12h0m-1 3h0m-7 7h0m2 9h0m7 4h0m-15-29h0m2-8h0m-4 22h0m6-6h0m8-1h0m-19 13h0m-1-10h0m-1-6h0m-1-5h0m0-8h0m4-8h0m-7 19h0m8-4h0m-18 20h0m-6-2h0m-5-5h0m-6-10h0m7 5h0m1 8h0m-42-3h0m4-8h0m-11 4h0m-17-2h0m8-1h0m8 2h0m-23 14h0m5 7h0m-16-14h0m-12-7h0m-9 7h0m6-6h0m-10 13h0m-2-17h0m-24 10h0m-9 1h0m-5 6h0m8-10h0m-5 5h0m5-7h0m0-8h0m-10 13h0m-5-9h0m-3-8h0m-9 13h0m-9-1h0m3 8h0m-21-10h0m-1 2h0m-8-10h0m-1 16h0m4-7h0m-6-5h0m-6-6h0m-7 22h0m-4-7h0m-10-7h0m-8-2h0m-8-2h0m0 6h0m0 13h0m-3-8h0m-2 0h0m-4-7h0m-7 7h0m-3-11h0m-5 1h0m5-7h0m-8 9h0m-17 16h0m-6 5h0m4-23h0m0-3h0m-16 11h0m-8-3h0m-16 15h0m-5-2h0m8 2h0m-18-6h0m0-7h0m-15 7h0m-7 5h0m1-20h0m0 5h0m-5 7h0m-4 7h0m8-6h0m-19 0h0m-2 2h0m-18-14h0m-69 16h0m-8 20h0m2 7h0m0-20h0m13 3h0m-1-9h0m4 19h0m-1 8h0m-1 8h0m98-27h0m11 18h0m2 1h0m4-22h0m3 3h0m0 9h0m3 0h0m0 0h0m1 3h0m4-13h0m5 20h0m21-6h0m3 2h0m-6 6h0m14-21h0m17 10h0m-1 8h0m7 5h0m-4-9h0m12-15h0m2 17h0m13-9h0m-8-1h0m26 1h0m27 4h0m6 2h0m6 6h0m3-8h0m-2 2h0m9-10h0m-8-3h0m16 18h0m3-19h0m4-7h0m2 9h0m3 12h0m6 6h0m-2 1h0m3-3h0m6 6h0m-2-15h0m2 0h0m6 9h0m-8-1h0m16-8h0m7 4h0m-2-15h0m10 14h0m0-7h0m0-9h0m10 24h0m1-2h0m10-9h0m-8-3h0m-4-8h0m13 4h0m-7-4h0m17 0h0m8 9h0m3 7h0m12-15h0m-8-2h0m-7 4h0m26 6h0m-7 4h0m-8 4h0m15-14h0m12 2h0m8-4h0m2 20h0m6-7h0m0-4h0m2 5h0m3-15h0m7-3h0m-7 14h0m16-8h0m6 14h0m-8-3h0m22 1h0m7 7h0m8 0h0m8-19h0m0-8h0m18 19h0m-3 8h0m3-9h0m11 8h0m-7 4h0m-4 7h0m35-26h0m-8-1h0m-5-6h0m43 11h0m0 9h0m5-16h0m8 14h0m11 2h0m1 8h0m-1 9h0m17-26h0m49-9h0m-9-1h0m-59 32h0m-10 4h0m-5-7h0m-5-3h0m-19 15h0m-2-4h0m-6-5h0m0-8h0m-3 7h0m6 6h0m-9-6h0m-3-7h0m-7 5h0m-2 7h0m9-1h0m7-4h0m-35 14h0m-22-20h0m-2 2h0m-11 3h0m5 7h0m-15-2h0m2 8h0m-1 8h0m-3-20h0m-6 2h0m-8 0h0m-8-1h0m6 10h0m-6-17h0m-12 21h0m3 7h0m0 9h0m-11-22h0m-5-4h0m-17-4h0m-8-4h0m6 3h0m-6-6h0m6 12h0m-8 5h0m-9-1h0m-15-14h0m-5 6h0m-2 4h0m-10-2h0m-13 4h0m-7-4h0m7 8h0m-5-7h0m-20 5h0m-1-12h0m-8 2h0m-9-1h0m16-4h0m5 7h0m6 6h0m-15 6h0m0 8h0m-12-24h0m0-2h0m-6-6h0m-4-8h0m-5 10h0m-1 15h0m-4 3h0m-10-15h0m-8 2h0m-9 2h0m15 15h0m3-8h0m-31 1h0m-17-4h0m1-8h0m-10 4h0m3 8h0m-2 8h0m-4-8h0m-3-7h0m2 15h0m-2-14h0m-2 13h0m-3-12h0m-9-4h0m-1 9h0m-10 0h0m-9-8h0m-16-3h0m-19-2h0m-1-8h0m-7 19h0m-3-4h0m-11-5h0m-1 5h0m-1 13h0m-108-12h0m128 16h0m-7 4h0m-8 2h0m26 6h0m6 1h0m6-7h0m-8-3h0m11 8h0m8-2h0m8 3h0m-11-8h0m3 18h0m-8 4h0m-8 1h0m17-27h0m3 4h0m4 2h0m3 8h0m5 7h0m4-2h0m4 7h0m6-19h0m8-2h0m8 2h0m-7 11h0m4-11h0m6 5h0m-8 2h0m10-4h0m0-3h0m8 1h0m-8 1h0m-8-2h0m19 12h0m1-19h0m4 3h0m0-9h0m3 23h0m2-3h0m8-4h0m12 12h0m12-5h0m2-9h0m7 3h0m2-9h0m-1 12h0m2-6h0m-9 1h0m-8 2h0m22 9h0m7 4h0m0-12h0m8-2h0m28 4h0m1 9h0m5 6h0m-4-16h0m2-12h0m-7 3h0m12 18h0m-6-6h0m0-8h0m7 5h0m2 2h0m8-2h0m-4-8h0m8-5h0m36 12h0m13 6h0m4-5h0m14-9h0m-9 0h0m10 2h0m6-6h0m-1 1h0m11 5h0m10 12h0m27-16h0m-105 22h0m5 7h0m-51-7h0m0 8h0m-18 0h0m-6 5h0m-2 8h0m5-21h0m-15 6h0m-7 5h0m-2 8h0m-54-19h0m-27-1h0m-28-1h0m-4 2h0m-2 4h0m-18 1h0m-6 1h0m-1-8h0m-1 13h0m8 0h0m-10-5h0"/></defs>
<use href="#eG" transform="scale(0.25)" fill="none" stroke-linecap="round" stroke="#efefef" stroke-width="7.2"/>
<use href="#eM" transform="scale(0.25)" fill="none" stroke-linecap="round" stroke="#50a8dc" stroke-width="7.2"/>
<path d="M1429.1 902.4h0M1430.3 905.2h0M1432.4 903.6h0M1435 903.8h0M1431 904.2h0M1426.9 908.8h0M1388.8 912h0M1396 912.6h0M1397.9 910.9h0M1402.3 913.8h0M1400.4 912h0M1399.8 909.5h0M1403.6 914.9h0M1404.4 912.5h0M1417.7 916.9h0M1418.6 914.5h0M1420.3 918h0M1419.2 920.3h0M1419.2 922.9h0M1419.2 919.2h0M1410.4 919.6h0M1412 917.6h0M1414.5 916.6h0M1404.6 920.3h0M1402.6 922h0M1401.5 924.3h0M1499.9 956.4h0M1500.8 953.9h0M1502.4 951.9h0M1455.2 959.2h0M1457.8 959.1h0M1460.3 958.4h0M1363.9 965.7h0M1365.1 963.4h0M1367.6 962.7h0M1462.7 962.9h0M1460.5 964.4h0M1459.2 966.6h0M1412.3 971.3h0M1295.2 970.5h0M1285.4 970.9h0M1283 970h0M1282.8 971.2h0M1280.3 970.5h0M1275.1 970.6h0M1273.8 971.2h0M1273 968.7h0M1269.5 973.5h0M1269.9 970.9h0M1268.4 968.8h0M1272.3 972.4h0M1274.8 973.2h0M1273.4 977.8h0M1281.4 975.5h0M1285.8 973.8h0M1286.1 976.7h0M1291.5 972h0M1289.4 970.6h0M1286.8 970.4h0M1299.4 977.3h0M1315.6 974.4h0M1322.3 976h0M1323.1 976.2h0M1325.3 977.5h0M1423.5 976h0M1480.2 977h0M1485.6 975h0M1497.7 981.5h0M1496.1 982.9h0M1497.8 980.9h0M1493.9 981.4h0M1493.9 984h0M1309.9 982h0M1303.2 983.5h0M1300.9 980.6h0M1281.2 979.6h0M1277 983.9h0M1266.3 986h0M1275.9 989.9h0M1286.8 989.8h0M1289.3 990.1h0M1289.2 987.4h0M1303.4 985h0M1309.5 989.5h0M1312.8 986.8h0M1310.3 987.3h0M1322.1 987.5h0M1473.8 984.5h0M1476.2 988h0M1477 990.4h0M1477.7 993h0M1478.8 987.5h0M1481.3 988.4h0M1483.7 987.7h0M1484.7 986.7h0M1489.9 987.6h0M1497.8 989.1h0M1499.3 991.2h0M1501.9 991.1h0M1497.8 985.2h0M1498.9 986.1h0M1502.2 984.2h0M1501.6 986.7h0M1512.7 995.1h0M1511.4 992.8h0M1510.7 991.9h0M1505.7 992h0M1503.7 992.5h0M1496.9 994.4h0M1494.3 990.2h0M1493.6 991.8h0M1491.1 992.5h0M1475.4 990.2h0M1404.1 994.1h0M1403.8 996.7h0M1403.8 999.3h0M1323.7 991.5h0M1322.7 993.9h0M1320.9 993.8h0M1313.7 994h0M1315.3 992h0M1317 990h0M1312.3 992.7h0M1310.3 991.1h0M1305.7 991.7h0M1308.3 991.6h0M1310.9 991.7h0M1302.9 996h0M1305 997.5h0M1306.7 999.4h0M1301.5 994h0M1299 992.2h0M1297.2 992.9h0M1290.2 990.1h0M1287.5 995.7h0M1282.8 992.1h0M1285.2 991.1h0M1287.8 991.4h0M1279 991.4h0M1277.7 989.2h0M1278.7 994.5h0M1275.4 992.2h0M1277.8 991.3h0M1269.1 990.3h0M1278.7 997.4h0M1276.3 998.5h0M1274.2 999.9h0M1293.8 999.4h0M1298.9 998h0M1300.6 997.7h0M1303.4 998.1h0M1305.5 999.6h0M1306.2 997h0M1306.9 999.5h0M1312 996.6h0M1315.5 1000.6h0M1317.2 1002.6h0M1396.6 998.1h0M1399.1 998.4h0M1398.3 1000.3h0M1400 998.3h0M1400.1 996.1h0M1405.7 999.7h0M1403.5 1001h0M1400.9 1001h0M1410.5 1001.1h0M1413.1 1000.7h0M1415.6 1001.6h0M1434.2 1001.9h0M1434.3 1004.5h0M1437 1001.2h0M1440.2 1001.2h0M1441.9 999.2h0M1444.1 1001.7h0M1540 1002h0M1448.7 1003.3h0M1450.4 1001.3h0M1447.6 1007.4h0M1445 1005.7h0M1444.1 1003.3h0M1444.6 1007.2h0M1444.1 1006.9h0M1442.9 1007.9h0M1440.4 1005.6h0M1437.8 1005.5h0M1438.3 1005.8h0M1436.6 1005.1h0M1436.3 1007.2h0M1438.2 1005.4h0M1420.5 1007.7h0M1422.2 1005.8h0M1317.7 1005.8h0M1315.4 1004.6h0M1312.8 1005.1h0M1310.8 1004h0M1308.2 1003.5h0M1298.2 1002.7h0M1285.9 1003.7h0M1284.6 1004.1h0M1282.5 1003.3h0M1279.8 1008h0M1280.8 1010.4h0M1271.9 1008.5h0M1274.1 1010h0M1276.3 1011.2h0M1275.6 1010.2h0M1275.6 1012.6h0M1278.2 1012.9h0M1276.8 1010.3h0M1278.8 1012.8h0M1281.6 1012.8h0M1282.2 1011.1h0M1280.1 1012.6h0M1289.2 1009.8h0M1292.6 1010h0M1293.6 1008.8h0M1313.8 1008.9h0M1315.8 1007.2h0M1332.5 1013.3h0M1335 1012.6h0M1337.5 1013.3h0M1347.3 1012.8h0M1384.5 1013.8h0M1381.9 1014.4h0M1389.7 1011.6h0M1406 1011.1h0M1406.9 1008.9h0M1407.7 1008.9h0M1411.8 1010.4h0M1413.6 1012.2h0M1436.4 1012.7h0M1438.2 1014.6h0M1436.6 1012.3h0M1438.1 1014.5h0M1438.1 1010.2h0M1438.2 1013.4h0M1436.9 1011.1h0M1440.4 1008.1h0M1440.7 1012.5h0M1439.3 1014.7h0M1441.9 1013.6h0M1439.3 1013.3h0M1437.1 1014.6h0M1442.5 1010h0M1442.8 1012.6h0M1444.9 1014.1h0M1443.9 1010.9h0M1442.7 1008.6h0M1444.6 1011.9h0M1445.9 1014.1h0M1448.4 1014.8h0M1447.3 1010.3h0M1444.7 1010.8h0M1447.8 1009.5h0M1447.8 1013h0M1448.1 1015.6h0M1448.4 1009.5h0M1450.8 1011.8h0M1452.1 1009.6h0M1454 1007.8h0M1453 1012.6h0M1454.1 1012.1h0M1453.6 1014.7h0M1454.9 1016.9h0M1456.9 1013h0M1454.7 1011.5h0M1452.2 1012.3h0M1474.1 1011.6h0M1482.4 1016.7h0M1480.5 1014.9h0M1480.6 1015.7h0M1474.3 1016.9h0M1471.8 1016.5h0M1455.6 1015.2h0M1456.7 1012.8h0M1456 1010.3h0M1451.8 1014.6h0M1446.1 1016.3h0M1448.5 1017.5h0M1438.7 1019.6h0M1437.2 1016h0M1422.8 1018.2h0M1420.3 1018.9h0M1416.6 1016.7h0M1416.5 1016h0M1412.9 1019.7h0M1414.3 1017.5h0M1414.8 1015h0M1405.5 1019.2h0M1403.7 1021h0M1404.1 1016.4h0M1396.6 1016.2h0M1395.1 1018.4h0M1396.5 1015.7h0M1373.6 1018.6h0M1376.2 1018.4h0M1378.4 1016.9h0M1370 1019.7h0M1361.5 1019.5h0M1359 1018.9h0M1318.8 1017.8h0M1315.6 1018.6h0M1317.7 1020.2h0M1313.8 1018.7h0M1313.3 1015.6h0M1314.8 1013.5h0M1314.9 1010.9h0M1312.8 1016.7h0M1315.1 1015.4h0M1310.7 1015.6h0M1300.4 1015h0M1300.5 1012.4h0M1301.8 1010.2h0M1276.5 1016.7h0M1292.5 1023.1h0M1297.9 1022.5h0M1295.7 1023.9h0M1315.6 1020.6h0M1323.3 1020.4h0M1334 1025.9h0M1336.5 1025.2h0M1339 1026.2h0M1337 1022.3h0M1339.6 1022h0M1342.9 1020.2h0M1344.7 1018.3h0M1346.7 1023.6h0M1344.1 1023.6h0M1355.3 1023.6h0M1354.2 1021.3h0M1351.6 1020.9h0M1366.4 1021.5h0M1367.5 1023.9h0M1384.1 1025.5h0M1385.2 1023.7h0M1391.9 1026h0M1401.3 1022.3h0M1404.3 1023h0M1406.8 1022.7h0M1419.4 1020.9h0M1423.3 1020.6h0M1424.4 1023h0M1425.4 1025.4h0M1433.3 1020h0M1433.5 1017.4h0M1443.1 1020.5h0M1444.2 1018.2h0M1448.4 1020.1h0M1447.7 1017.6h0M1449.3 1022.6h0M1451.6 1023.7h0M1455.4 1021.4h0M1456.6 1019.1h0M1455.8 1016.6h0M1458.4 1024.2h0M1456.1 1025.2h0M1458.6 1022.8h0M1457.1 1025h0M1455.1 1026.6h0M1458.9 1024.2h0M1471.3 1025.9h0M1473.7 1024.9h0M1475.3 1025.9h0M1477.7 1025h0M1477.3 1024.6h0M1482.8 1024.4h0M1482.8 1021.8h0M1484.6 1021.6h0M1485.4 1024.8h0M1485.2 1027.4h0M1483.5 1029.3h0M1486.1 1024.9h0M1488.5 1024h0M1491 1023.4h0M1488.6 1028.9h0M1487.7 1026.5h0M1486.5 1029.5h0M1484.1 1027.1h0M1481.2 1032h0M1483.1 1033.8h0M1479.1 1029.9h0M1478.8 1028.7h0M1478.4 1030.8h0M1478.9 1028.3h0M1478.1 1026.7h0M1477.2 1030.6h0M1475.3 1031h0M1477.8 1030.7h0M1470.8 1026.7h0M1473 1028.1h0M1457.6 1030h0M1455.1 1029.3h0M1449.4 1031.5h0M1449.2 1026.1h0M1447 1027.6h0M1448.4 1029.3h0M1446.4 1027.6h0M1447.3 1031.9h0M1449.7 1032.9h0M1445.3 1028.5h0M1447.1 1030.4h0M1443 1029.9h0M1438.7 1028.4h0M1438.8 1031h0M1437.1 1033h0M1430.4 1029.4h0M1422.6 1029.8h0M1422.5 1027.2h0M1422.8 1024.6h0M1419 1031.7h0M1413.6 1029h0M1383.8 1028h0M1381.3 1028.3h0M1377.5 1030.8h0M1378.7 1033.1h0M1380.6 1034.9h0M1369.4 1027.6h0M1367.2 1029.1h0M1356.6 1026h0M1359.2 1026.1h0M1361.5 1027.3h0M1345.8 1027.7h0M1324 1029.8h0M1324.2 1027.2h0M1346.7 1032.8h0M1348.8 1034.2h0M1360.2 1033.6h0M1362.4 1035h0M1363.6 1037.2h0M1364.7 1037.9h0M1372.5 1035.9h0M1371 1033.8h0M1371.6 1031.2h0M1394.7 1036.3h0M1418.3 1035.6h0M1423.9 1036.9h0M1426.5 1036.7h0M1426.3 1034h0M1428.8 1033.2h0M1439.1 1037h0M1440.6 1039.1h0M1454.5 1037.4h0M1471.2 1035.3h0M1479.4 1032.9h0M1481.1 1037.9h0M1480 1035.6h0M1489.8 1032.3h0M1490.5 1033.2h0M1491.5 1036.1h0M1489.1 1037.1h0M1487.9 1039.4h0M1498.5 1036.9h0M1510.4 1036.8h0M1511 1039.4h0M1511.6 1036.5h0M1553.5 1037.8h0M1550.9 1038h0M1556.6 1035.6h0M1556.8 1038.2h0M1555.7 1043.3h0M1553.7 1045.1h0M1551.1 1039.6h0M1548.3 1042.5h0M1547.6 1043.4h0M1540.5 1043.5h0M1540 1042.2h0M1539.4 1041h0M1529.7 1041.4h0M1528.8 1039h0M1509.9 1039.7h0M1509.1 1042.2h0M1508.5 1044.7h0M1504.8 1043.1h0M1504.2 1040.1h0M1502.8 1038.9h0M1491 1041.2h0M1480.4 1043.2h0M1482.3 1041.4h0M1479.7 1038.3h0M1479.2 1040.8h0M1478.9 1043.4h0M1474.4 1042.2h0M1471.4 1039.6h0M1469.9 1043h0M1471.4 1045.1h0M1473.2 1047h0M1465.7 1040.3h0M1468.2 1039.6h0M1464.7 1041.6h0M1462.2 1042.1h0M1462.5 1039.5h0M1413.8 1039.3h0M1412.5 1038.1h0M1410.7 1041.2h0M1408.9 1041.9h0M1388.5 1039.4h0M1383.8 1040.3h0M1380.7 1038.2h0M1370.4 1039.7h0M1437.5 1049.6h0M1482 1046.1h0M1488.2 1049.8h0M1488.9 1052.3h0M1487.2 1054.3h0M1492.6 1045.4h0M1494.3 1043.5h0M1497.8 1044.5h0M1499 1042.3h0M1499.5 1046.5h0M1498.4 1044.2h0M1511.3 1045.2h0M1508.7 1045.2h0M1512.3 1046.5h0M1510.2 1048h0M1521.5 1044.7h0M1538.4 1044.5h0M1540.8 1045.4h0M1542.9 1043.9h0M1539.5 1047.6h0M1539.7 1046.6h0M1541.5 1048.5h0M1542 1051.1h0M1553.4 1044.3h0M1543.4 1053.4h0M1540.9 1052.7h0M1538.4 1052h0M1538 1051.4h0M1532.5 1054.6h0M1526.7 1054.1h0M1524.2 1054h0M1515.4 1055.8h0M1516.9 1053.7h0M1516.3 1051.1h0M1491.1 1050.7h0M1410.5 1054.2h0M1402.1 1050.5h0M1397.4 1055.1h0M1397.4 1052.5h0M1458 1059.8h0M1460 1061.5h0M1467.3 1061.7h0M1493.8 1061.4h0M1499.7 1059.8h0M1500.6 1056.2h0M1498.4 1057.5h0M1516.9 1057.9h0M1517.6 1055.4h0M1542.5 1064.4h0M1544.6 1065.9h0M1547.2 1066.4h0M1538.2 1067.2h0M1511.8 1064h0M1509.7 1065.6h0M1500.3 1063.6h0M1497.9 1063.2h0M1487.8 1073.8h0M1485.2 1073.6h0M1482.7 1074.2h0M1498.5 1068h0M1496 1068.6h0M1530.7 1070.1h0M1528.3 1071.1h0" fill="none" stroke="#1b2a4c" stroke-width="2.9" stroke-linecap="round" stroke-linejoin="round"/>
<use href="#fM" transform="scale(0.25)" fill="none" stroke-linecap="round" stroke="#50a8dc" stroke-width="7.2"/>
<path d="M1863.8 939.8h0M1705.9 948.7h0M1821.7 954.5h0M1823.3 962.9h0M1823.9 960.4h0M1823 957.9h0M1823.4 965.3h0M1820.8 965.4h0M1818.4 964.5h0M1828.6 962.6h0M1826 962.6h0M1831.2 965.3h0M1832.9 960.1h0M1831.4 962.3h0M1833 963h0M1832.5 965.5h0M1833.6 962.8h0M1835.6 961.4h0M1837.9 964.9h0M1862.8 960.4h0M1836.2 966.9h0M1838.8 966.7h0M1829.9 968.7h0M1829.3 966.2h0M1829.7 969h0M1744.2 978.1h0M1741.6 978.6h0M1739.2 977.5h0M1691.5 989.8h0M1690 987.7h0M1691.7 989.5h0M1713.8 984.9h0M1720.6 993.4h0M1706.5 995.1h0M1706.2 997.7h0M1702.2 994.2h0M1701.9 991.5h0M1701.8 991.7h0M1698.4 993.7h0M1696.7 992.4h0M1694.1 992.3h0M1696.3 990.6h0M1695.5 993.1h0M1697.2 995.1h0M1695.5 993.9h0M1693.9 995.6h0M1692 995.3h0M1691.8 992.4h0M1694.4 992.3h0M1688.7 993.8h0M1687.2 992.2h0M1688.6 990h0M1686.3 990.9h0M1684.3 989.3h0M1686.1 991.5h0M1685.1 991.9h0M1683.5 991h0M1685.9 992h0M1680.4 995.7h0M1681.8 997.9h0M1683.1 1000.2h0M1700.7 997.3h0M1698.7 995.7h0M1697.3 993.5h0M1704.9 998.2h0M1706.9 998.1h0M1752.1 1000h0M1751 997.6h0M1750.7 995h0M1754 1001.1h0M1756.1 1002.6h0M1756.7 997.3h0M1757.7 997.4h0M1758.1 1000.2h0M1759 997.8h0M1759.1 1001.3h0M1763.8 1002.6h0M1762.1 1004.6h0M1760.8 1006.2h0M1759.4 1008.4h0M1759.5 1002.1h0M1755.8 1003.5h0M1753.8 1002.8h0M1753.1 1005.3h0M1751.8 1005.1h0M1751.4 1002.5h0M1751.5 1002.4h0M1752.6 1004.8h0M1751.4 1005.3h0M1751.2 1007.9h0M1751.1 1005.3h0M1750 1007.7h0M1749.5 1004.4h0M1748 1004.1h0M1749.5 1002h0M1746.6 1002.1h0M1745.7 1004.6h0M1745.8 1007.2h0M1745.1 1009.7h0M1745.2 1007h0M1747.5 1008.2h0M1750.1 1008.3h0M1741.4 1003h0M1695.1 1004.6h0M1695 1007.2h0M1727.1 1010.9h0M1729.7 1010.4h0M1732.3 1010.7h0M1733.9 1009.6h0M1733.3 1012.1h0M1735 1014.1h0M1737.1 1012.1h0M1735.6 1010h0M1737.4 1011.7h0M1741.5 1010.2h0M1743.9 1011.2h0M1744.9 1013.6h0M1741.7 1012.7h0M1743.8 1011.6h0M1746.3 1010.9h0M1749.1 1014h0M1750.1 1016.4h0M1750.5 1018.9h0M1755.1 1011.7h0M1760.8 1009.4h0M1759.2 1014.2h0M1755.9 1018.3h0M1754.4 1014.3h0M1753.4 1012h0M1753.6 1014.6h0M1747.4 1018.2h0M1749.7 1017h0M1742.9 1017.1h0M1742.2 1018.3h0M1737.8 1016.4h0M1735.2 1016.9h0" fill="none" stroke="#1b2a4c" stroke-width="2.9" stroke-linecap="round" stroke-linejoin="round"/>
<use href="#eG" transform="translate(-2 290) scale(0.25)" fill="none" stroke-linecap="round" stroke="#eeeeee" stroke-width="7.2"/>
<use href="#eM" transform="translate(-2 290) scale(0.25)" fill="none" stroke-linecap="round" stroke="#eeeeee" stroke-width="7.2"/>
<path d="M1433.3 1189.5h0M1430 1195.8h0M1426.1 1194.6h0M1424.5 1198.2h0M1386.3 1200.8h0M1392.4 1205.1h0M1427.8 1205h0M1428.6 1207.1h0M1434.2 1207h0M1437.6 1209.4h0M1413.8 1209.1h0M1401.5 1210.3h0M1403.6 1211.5h0M1401.2 1212h0M1472.8 1222.2h0M1459 1221.2h0M1453.2 1222.5h0M1491.6 1229.3h0M1508.6 1234.4h0M1495.8 1238.1h0M1457 1238h0M1354.1 1233h0M1401.2 1240.3h0M1413.4 1238.8h0M1469.8 1241.5h0M1485.3 1245.8h0M1446.3 1249.5h0M1405.4 1250.7h0M1406.3 1245.4h0M1379.2 1246.4h0M1373.7 1244.2h0M1349 1246.9h0M1349.2 1249h0M1338.8 1246.7h0M1330 1250.6h0M1324.8 1253.3h0M1332.1 1255h0M1346.8 1254.5h0M1347.4 1250.3h0M1345.9 1253.1h0M1381.8 1250.8h0M1403.8 1253.9h0M1427.9 1254.2h0M1452.9 1250.1h0M1504.1 1255.8h0M1476.2 1257.4h0M1476.1 1258.5h0M1449.3 1257.9h0M1437.1 1255.7h0M1432.3 1257.7h0M1365.3 1256.6h0M1331.5 1259.2h0M1320 1260.5h0M1310.8 1261.1h0M1306.4 1260.9h0M1302.3 1259.5h0M1284 1259.8h0M1282.3 1261.4h0M1273.9 1266.5h0M1285.4 1263.8h0M1285.6 1265.8h0M1284.9 1262.2h0M1310.1 1263.9h0M1311.7 1267.3h0M1342.5 1262.5h0M1344.5 1263h0M1361.7 1265.9h0M1361.9 1267.2h0M1369.2 1264.6h0M1475.9 1264.3h0M1491.9 1263.4h0M1491.8 1265h0M1497.8 1264.9h0M1497.6 1266.1h0M1502.5 1264.4h0M1536 1270.4h0M1533.7 1273.2h0M1532.9 1271.3h0M1521.5 1271h0M1515.1 1272.1h0M1508.4 1268.7h0M1465.3 1271.7h0M1449.5 1270.4h0M1368.3 1269.1h0M1367 1273.4h0M1364.6 1270.7h0M1360.7 1272.4h0M1357 1270.7h0M1352.2 1273.3h0M1343.9 1268.3h0M1341.3 1273.4h0M1344.7 1270h0M1314.3 1268.1h0M1315.5 1272.9h0M1313.1 1273.7h0M1311.4 1268.1h0M1308.2 1271.5h0M1279.1 1267.2h0M1267 1271.7h0M1266.9 1272.3h0M1269 1276.3h0M1297.6 1277.9h0M1301.4 1276.7h0M1310.2 1275.5h0M1310.5 1278.1h0M1314.1 1275.6h0M1312.4 1276.7h0M1326 1277.7h0M1344.7 1277h0M1360.9 1282.3h0M1479.9 1278.5h0M1511.8 1274.5h0M1517 1276.2h0M1529.3 1274.6h0M1531.6 1279h0M1546 1279.5h0M1554.8 1276.4h0M1569.3 1277.6h0M1576.2 1284.1h0M1553.1 1281.4h0M1516 1282.2h0M1501.7 1284.4h0M1465.7 1284.6h0M1442 1285.5h0M1369.2 1278.4h0M1367.5 1280.9h0M1350.9 1281.4h0M1341.5 1285.2h0M1331.5 1285.8h0M1328.5 1285.9h0M1320.8 1285h0M1303 1285.9h0M1298.4 1282h0M1291.2 1284.6h0M1278.4 1283.8h0M1270.2 1284.2h0M1273.1 1280.4h0M1268.2 1284.8h0M1266.2 1280.5h0M1260.3 1289.2h0M1304 1295.2h0M1313.5 1286.5h0M1342.5 1291h0M1352.8 1289h0M1354.7 1291.4h0M1362.8 1289.2h0M1364.2 1290.3h0M1363.6 1288.3h0M1371.5 1288.7h0M1458 1286.7h0M1475.6 1286.8h0M1498 1291.3h0M1507 1285.2h0M1509.5 1286.5h0M1534.6 1286.7h0M1546.1 1291.4h0M1528.1 1292.8h0M1518.9 1295.8h0M1466.3 1297.8h0M1437.7 1293.2h0M1414.7 1292.2h0M1416 1295.7h0M1354.2 1295.9h0M1346.7 1294h0M1328.6 1296.8h0M1326.4 1293.1h0M1321.7 1296.5h0M1305.5 1297.5h0M1305.1 1297.7h0M1307.2 1297.8h0M1295.8 1295.3h0M1287.7 1294.2h0M1278 1294.4h0M1274.3 1296.6h0M1259.6 1303.2h0M1262 1300.9h0M1265.3 1296.3h0M1270.7 1302h0M1291.3 1303.2h0M1303.5 1300.7h0M1322.3 1299.4h0M1322.5 1303.1h0M1324.4 1304h0M1322.1 1301.6h0M1328.1 1306h0M1371.4 1301h0M1392 1297.2h0M1418.4 1304h0M1428.1 1297.6h0M1538.1 1304.6h0M1517.9 1306.6h0M1505 1305h0M1495.8 1304.1h0M1480.4 1307.7h0M1480.8 1304.3h0M1462.4 1306.2h0M1432.8 1306.6h0M1422.6 1305.8h0M1418.7 1306.1h0M1411.1 1306.1h0M1399.4 1305.5h0M1384.7 1306h0M1382.8 1304.4h0M1355.3 1305h0M1339.6 1308.9h0M1329.1 1307h0M1293.8 1305.7h0M1282 1306.6h0M1270.6 1307.8h0M1261.9 1307h0M1271.7 1310.6h0M1272.8 1311.1h0M1301.5 1317.3h0M1320.6 1314.9h0M1323.5 1310.7h0M1355.4 1310.6h0M1354.4 1309.7h0M1383.1 1309.6h0M1421 1313.5h0M1433.7 1314.2h0M1434 1314.2h0M1432 1313.4h0M1434.6 1313.7h0M1436.6 1312.6h0M1441.7 1314.5h0M1452.7 1308.9h0M1484.7 1312.8h0M1487.6 1315.5h0M1497.8 1308.8h0M1498.1 1306.7h0M1515.6 1314.6h0M1522.3 1312.7h0M1572.6 1312.7h0M1567.1 1319.2h0M1502.8 1320.1h0M1486.5 1318.1h0M1484.8 1318.3h0M1476.9 1319.6h0M1473.6 1320.1h0M1432.3 1317.5h0M1398.2 1316.4h0M1374.3 1316.9h0M1361.2 1316.3h0M1339.3 1318.4h0M1332.6 1319.2h0M1323.6 1320.2h0M1292.8 1316.7h0M1293.8 1314.8h0M1290.7 1317.6h0M1290.1 1318.2h0M1288.9 1325.5h0M1300 1322.1h0M1317.6 1321.3h0M1351 1326.7h0M1363.5 1324.2h0M1364 1326.2h0M1387.6 1325.3h0M1396 1325.6h0M1426.8 1322.7h0M1498 1323.8h0M1529 1330.8h0M1531.1 1331.1h0M1512.1 1332.3h0M1479.2 1333.6h0M1469.9 1331.3h0M1468.2 1330.5h0M1421.9 1333.3h0M1401.5 1328.4h0M1339.1 1329.3h0M1334.6 1328.9h0M1319.6 1333.1h0M1298.6 1336.3h0M1340.9 1335.9h0M1346.2 1338h0M1354.1 1339.8h0M1369.4 1337.1h0M1410.8 1335h0M1411.6 1336.1h0M1467.1 1334.4h0M1481 1336.3h0M1545.3 1338.6h0M1561.5 1343.8h0M1555.9 1347h0M1552.3 1347.3h0M1549.3 1342.2h0M1530.6 1340h0M1500 1340.2h0M1475.2 1342.9h0M1406 1345.2h0M1400.7 1342.5h0M1392.2 1344.7h0M1380.1 1342.4h0M1381.6 1345.2h0M1376 1341.8h0M1330.3 1344.4h0M1326.9 1341.5h0M1318.9 1344.2h0M1306.9 1342.6h0M1302.7 1342.2h0M1321.5 1348.1h0M1361 1349.4h0M1362.9 1346.5h0M1399.2 1347.7h0M1402.4 1349.9h0M1424.1 1350.8h0M1427.2 1349.8h0M1478.6 1351.1h0M1533.5 1353.2h0M1533 1346.7h0M1531.1 1347.5h0M1563.7 1346.1h0M1547.1 1356.9h0M1501.7 1356.4h0M1503.4 1357.7h0M1495.9 1353.8h0M1489.9 1357.2h0M1330.3 1361.6h0M1461.9 1360.2h0M1479.3 1358.2h0M1494.9 1362.5h0M1513.9 1363.4h0M1449.7 1364.9h0M1354.6 1368.3h0M1497.5 1375.7h0M1488.6 1382.2h0M1381.9 1385.7h0M1403.1 1384.1h0M1426.2 1386.2h0M1420.8 1393.2h0M1375.2 1389.7h0M1358.8 1404.3h0M1355.4 1401.8h0M1377.7 1408.7h0M1400.5 1408.2h0M1358.6 1419.3h0M1420.5 1428.4h0M1346.5 1428.1h0M1381.5 1433h0M1429.1 1192.4h0M1430.1 1201.8h0M1433.1 1208.3h0M1435.2 1208.4h0M1515.8 1219.1h0M1517.5 1222.1h0M1507.3 1224.3h0M1505.1 1219.8h0M1501 1221.1h0M1491.8 1222h0M1488 1226h0M1444.2 1227.4h0M1487.1 1227.3h0M1488.9 1228.4h0M1510.8 1228.9h0M1528.6 1229.5h0M1510 1232.6h0M1496 1232.7h0M1442.6 1236.4h0M1366 1236.9h0M1366.7 1234.9h0M1344.8 1237.1h0M1342.1 1235.1h0M1350.3 1241h0M1375.2 1239.6h0M1404.1 1238.6h0M1433.8 1243.7h0M1438.2 1241.5h0M1460.8 1243.9h0M1496.5 1242.6h0M1523 1248.4h0M1510.6 1248.2h0M1509.8 1248.2h0M1485.8 1248.7h0M1473.6 1249.6h0M1467.5 1250h0M1405.1 1246.8h0M1401.2 1243.9h0M1401 1246.1h0M1375.8 1247.8h0M1366.4 1246.5h0M1339.2 1245.7h0M1332.9 1246.5h0M1366.8 1251.9h0M1405.9 1252.1h0M1405.4 1254.1h0M1436.9 1251.5h0M1463.8 1252.9h0M1472.2 1252.7h0M1472.7 1252.3h0M1474.4 1253.6h0M1509.1 1251.4h0M1509.5 1250.3h0M1512.9 1256.7h0M1424.9 1198.8h0M1395.9 1200.9h0M1418.3 1208h0M1498.8 1243.9h0M1458.3 1248.4h0M1365.6 1252.7h0M1460.7 1252.9h0M1457.2 1256.6h0M1283.4 1260.9h0M1280.8 1261.2h0M1271.4 1267.8h0M1283.8 1263.8h0M1284.1 1266.7h0M1478.2 1267h0M1483.6 1265h0M1495.8 1270.9h0M1491.9 1274h0M1307.5 1279.5h0M1310.8 1276.8h0M1497.3 1281.2h0M1509.4 1282.8h0M1494.9 1284.4h0M1492.3 1280.2h0M1473.4 1280.2h0M1318.9 1283.8h0M1299.5 1284h0M1291.8 1289.4h0M1296.9 1288h0M1394.6 1288.1h0M1538 1292h0M1438.4 1295.6h0M1313.4 1294.6h0M1296.2 1292.7h0M1282.6 1294.1h0M1273.6 1302.6h0M1280.2 1301.1h0M1345.3 1302.8h0M1440.5 1300h0M1442.9 1304.1h0M1445.3 1300.3h0M1445.8 1299.5h0M1410.9 1309.7h0M1402.1 1306.4h0M1371.6 1308.6h0M1298.5 1302.4h0M1299.8 1300.2h0M1337.6 1312h0M1340.9 1310.2h0M1353.3 1313.6h0M1364.4 1311.5h0M1382.1 1315.5h0M1422.4 1313h0M1454.1 1315.2h0M1455.1 1315h0M1471.7 1314.9h0M1484.1 1314.9h0M1471 1318.1h0M1453.1 1319.3h0M1445 1317.6h0M1444.4 1317.6h0M1420.5 1317.2h0M1378.6 1324.9h0M1365.2 1319.1h0M1357.2 1316.1h0M1370.5 1325.9h0M1392.7 1326.3h0M1416.3 1325.6h0M1424.5 1326.7h0M1437.1 1327h0M1438.6 1329.1h0M1479.1 1327.9h0M1496.5 1326.9h0M1554.8 1328.2h0M1553.7 1333.3h0M1545.6 1333.4h0M1507.9 1329.7h0M1478.4 1333.2h0M1469.4 1329.6h0M1462.7 1331.6h0M1460.5 1329.5h0M1411.8 1329.3h0M1386.5 1329.4h0M1486.2 1339.8h0M1495.8 1334.5h0M1497 1332.3h0M1510.3 1336.5h0M1538.8 1335.4h0M1538.9 1342.7h0M1514.3 1341.1h0M1400.1 1340.5h0M1491.8 1351.4h0" fill="none" stroke="#f8b288" stroke-width="1.7" stroke-linecap="round" stroke-linejoin="round"/>
<path d="M1433.8 1198.3h0M1428.5 1198.7h0M1426.8 1207.8h0M1430 1202.9h0M1433.7 1206.7h0M1435 1205h0M1404.7 1210.7h0M1401.8 1208.1h0M1457.9 1223h0M1502.4 1235.2h0M1336.5 1243.8h0M1467.8 1243.9h0M1469.3 1244.6h0M1442.2 1248.3h0M1332.8 1252.8h0M1343.5 1250.3h0M1346.8 1257.4h0M1356.7 1256.9h0M1381.7 1253.9h0M1410.7 1254.5h0M1442.8 1255.1h0M1510.2 1257.9h0M1498.7 1258.5h0M1446.7 1260.1h0M1368.5 1257.5h0M1339.5 1259.4h0M1339.6 1257.9h0M1325.4 1258.3h0M1312.1 1262.7h0M1300.2 1259.1h0M1286 1264.3h0M1306.4 1265h0M1339.1 1267.8h0M1345.7 1268.4h0M1553.8 1273.2h0M1344.9 1270.2h0M1336.6 1269.8h0M1327.5 1267h0M1273.1 1272.2h0M1298 1274.3h0M1342.2 1279.3h0M1492.6 1276.9h0M1549.8 1277.7h0M1441.9 1282.1h0M1356.5 1281.4h0M1343.2 1280.6h0M1319.5 1281.1h0M1273.9 1285h0M1262.3 1285.4h0M1262.7 1287.4h0M1277.1 1288.8h0M1290.4 1291h0M1299.6 1287.9h0M1328.5 1283.1h0M1407.8 1290.1h0M1514.7 1290.6h0M1558.7 1287.3h0M1514.4 1293.3h0M1512.1 1298.3h0M1488.3 1293.8h0M1473.6 1292.4h0M1404.9 1294h0M1383.1 1295h0M1367 1294h0M1364.4 1293.6h0M1278.5 1295.4h0M1272.4 1297.5h0M1266.1 1302.6h0M1276.1 1298.9h0M1278.2 1298.2h0M1285.4 1304.5h0M1316.8 1302.1h0M1339.2 1303.8h0M1392.2 1302.4h0M1395.5 1296.4h0M1419.2 1301.9h0M1471.4 1298.5h0M1527.7 1308.2h0M1507.1 1309.1h0M1445.3 1308h0M1399.9 1304.5h0M1353.6 1307.1h0M1330.8 1307.1h0M1270.3 1306.7h0M1301.1 1312.7h0M1308.8 1314.7h0M1309.8 1315.8h0M1310.4 1312.6h0M1322.1 1312.3h0M1325.6 1310.8h0M1344.6 1311.5h0M1360.6 1317.1h0M1380.3 1313.9h0M1381.9 1312.6h0M1477.4 1313.9h0M1529.9 1313.3h0M1546.3 1320.5h0M1521.3 1320.8h0M1507.8 1319.8h0M1425.5 1316.8h0M1398 1321.3h0M1328.6 1319.2h0M1327.5 1321.9h0M1292.3 1314.2h0M1446.8 1323.5h0M1482.9 1324.2h0M1488.6 1327.7h0M1558.1 1323.2h0M1481.8 1332.9h0M1441.9 1330.3h0M1427.8 1333.8h0M1407.6 1330.1h0M1401.2 1334h0M1354 1328.6h0M1297.6 1332h0M1358.1 1336.9h0M1379 1341.4h0M1382.8 1340.3h0M1458 1335.3h0M1547.3 1335.4h0M1558 1340.2h0M1520.9 1343.4h0M1473 1340.9h0M1465.5 1342.1h0M1430.7 1345.6h0M1397.4 1341.3h0M1314.1 1350.6h0M1331.8 1348h0M1347.2 1348.7h0M1352.5 1347.3h0M1429.1 1347.5h0M1432.9 1346.3h0M1538.7 1346.7h0M1448.4 1354.6h0M1355.4 1357.6h0M1528.3 1367.7h0M1476.7 1365.4h0M1476.3 1363.4h0M1424.9 1378.6h0M1456.1 1386.8h0M1440 1403.4h0M1392.9 1400.7h0M1438.2 1412.1h0M1401.6 1415.4h0M1395.8 1424.4h0M1394.9 1424.7h0M1383.7 1428.5h0M1372.6 1433.5h0M1417.7 1430.4h0M1433.7 1190.3h0M1501.6 1218.6h0M1518.5 1220.3h0M1474.4 1222h0M1457.8 1225.6h0M1456.8 1222.2h0M1444.2 1229.5h0M1489.9 1228.2h0M1512.5 1226.4h0M1523.2 1236.1h0M1448.2 1235.1h0M1393.8 1235.1h0M1374.4 1236.5h0M1349.8 1238.9h0M1373.2 1241.6h0M1415.7 1239h0M1422.7 1241.6h0M1436.4 1240.1h0M1524 1244.4h0M1502.9 1244.9h0M1430 1244.9h0M1409.6 1247.4h0M1388.9 1245.1h0M1355.8 1249.1h0M1350.2 1247h0M1367.9 1252.1h0M1427.1 1192.4h0M1400.3 1203.8h0M1400.6 1212h0M1293.2 1260.5h0M1281 1260h0M1267.5 1263.5h0M1301.4 1275h0M1474.2 1278h0M1479.3 1278.4h0M1499.6 1276.7h0M1501.7 1282.5h0M1306.3 1281.6h0M1303.5 1289.6h0M1442.1 1296.9h0M1418.5 1297.7h0M1330.5 1303.3h0M1436.1 1300.2h0M1438.7 1302.5h0M1443.9 1304.1h0M1472.3 1306.9h0M1414.5 1306h0M1311.8 1308.7h0M1311.3 1305.6h0M1274.5 1306.7h0M1313.6 1310.6h0M1446.4 1310.1h0M1489 1313.4h0M1479.2 1322h0M1447.2 1316.1h0M1435.1 1323h0M1417 1321.7h0M1359.5 1317.3h0M1507.1 1332.2h0M1410.5 1328.1h0M1497.5 1336.5h0M1496.4 1334.2h0M1537.5 1337.6h0M1551.4 1334.3h0M1489.1 1340.7h0" fill="none" stroke="#f4975e" stroke-width="1.7" stroke-linecap="round" stroke-linejoin="round"/>
<path d="M1421.6 1207.9h0M1436.7 1203.7h0M1411.3 1209.4h0M1448.2 1241.5h0M1347.6 1254.3h0M1360.6 1257.7h0M1346.3 1258.3h0M1326.4 1263.8h0M1320.6 1256.9h0M1342.6 1269.9h0M1305.8 1269.7h0M1360.2 1282.1h0M1319.3 1282.8h0M1275.9 1285.6h0M1273.2 1281.6h0M1378.2 1286.7h0M1568.1 1287.2h0M1369.7 1292.5h0M1350.6 1290.9h0M1347.4 1291.1h0M1346.9 1295h0M1346.9 1297.1h0M1321.2 1297.8h0M1319.6 1298.4h0M1320.4 1291.9h0M1303.8 1298.8h0M1282.8 1294h0M1259.4 1301.5h0M1295.3 1302.9h0M1324.5 1301.4h0M1413.9 1303.3h0M1426.5 1305.8h0M1393.4 1305.4h0M1384.8 1310.9h0M1384.9 1308.8h0M1352.6 1310.3h0M1537 1313.7h0M1554.1 1309.8h0M1561.3 1314.4h0M1473 1318.5h0M1461.3 1322.3h0M1367.2 1317.9h0M1287 1318.4h0M1349.3 1327.9h0M1356.2 1324.1h0M1500.3 1328.7h0M1490.8 1328.4h0M1301.6 1333.8h0M1316.3 1333.3h0M1392 1334.4h0M1454.6 1341.1h0M1377.8 1345.7h0M1529.4 1347.3h0M1496.1 1376.3h0M1411.8 1387.7h0M1396.3 1403.2h0M1451.7 1413.7h0M1422.1 1423.6h0M1369.2 1440.2h0M1494.7 1221.1h0M1445 1231.5h0M1481.8 1227.2h0M1490.9 1229h0M1437 1236.5h0M1498.2 1240.9h0M1517.9 1235h0M1420.2 1249.1h0M1408 1248.7h0M1371.9 1247.4h0M1398.3 1250.3h0M1397.7 1252h0M1424.2 1250.5h0M1398.4 1202h0M1397.8 1199.5h0M1270.3 1262.4h0M1307.9 1272h0M1481.7 1277.7h0M1308.9 1281.7h0M1300.9 1286h0M1275.8 1281.3h0M1434.3 1297.2h0M1306.2 1293.5h0M1453.6 1305.2h0M1482.6 1311.6h0M1483.2 1317.4h0M1476.9 1318.3h0M1468.8 1316.7h0M1358.2 1323.6h0M1509 1329.4h0M1466.2 1329.6h0M1536 1341.4h0M1524.7 1344.1h0" fill="none" stroke="#e8703a" stroke-width="1.7" stroke-linecap="round" stroke-linejoin="round"/>
<path d="M1387.9 1202.2h0M1392.3 1246.9h0M1469.4 1258h0M1500.8 1261.7h0M1553.3 1275.3h0M1526.3 1286.1h0M1331 1284.1h0M1557.2 1296.3h0M1492.8 1295.1h0M1491.3 1296.6h0M1281 1295.1h0M1481.6 1306h0M1406.5 1306.6h0M1394.5 1308.5h0M1301 1306h0M1373.7 1315h0M1400.7 1315h0M1372.6 1320.4h0M1576.7 1326.7h0M1476.5 1335.1h0M1532.5 1344.6h0M1529 1341.4h0M1488.6 1339.7h0M1440.4 1341.7h0M1386.4 1347.9h0M1506.7 1221.2h0M1426.8 1241.2h0M1377.8 1247.1h0M1428.3 1195.2h0M1279.4 1265.5h0M1313.6 1264.4h0M1495.8 1275.2h0M1510.7 1285.1h0M1315.7 1295.8h0M1311.8 1298.9h0M1484.5 1319.5h0M1495.9 1353.2h0" fill="none" stroke="#cc3a1c" stroke-width="2.0" stroke-linecap="round" stroke-linejoin="round"/>
<use href="#fM" transform="translate(6 285) scale(0.25)" fill="none" stroke-linecap="round" stroke="#eeeeee" stroke-width="7.2"/>
<path d="M1778.2 1187.5h0M1780.2 1184.3h0M1793 1185.1h0M1804 1192.2h0M1802.1 1191.6h0M1799.4 1194.5h0M1797.2 1195.2h0M1783.6 1191.1h0M1782.4 1195.4h0M1779.3 1199.9h0M1777.2 1200.3h0M1791.2 1201.2h0M1797.6 1201.1h0M1814.3 1201.1h0M1801.7 1205.8h0M1785.6 1208.8h0M1781.9 1209.8h0M1779.9 1210.2h0M1780.5 1209.7h0M1781.3 1213.2h0M1790.8 1211.9h0M1817.6 1211.9h0M1782.4 1215.5h0M1705.3 1225.4h0M1709.9 1227.7h0M1759 1225.9h0M1853.2 1227.9h0M1818 1228.5h0M1817.3 1232.4h0M1713.9 1227.2h0M1710.6 1229.7h0M1710.2 1231.3h0M1709.4 1231.4h0M1708.3 1228.8h0M1708 1230.8h0M1769.4 1236.9h0M1775.6 1229.7h0M1793.7 1238.2h0M1797.5 1232.5h0M1813.6 1246.9h0M1807.9 1242.7h0M1811.4 1242h0M1795.1 1241.3h0M1777.2 1241.4h0M1771.4 1244.7h0M1755.3 1240.3h0M1760 1248.3h0M1766.9 1246.3h0M1786.6 1244.1h0M1786.1 1248.2h0M1791.7 1248.5h0M1795 1247h0M1796.9 1247.9h0M1783 1253.6h0M1771.4 1251.5h0M1771.2 1255.4h0M1757.3 1259.4h0M1791.2 1259.9h0M1792.9 1258.6h0M1808.8 1267.2h0M1803 1261.5h0M1770 1263.8h0M1769.9 1264.1h0M1755.9 1265.5h0M1754.9 1265.1h0M1749.1 1266.5h0M1802.4 1269.9h0M1951.9 1270.2h0M1688.5 1279.3h0M1685.5 1277.2h0M1684.6 1280.5h0M1680.2 1286.8h0M1842.8 1284.1h0M1791.8 1287.2h0M1717.8 1290.3h0M1716.1 1289.8h0M1712.8 1287.4h0M1687.1 1288.4h0M1684.8 1289.6h0M1683.6 1287.4h0M1677.6 1287.1h0M1686.9 1294.2h0M1692.3 1296.8h0M1702.7 1295.3h0M1703.5 1297.2h0M1702 1294.3h0M1722.1 1299h0M1727 1296.2h0M1726.2 1300.2h0M1727.9 1302.1h0M1730 1301.8h0M1722.6 1304.2h0M1699.2 1301.2h0M1695 1304.5h0M1693.8 1302.1h0M1693.8 1299.8h0M1672.2 1303.2h0M1670.5 1300.6h0M1672 1302.1h0M1672.2 1310.1h0M1685.2 1308.2h0M1695.4 1305.2h0M1697.2 1307.3h0M1700 1310.3h0M1719.9 1306.1h0M1727.1 1312.4h0M1855 1308.2h0M1942.2 1315.9h0M1905.5 1314.7h0M1724.7 1316h0M1724.6 1313.9h0M1720.7 1314.5h0M1709.3 1312h0M1702.5 1311.8h0M1692.5 1314h0M1690.2 1312.1h0M1686.8 1315.2h0M1674.2 1314.2h0M1899.3 1318.6h0M1676.7 1333.9h0M1819.6 1332h0M1845.8 1332.7h0M1890.4 1329.1h0M1927.4 1337.6h0M1845.9 1338h0M1844.4 1340.3h0M1795.4 1343.8h0M1835.8 1342h0M1914.5 1340.8h0M1945.1 1353.8h0M1894 1351.3h0M1857.6 1367.4h0M1806.9 1362.5h0M1743.1 1384.5h0M1904.7 1406.4h0" fill="none" stroke="#f8b288" stroke-width="1.7" stroke-linecap="round" stroke-linejoin="round"/>
<path d="M1806.2 1185.8h0M1808.2 1189.4h0M1812.9 1188.8h0M1795.6 1194.1h0M1792.4 1194.3h0M1788.7 1194.6h0M1786 1196h0M1784 1193.9h0M1782.2 1189.5h0M1786.4 1207.5h0M1791.9 1208.3h0M1792.8 1209.9h0M1796.4 1206.4h0M1818.7 1219h0M1802.8 1223.5h0M1714.8 1227h0M1817.1 1225.3h0M1781.8 1232.8h0M1708.4 1233.3h0M1780.1 1237h0M1801.6 1237.3h0M1812.1 1236.7h0M1819.7 1231.6h0M1783.7 1242.9h0M1755.7 1242.9h0M1785.1 1245.5h0M1784.5 1249.9h0M1784.8 1252h0M1819.6 1249.3h0M1783.2 1254.7h0M1766.4 1256h0M1799.2 1261.7h0M1861.7 1266.4h0M1789.5 1267.1h0M1781.2 1266.1h0M1777.4 1263.2h0M1757.9 1264.9h0M1755.8 1263.5h0M1744.5 1265.3h0M1799.5 1269.9h0M1693.9 1280.7h0M1687.3 1278.4h0M1679.9 1284.7h0M1681.7 1288.3h0M1696 1286.2h0M1672 1296.5h0M1678.6 1294.4h0M1694.3 1296.1h0M1690.6 1295.5h0M1699.5 1298.9h0M1704.7 1298.9h0M1718.6 1293.3h0M1693.8 1301.9h0M1691.8 1302.8h0M1689.8 1300.6h0M1680.8 1304.4h0M1679.8 1297.5h0M1681.3 1295.9h0M1720.4 1306.4h0M1725.5 1313.9h0M1690.3 1314.2h0M1924.4 1326.3h0M1935.2 1331.8h0M1793 1346.5h0M1911.4 1343.6h0M1950.1 1349.5h0M1835.5 1394.4h0" fill="none" stroke="#f4975e" stroke-width="1.7" stroke-linecap="round" stroke-linejoin="round"/>
<path d="M1805.6 1189.7h0M1805.8 1203.6h0M1788.5 1201.5h0M1795.2 1224.9h0M1804.8 1223.6h0M1796.5 1228.2h0M1712.1 1226.3h0M1756.9 1235.8h0M1809.4 1234.8h0M1807.5 1233.9h0M1758.4 1250.3h0M1759.1 1246.1h0M1827.6 1246.7h0M1790.8 1262h0M1749.2 1266.8h0M1893.2 1281.8h0M1695.2 1288.6h0M1686.8 1296.2h0M1726.3 1294.9h0M1675.8 1305.1h0M1707.3 1310h0M1678.1 1315.1h0M1675.1 1314.8h0M1685 1318.3h0M1823.5 1330h0M1889.8 1335.9h0M1755.1 1387.4h0M1779.1 1393.8h0" fill="none" stroke="#e8703a" stroke-width="1.7" stroke-linecap="round" stroke-linejoin="round"/>
<path d="M1816.8 1217.9h0M1744.4 1250.3h0M1689.1 1280.9h0M1696.9 1302.4h0M1691.2 1306h0M1692.1 1305.4h0M1722.8 1314.6h0M1693.7 1312.3h0M1955.7 1361.4h0M1910.8 1368.2h0" fill="none" stroke="#cc3a1c" stroke-width="2.0" stroke-linecap="round" stroke-linejoin="round"/>
<path d="M1370.8 1510.7h0M1403.2 1515.4h0M1336.4 1537.3h0M1509 1572.9h0M1478 1521.3h0M1431.7 1526.2h0M1358 1511h0M1491 1573.4h0M1485.2 1518.8h0M1385.8 1557.4h0M1471.3 1577.7h0M1445.8 1561.4h0M1425.5 1517.4h0M1418.9 1509.5h0M1512.4 1578.7h0M1434 1528.3h0M1507.2 1552.6h0M1501.8 1577.1h0M1426 1538.4h0M1444.3 1540h0M1355.7 1528.7h0M1487.7 1505.4h0M1379.8 1549.2h0M1418.5 1532.1h0M1406.6 1519.6h0M1451.2 1526.2h0M1388 1551.3h0M1335.4 1521.9h0M1478 1556.4h0M1371.1 1531.1h0M1358.9 1542.5h0M1504.5 1586.6h0M1471.9 1587.1h0M1326.6 1527.3h0M1518.7 1570.6h0M1448.7 1574.5h0M1382.4 1518.6h0M1413 1513.7h0M1332 1516.7h0M1481.8 1533.9h0M1381.8 1510.2h0M1334.2 1516.6h0M1460.1 1514.9h0M1331.3 1545.3h0M1347.7 1548.7h0M1479.8 1538h0M1372 1538.1h0M1330.4 1539.1h0M1491.4 1546h0M1329.4 1524.2h0M1372.1 1520.1h0M1511.1 1551.9h0M1505.6 1559.8h0M1483.2 1567.9h0M1423.1 1509.8h0M1505.3 1584h0M1391.2 1560.1h0M1485 1558.8h0M1488.1 1548.6h0M1455.7 1562.7h0M1458.4 1505.5h0M1519.3 1561h0M1335.2 1516.5h0M1451.7 1552.3h0M1474.3 1584.2h0M1487.1 1571.3h0M1500.9 1550.6h0M1501.1 1519.5h0M1459.1 1531h0M1503.7 1570.5h0M1418.5 1548.5h0M1443.4 1545.1h0M1498.2 1555.7h0M1351.1 1533.9h0M1478.5 1548.2h0M1490.7 1509.1h0M1433.1 1535.5h0M1482.5 1529.3h0M1370.3 1544.9h0M1502.4 1547.2h0M1480.4 1507.5h0M1501.6 1519h0M1408.6 1572.7h0M1358.7 1514.9h0M1423.1 1531.7h0M1423.5 1472.3h0M1416.4 1466.2h0M1331.7 1522.5h0M1326.1 1520h0M1343.7 1510.2h0M1335.7 1519.9h0M1329.2 1513.5h0M1333.7 1527.1h0M1338.8 1514.2h0M1333.8 1525.7h0M1337 1521.1h0M1333.2 1525.2h0M1337.1 1528.1h0M1346.4 1524.7h0M1349.2 1524.8h0M1356 1522.1h0M1358.5 1522.6h0M1352.2 1528.6h0M1364.9 1528.5h0M1347.5 1538.5h0M1350.5 1535.6h0M1359.5 1537.4h0M1353.4 1532.9h0M1339.6 1535.9h0M1331.7 1534.2h0M1330.5 1533h0M1341.8 1526.7h0M1335.8 1547.5h0M1326.7 1537.7h0M1335.1 1543.6h0M1349.2 1547h0M1361 1540.2h0M1358.8 1547.7h0M1356.9 1550h0M1374 1545.5h0M1359.2 1548.1h0M1358.6 1547.4h0M1356.2 1550.7h0M1361.6 1553.9h0M1356.6 1544.1h0M1357.3 1546.1h0M1363.3 1537.1h0M1383 1541h0M1381.9 1535.9h0M1362 1551.9h0M1368.7 1555.6h0M1378.5 1549.2h0M1375 1551.7h0M1369.1 1558.6h0M1381.7 1561.7h0M1374.4 1551.1h0M1386.2 1547.4h0M1379.5 1547.9h0M1388.7 1549.9h0M1386.7 1551.2h0M1403.3 1559.3h0M1386.2 1562.8h0M1390.6 1509.1h0M1403 1519.4h0M1390.1 1521.6h0M1398.3 1519.9h0M1396.5 1524.9h0M1405.8 1542.3h0M1405.3 1547.1h0M1410.6 1547.1h0M1402 1553.1h0M1410.7 1558.2h0M1403.9 1563.7h0M1423.2 1552.9h0M1425.8 1552.6h0M1418 1531h0M1421.7 1523.1h0M1418.1 1551.2h0M1409.5 1547h0M1426.4 1550.9h0M1430.5 1543.8h0M1436.2 1515.1h0M1418.8 1524.9h0M1430.3 1537.3h0M1432.4 1545.3h0M1431.6 1546.4h0M1421.6 1541.4h0M1429 1550.8h0M1427.5 1549.2h0M1436.9 1510.8h0M1428.5 1523.3h0M1432.2 1522.3h0M1440.8 1517.6h0M1451 1531.4h0M1438.7 1531.4h0M1440.1 1534.6h0M1449.6 1537.3h0M1452.9 1547.1h0M1439.8 1544.1h0M1446.1 1546.5h0M1449.8 1549.7h0M1455.6 1540.7h0M1452.7 1547.4h0M1464.9 1533.4h0M1455.4 1534.4h0M1459.5 1550h0M1454.9 1554.1h0M1449.1 1563.1h0M1446.5 1564.5h0M1444.7 1530.3h0M1451.3 1516.5h0M1456.2 1527.6h0M1456.7 1523.2h0M1453.6 1526.3h0M1465.4 1512.7h0M1465 1554.1h0M1469.2 1542.2h0M1464.4 1555.6h0M1477.7 1555.5h0M1473.1 1559.6h0M1469.6 1556.9h0M1465.9 1519.4h0M1469.6 1529.9h0M1473.4 1533.9h0M1477.5 1529.7h0M1474.3 1545.2h0M1482.5 1541.5h0M1493.6 1536.3h0M1482.2 1531.7h0M1486 1548.8h0M1478.1 1532.4h0M1474.4 1557.8h0M1473.9 1561.5h0M1491.5 1565.1h0M1488.9 1572.9h0M1499.6 1534h0M1487.7 1532h0M1493.3 1517.5h0M1512.1 1565.7h0M1517.1 1561.1h0M1512.2 1581.5h0M1515.1 1579.8h0M1506.2 1588h0M1509.2 1575.6h0M1426.8 1568.2h0M1428.9 1571.9h0M1423.4 1573.5h0M1436.6 1561.7h0M1425.4 1558.5h0M1449.8 1565.8h0M1450.8 1567.6h0M1413.4 1461.9h0M1411.7 1468.1h0M1411.7 1471.5h0M1408.1 1467.5h0M1414.1 1468.8h0M1412.3 1476.2h0M1430 1469.9h0M1418.8 1480h0M1432.5 1464.3h0M1435.6 1470.3h0M1434.1 1450.1h0M1434 1459.5h0M1345.7 1526.6h0M1346.3 1522h0M1349.8 1534.4h0M1350.4 1534.7h0M1377.9 1536.2h0M1378.8 1529.2h0M1399.3 1537.5h0M1399.7 1541.5h0M1441 1544.4h0M1442.5 1546.4h0M1443.6 1536.3h0M1435.3 1528.1h0M1459.7 1538.9h0M1451.6 1542.5h0M1490.5 1551.3h0M1491.2 1553.4h0M1497.2 1568.7h0M1499.2 1565.5h0" fill="none" stroke="#ebebeb" stroke-width="3.0" stroke-linecap="round" stroke-linejoin="round"/>
<path d="M1336.8 1510.7h0M1339.9 1511.7h0M1336.3 1524.9h0M1334.6 1527h0M1360.1 1523.8h0M1361.8 1523.2h0M1350.6 1539.7h0M1336.8 1536.6h0M1341 1537.2h0M1330.4 1543.6h0M1356.9 1550.4h0M1370.7 1536.6h0M1365.4 1554h0M1371.8 1553.5h0M1377.1 1555.7h0M1382.4 1548.2h0M1388.8 1554.6h0M1397.2 1523.8h0M1399.4 1524.9h0M1402.5 1546.1h0M1407.9 1561h0M1416.3 1529.1h0M1417.4 1546.1h0M1425.9 1519.6h0M1427 1541.9h0M1428 1548.2h0M1446.1 1544h0M1453.5 1549.3h0M1455.6 1534.4h0M1455.6 1554.6h0M1449.2 1564.2h0M1451.4 1523.8h0M1457.7 1523.8h0M1467.3 1548.2h0M1467.3 1554.6h0M1476.8 1536.6h0M1481.1 1530.2h0M1483.2 1539.7h0M1476.8 1557.8h0M1489.6 1527h0M1508.7 1559.9h0M1510.8 1579h0M1512.9 1577.9h0M1423.8 1568.4h0M1421.6 1573.7h0M1430.1 1565.2h0M1476.8 1590.7h0M1417.4 1471.4h0M1427 1470.8h0M1432.3 1463.3h0M1435.4 1459.5h0M1348.4 1520.6h0M1353.7 1531.3h0M1377.1 1535.5h0M1401.5 1536.6h0M1436.5 1547.2h0M1440.7 1531.3h0M1489.6 1550.4h0M1501.2 1567.3h0" fill="none" stroke="#fab07a" stroke-width="3.4" stroke-linecap="round" stroke-linejoin="round"/>
<path d="M1331.5 1514.7h0M1337.2 1519.6h0M1345.2 1527h0M1349.5 1535.5h0M1342.1 1548.7h0M1354.8 1544h0M1363.3 1545.7h0M1359 1549.3h0M1365.4 1538.7h0M1372.8 1549.3h0M1387.7 1549.3h0M1393 1515.3h0M1407.9 1549.3h0M1422.7 1544h0M1449.2 1548.2h0M1465.2 1520.6h0M1472.6 1524.9h0M1488.5 1565.2h0M1499.1 1524.9h0M1447.1 1564.2h0M1459.8 1539.7h0" fill="none" stroke="#f5975a" stroke-width="3.4" stroke-linecap="round" stroke-linejoin="round"/>
<path d="M1360.1 1545.1h0M1413.2 1551.4h0M1430.1 1551.4h0M1432.3 1515.3h0M1435.4 1524.9h0M1469.4 1561h0M1473.6 1529.1h0M1411 1468.7h0" fill="none" stroke="#ea6e38" stroke-width="3.4" stroke-linecap="round" stroke-linejoin="round"/>
<path d="M1324.4 1516.8h0M1442.9 1536.6h0M1445 1537.6h0M1408.9 1467.6h0" fill="none" stroke="#cc3b1c" stroke-width="3.4" stroke-linecap="round" stroke-linejoin="round"/>
<path d="M1750.8 1529.5h0M1756.8 1527.4h0M1754.7 1524.4h0M1766.6 1530.3h0M1761.7 1530.3h0M1768.3 1532.6h0M1758.6 1529.6h0M1748.7 1523.6h0M1747.1 1528.7h0M1768.8 1533.9h0M1749.4 1528.1h0M1765.8 1533.4h0M1765.5 1534.7h0M1767.6 1534.3h0M1756.1 1528.1h0M1760.4 1530.7h0M1755.9 1529.7h0M1753.7 1524.6h0M1750.5 1527.1h0M1756.9 1528.1h0M1749.9 1527.3h0M1763 1529.4h0M1756.6 1526h0M1759.2 1525h0M1755 1531h0M1756.8 1530.1h0M1757.6 1525.3h0M1818.1 1533h0M1803.2 1548h0M1813.3 1530.4h0M1808.2 1545.1h0M1823.7 1526.7h0M1832.7 1536.5h0M1821.3 1540h0M1804.1 1543.6h0M1822.3 1540.5h0M1810.3 1551h0M1807.8 1545h0M1827.8 1533.1h0M1807.9 1544.7h0M1827.6 1540.6h0M1816.5 1543.4h0M1809.8 1549.3h0M1807.1 1548.3h0M1822.5 1537.5h0M1821.5 1532h0M1800.4 1544.6h0M1813.6 1543h0M1804 1538.6h0M1818.3 1531.3h0M1816.2 1529.3h0M1817.3 1529h0M1827.2 1532.7h0M1822.8 1528.4h0M1814.1 1531.8h0M1808.2 1544.8h0M1816.9 1530.4h0M1824 1525.7h0M1815.9 1528.9h0M1823.9 1530.3h0M1804.1 1540.5h0M1814.2 1544.4h0M1829.2 1533.7h0M1816.8 1527.3h0M1826.9 1533.7h0M1819.8 1536.3h0M1827 1539.1h0M1826.6 1534.5h0M1813.7 1531.1h0M1817 1531.7h0M1813.6 1549.4h0M1824.6 1528.5h0M1805.9 1539.6h0M1817.5 1541.6h0M1812.1 1532h0M1796.9 1547.4h0M1903 1497.7h0M1897.6 1495.9h0M1898.7 1499.8h0M1904.5 1496.5h0M1896.8 1490.6h0M1902.2 1496.3h0M1901.4 1502.9h0M1909.6 1500.3h0M1899.8 1489.6h0M1908.9 1500.1h0M1905.4 1495.9h0M1902.4 1496.8h0M1907.6 1497.9h0M1897.5 1496.2h0M1897.9 1494.1h0M1898 1493.1h0M1908.2 1494.4h0M1897.7 1495.5h0M1900.1 1495h0M1905.1 1492h0M1911.5 1500.5h0M1902.4 1493.5h0M1902.3 1497.3h0M1902.7 1489.9h0M1911.3 1499.6h0M1766.5 1483.6h0M1944.5 1474.3h0M1943.5 1495h0M1810.9 1513.2h0M1776.2 1519.4h0M1783.4 1528h0M1756 1539.8h0M1738 1529.7h0" fill="none" stroke="#ececec" stroke-width="2.6" stroke-linecap="round" stroke-linejoin="round"/>
<text x="7.77" y="30.7" font-size="41" font-weight="bold">a</text>
<text x="428.33" y="30.3" font-size="41" font-weight="bold">b</text>
<text x="837.76" y="30.6" font-size="41" font-weight="bold">c</text>
<text x="6.66" y="861" font-size="41" font-weight="bold">d</text>
<text x="1159.76" y="860.3" font-size="41" font-weight="bold">e</text>
<text x="1603.18" y="861" font-size="41" font-weight="bold">f</text>
<text x="1160.06" y="1168.6" font-size="41" font-weight="bold">g</text>
<text x="1596.63" y="1175.6" font-size="41" font-weight="bold">h</text>
<text x="1161.03" y="1463.3" font-size="41" font-weight="bold">i</text>
<text x="1605.02" y="1448.2" font-size="41" font-weight="bold">j</text>
<text x="7.73" y="1432.9" font-size="41" font-weight="bold">k</text>
<line x1="101.6" y1="50.6" x2="101.6" y2="685" stroke="#000" stroke-width="2.7"/>
<line x1="100.25" y1="683.5" x2="336.4" y2="683.5" stroke="#000" stroke-width="3"/>
<line x1="98.4" y1="651.4" x2="101.6" y2="651.4" stroke="#000" stroke-width="2.4"/>
<text x="71.11" y="661.65" font-size="29.3">0</text>
<line x1="98.4" y1="539.58" x2="101.6" y2="539.58" stroke="#000" stroke-width="2.4"/>
<text x="54.85" y="549.83" font-size="29.3">10</text>
<line x1="98.4" y1="427.76" x2="101.6" y2="427.76" stroke="#000" stroke-width="2.4"/>
<text x="54.85" y="438.01" font-size="29.3">20</text>
<line x1="98.4" y1="315.94" x2="101.6" y2="315.94" stroke="#000" stroke-width="2.4"/>
<text x="54.85" y="326.19" font-size="29.3">30</text>
<line x1="98.4" y1="204.12" x2="101.6" y2="204.12" stroke="#000" stroke-width="2.4"/>
<text x="54.85" y="214.37" font-size="29.3">40</text>
<line x1="98.4" y1="92.3" x2="101.6" y2="92.3" stroke="#000" stroke-width="2.4"/>
<text x="54.85" y="102.55" font-size="29.3">50</text>
<text transform="translate(26.1 626.14) rotate(-90)" font-size="35.5">Number of predicted neoantigens</text>
<line x1="219.25" y1="159.7" x2="219.25" y2="405.7" stroke="#36a67b" stroke-width="2.75"/>
<line x1="219.25" y1="584.6" x2="219.25" y2="651.7" stroke="#36a67b" stroke-width="2.75"/>
<rect x="145.8" y="405.7" width="146.5" height="178.9" fill="none" stroke="#36a67b" stroke-width="2.4"/>
<line x1="144.6" y1="529" x2="293.5" y2="529" stroke="#36a67b" stroke-width="5.6"/>
<g fill="#36a67b"><circle cx="236.3" cy="78.7" r="4.4"/><circle cx="213.3" cy="102.5" r="4.4"/><circle cx="189.7" cy="122.2" r="4.4"/><circle cx="196.3" cy="159.7" r="4.4"/><circle cx="230" cy="196.7" r="4.4"/><circle cx="218.7" cy="200.5" r="4.4"/><circle cx="195" cy="214.5" r="4.4"/><circle cx="215.3" cy="224.5" r="4.4"/><circle cx="200.5" cy="252.5" r="4.4"/><circle cx="201.3" cy="267.5" r="4.4"/><circle cx="251.7" cy="290.8" r="4.4"/><circle cx="219.7" cy="315.3" r="4.4"/><circle cx="227.8" cy="314.7" r="4.4"/><circle cx="235" cy="325.3" r="4.4"/><circle cx="245.5" cy="342.2" r="4.4"/><circle cx="247.5" cy="361.3" r="4.4"/><circle cx="195" cy="368.8" r="4.4"/><circle cx="227.5" cy="374.5" r="4.4"/><circle cx="195" cy="369.2" r="4.4"/><circle cx="182.5" cy="383.75" r="4.4"/><circle cx="182.75" cy="394.2" r="4.4"/><circle cx="196.25" cy="395.4" r="4.4"/><circle cx="222.9" cy="390.8" r="4.4"/><circle cx="224.3" cy="396.25" r="4.4"/><circle cx="243.6" cy="387.3" r="4.4"/><circle cx="248.2" cy="394.6" r="4.4"/><circle cx="230.7" cy="403.75" r="4.4"/><circle cx="209.6" cy="405.25" r="4.4"/><circle cx="232.1" cy="431.4" r="4.4"/><circle cx="184.2" cy="438.3" r="4.4"/><circle cx="191.4" cy="465" r="4.4"/><circle cx="244.6" cy="465.4" r="4.4"/><circle cx="253.9" cy="462.3" r="4.4"/><circle cx="251.7" cy="471.1" r="4.4"/><circle cx="254.6" cy="480" r="4.4"/><circle cx="255.25" cy="482.9" r="4.4"/><circle cx="186.9" cy="492.5" r="4.4"/><circle cx="226.1" cy="491" r="4.4"/><circle cx="247.1" cy="492.9" r="4.4"/><circle cx="248.6" cy="496.7" r="4.4"/><circle cx="202.7" cy="502.1" r="4.4"/><circle cx="200.4" cy="505.4" r="4.4"/><circle cx="232.1" cy="505.8" r="4.4"/><circle cx="242.9" cy="514.6" r="4.4"/><circle cx="248.75" cy="513.3" r="4.4"/><circle cx="191.7" cy="517.9" r="4.4"/><circle cx="195" cy="520.8" r="4.4"/><circle cx="186.25" cy="527.1" r="4.4"/><circle cx="191.25" cy="528.75" r="4.4"/><circle cx="239.6" cy="525.4" r="4.4"/><circle cx="207.9" cy="529.6" r="4.4"/><circle cx="195.8" cy="532.5" r="4.4"/><circle cx="244.2" cy="532.1" r="4.4"/><circle cx="254.2" cy="532.9" r="4.4"/><circle cx="182.5" cy="537.9" r="4.4"/><circle cx="218.3" cy="536.25" r="4.4"/><circle cx="228.2" cy="538.75" r="4.4"/><circle cx="254.2" cy="540" r="4.4"/><circle cx="193.3" cy="541.25" r="4.4"/><circle cx="198.75" cy="541.25" r="4.4"/><circle cx="190.8" cy="543.3" r="4.4"/><circle cx="185.7" cy="549" r="4.4"/><circle cx="212.5" cy="543.3" r="4.4"/><circle cx="219.6" cy="548.2" r="4.4"/><circle cx="240.7" cy="548.5" r="4.4"/><circle cx="248.6" cy="554" r="4.4"/><circle cx="201.7" cy="559.2" r="4.4"/><circle cx="203.3" cy="560.4" r="4.4"/><circle cx="210.4" cy="562.9" r="4.4"/><circle cx="217.9" cy="558.75" r="4.4"/><circle cx="195.8" cy="574.2" r="4.4"/><circle cx="200.7" cy="575.7" r="4.4"/><circle cx="212.7" cy="575.8" r="4.4"/><circle cx="190" cy="580.7" r="4.4"/><circle cx="217.5" cy="582.5" r="4.4"/><circle cx="222.1" cy="585" r="4.4"/><circle cx="229.8" cy="585.4" r="4.4"/><circle cx="239.2" cy="586.25" r="4.4"/><circle cx="246.9" cy="584.8" r="4.4"/><circle cx="255.8" cy="586.25" r="4.4"/><circle cx="182.9" cy="592.3" r="4.4"/><circle cx="192.1" cy="595.2" r="4.4"/><circle cx="204" cy="594.8" r="4.4"/><circle cx="186.25" cy="604.2" r="4.4"/><circle cx="192.1" cy="605" r="4.4"/><circle cx="182.9" cy="611.5" r="4.4"/><circle cx="213.2" cy="616.9" r="4.4"/><circle cx="239.3" cy="615.8" r="4.4"/><circle cx="230.4" cy="620.7" r="4.4"/><circle cx="242.3" cy="625.25" r="4.4"/><circle cx="218.75" cy="632.75" r="4.4"/><circle cx="233.2" cy="638.9" r="4.4"/><circle cx="239.2" cy="641.7" r="4.4"/><circle cx="236.1" cy="643.3" r="4.4"/><circle cx="247.5" cy="642.9" r="4.4"/><circle cx="213.2" cy="642.9" r="4.4"/><circle cx="241.25" cy="650.4" r="4.4"/><circle cx="205.8" cy="650" r="4.4"/><circle cx="194.2" cy="652.1" r="4.4"/><circle cx="191.25" cy="655" r="4.4"/><circle cx="182.1" cy="654" r="4.4"/><circle cx="214.6" cy="655" r="4.4"/><circle cx="257.9" cy="653.3" r="4.4"/></g>
<rect x="530" y="35.92" width="33.6" height="340.91" fill="#fee9a6"/>
<rect x="530" y="376.83" width="33.6" height="307.17" fill="#fcb550"/>
<rect x="566.9" y="342.7" width="33.6" height="34.13" fill="#fee9a6"/>
<rect x="566.9" y="376.83" width="33.6" height="307.17" fill="#fcb550"/>
<rect x="603.8" y="479.61" width="33.6" height="68.26" fill="#fee9a6"/>
<rect x="603.8" y="547.87" width="33.6" height="136.13" fill="#fcb550"/>
<rect x="640.7" y="479.61" width="33.6" height="136.52" fill="#fee9a6"/>
<rect x="640.7" y="616.13" width="33.6" height="67.87" fill="#fcb550"/>
<rect x="677.6" y="513.74" width="33.6" height="68.26" fill="#fee9a6"/>
<rect x="677.6" y="582" width="33.6" height="102" fill="#fcb550"/>
<rect x="714.5" y="513.74" width="33.6" height="68.26" fill="#fee9a6"/>
<rect x="714.5" y="582" width="33.6" height="102" fill="#fcb550"/>
<line x1="526.6" y1="32.2" x2="526.6" y2="686.5" stroke="#000" stroke-width="2.7"/>
<line x1="521" y1="684.7" x2="749.6" y2="684.7" stroke="#000" stroke-width="3.4"/>
<line x1="521" y1="684" x2="526.6" y2="684" stroke="#000" stroke-width="2.6"/>
<text x="493.81" y="694.15" font-size="29">0</text>
<line x1="521" y1="605.54" x2="526.6" y2="605.54" stroke="#000" stroke-width="2.6"/>
<text x="494.11" y="615.69" font-size="29">2</text>
<line x1="521" y1="527.08" x2="526.6" y2="527.08" stroke="#000" stroke-width="2.6"/>
<text x="493.52" y="537.23" font-size="29">4</text>
<line x1="521" y1="448.62" x2="526.6" y2="448.62" stroke="#000" stroke-width="2.6"/>
<text x="493.96" y="458.77" font-size="29">6</text>
<line x1="521" y1="370.16" x2="526.6" y2="370.16" stroke="#000" stroke-width="2.6"/>
<text x="493.81" y="380.31" font-size="29">8</text>
<line x1="521" y1="291.7" x2="526.6" y2="291.7" stroke="#000" stroke-width="2.6"/>
<text x="477.72" y="301.85" font-size="29">10</text>
<line x1="521" y1="213.24" x2="526.6" y2="213.24" stroke="#000" stroke-width="2.6"/>
<text x="478.01" y="223.39" font-size="29">12</text>
<line x1="521" y1="134.78" x2="526.6" y2="134.78" stroke="#000" stroke-width="2.6"/>
<text x="477.43" y="144.93" font-size="29">14</text>
<line x1="521" y1="56.32" x2="526.6" y2="56.32" stroke="#000" stroke-width="2.6"/>
<text x="477.87" y="66.47" font-size="29">16</text>
<line x1="546.7" y1="687.5" x2="546.7" y2="689.5" stroke="#333" stroke-width="1.2"/>
<line x1="583.75" y1="687.5" x2="583.75" y2="689.5" stroke="#333" stroke-width="1.2"/>
<line x1="620.8" y1="687.5" x2="620.8" y2="689.5" stroke="#333" stroke-width="1.2"/>
<line x1="657.85" y1="687.5" x2="657.85" y2="689.5" stroke="#333" stroke-width="1.2"/>
<line x1="694.9" y1="687.5" x2="694.9" y2="689.5" stroke="#333" stroke-width="1.2"/>
<line x1="731.95" y1="687.5" x2="731.95" y2="689.5" stroke="#333" stroke-width="1.2"/>
<text transform="translate(449.4 674.54) rotate(-90)" font-size="35.5">% of patients with predicted neoantigens</text>
<text transform="translate(553.9 753.04) rotate(-90)" font-size="23" font-style="italic">TP53</text>
<text transform="translate(590.8 753.04) rotate(-90)" font-size="23" font-style="italic">ELF3</text>
<text transform="translate(629.2 788.34) rotate(-90)" font-size="23" font-style="italic">CTNNB1</text>
<text transform="translate(666.9 773.39) rotate(-90)" font-size="23" font-style="italic">ERBB2</text>
<text transform="translate(700.2 780.18) rotate(-90)" font-size="23" font-style="italic">ARID1A</text>
<text transform="translate(737.2 790.41) rotate(-90)" font-size="23" font-style="italic">CDKN2A</text>
<rect x="608.1" y="170.9" width="29.8" height="32.6" fill="#fee9a6"/>
<rect x="608.1" y="214.9" width="29.8" height="29.5" fill="#fcb550"/>
<text x="649.38" y="197" font-size="24">Binders</text>
<text x="650.22" y="240.6" font-size="24">Strong</text>
<text x="649.54" y="268.7" font-size="24">binders</text>
<rect x="960.15" y="206.25" width="62.8" height="33.05" fill="#4d4d4d" stroke="#000" stroke-width="3.5"/>
<rect x="1185.35" y="192.68" width="60.4" height="46.62" fill="#4d4d4d" stroke="#000" stroke-width="3.5"/>
<line x1="935.1" y1="64.6" x2="935.1" y2="245.3" stroke="#000" stroke-width="3.25"/>
<line x1="933.48" y1="239.3" x2="1271.6" y2="239.3" stroke="#000" stroke-width="3.25"/>
<line x1="1269.97" y1="239.3" x2="1269.97" y2="245.3" stroke="#000" stroke-width="3.25"/>
<line x1="928.8" y1="239.3" x2="935.1" y2="239.3" stroke="#000" stroke-width="3.25"/>
<text x="909.51" y="247.29" font-size="22.5">0</text>
<line x1="928.8" y1="204.5" x2="935.1" y2="204.5" stroke="#000" stroke-width="3.25"/>
<text x="909.74" y="212.49" font-size="22.5">1</text>
<line x1="928.8" y1="169.7" x2="935.1" y2="169.7" stroke="#000" stroke-width="3.25"/>
<text x="909.74" y="177.69" font-size="22.5">2</text>
<line x1="928.8" y1="134.9" x2="935.1" y2="134.9" stroke="#000" stroke-width="3.25"/>
<text x="909.62" y="142.89" font-size="22.5">3</text>
<line x1="928.8" y1="100.1" x2="935.1" y2="100.1" stroke="#000" stroke-width="3.25"/>
<text x="909.29" y="108.09" font-size="22.5">4</text>
<line x1="928.8" y1="65.3" x2="935.1" y2="65.3" stroke="#000" stroke-width="3.25"/>
<text x="909.51" y="73.29" font-size="22.5">5</text>
<text x="933.84" y="275.6" font-size="23.2">No peptide</text>
<text x="1179.14" y="275.6" font-size="23.2">Mutant</text>
<rect x="1429.15" y="206.25" width="62.8" height="33.05" fill="#4d4d4d" stroke="#000" stroke-width="3.5"/>
<rect x="1653.15" y="201.38" width="62.5" height="37.92" fill="#4d4d4d" stroke="#000" stroke-width="3.5"/>
<line x1="1404.1" y1="64.6" x2="1404.1" y2="245.3" stroke="#000" stroke-width="3.25"/>
<line x1="1402.47" y1="239.3" x2="1740.3" y2="239.3" stroke="#000" stroke-width="3.25"/>
<line x1="1738.67" y1="239.3" x2="1738.67" y2="245.3" stroke="#000" stroke-width="3.25"/>
<line x1="1397.8" y1="239.3" x2="1404.1" y2="239.3" stroke="#000" stroke-width="3.25"/>
<text x="1378.51" y="247.29" font-size="22.5">0</text>
<line x1="1397.8" y1="204.5" x2="1404.1" y2="204.5" stroke="#000" stroke-width="3.25"/>
<text x="1378.74" y="212.49" font-size="22.5">1</text>
<line x1="1397.8" y1="169.7" x2="1404.1" y2="169.7" stroke="#000" stroke-width="3.25"/>
<text x="1378.74" y="177.69" font-size="22.5">2</text>
<line x1="1397.8" y1="134.9" x2="1404.1" y2="134.9" stroke="#000" stroke-width="3.25"/>
<text x="1378.62" y="142.89" font-size="22.5">3</text>
<line x1="1397.8" y1="100.1" x2="1404.1" y2="100.1" stroke="#000" stroke-width="3.25"/>
<text x="1378.29" y="108.09" font-size="22.5">4</text>
<line x1="1397.8" y1="65.3" x2="1404.1" y2="65.3" stroke="#000" stroke-width="3.25"/>
<text x="1378.51" y="73.29" font-size="22.5">5</text>
<text x="1403.14" y="275.6" font-size="23.2">No peptide</text>
<text x="1648.74" y="275.6" font-size="23.2">Mutant</text>
<text transform="translate(858.7 239.66) rotate(-90)" font-size="23.5">FC (IFN-γ+ CD8</text>
<text transform="translate(886.9 198.36) rotate(-90)" font-size="23.5">+T cells)</text>
<text transform="translate(1327.7 239.66) rotate(-90)" font-size="23.5">FC (IFN-γ+ CD8</text>
<text transform="translate(1355.9 198.36) rotate(-90)" font-size="23.5">+T cells)</text>
<path d="M935.2 291 L935.2 314.4 L1271.6 314.4 L1271.6 292.4" fill="none" stroke="#000" stroke-width="2.2"/>
<path d="M1404.2 293.7 L1404.2 316.3 L1740 316.3 L1740 295.8" fill="none" stroke="#000" stroke-width="2.2"/>
<line x1="981.2" y1="314.4" x2="981.2" y2="354" stroke="#000" stroke-width="2.2"/>
<path d="M1576.8 316.3 L1576.8 363.6 L1040 363.6" fill="none" stroke="#000" stroke-width="2.2"/>
<path d="M980.95 351.5 L985.95 361.62 L997.12 363.25 L989.03 371.13 L990.94 382.25 L980.95 377 L970.96 382.25 L972.87 371.13 L964.78 363.25 L975.95 361.62 Z" fill="#b5271b" stroke="#000" stroke-width="3.2" stroke-linejoin="miter"/>
<path d="M1025.2 351.85 L1030.2 361.97 L1041.37 363.6 L1033.28 371.48 L1035.19 382.6 L1025.2 377.35 L1015.21 382.6 L1017.12 371.48 L1009.03 363.6 L1020.2 361.97 Z" fill="#b5271b" stroke="#000" stroke-width="3.2" stroke-linejoin="miter"/>
<path d="M1283.25 375 L1288.25 385.12 L1299.42 386.75 L1291.33 394.63 L1293.24 405.75 L1283.25 400.5 L1273.26 405.75 L1275.17 394.63 L1267.08 386.75 L1278.25 385.12 Z" fill="#fff" stroke="#000" stroke-width="3.2" stroke-linejoin="miter"/>
<rect x="935.5" y="539.3" width="639.2" height="21.6" fill="#7f7e7c"/>
<line x1="935.5" y1="540" x2="1574.7" y2="540" stroke="#000" stroke-width="1.4"/>
<line x1="935.5" y1="560.3" x2="1574.7" y2="560.3" stroke="#000" stroke-width="1.3"/>
<line x1="956.2" y1="522" x2="956.2" y2="540" stroke="#000" stroke-width="2.7"/>
<rect x="946.3" y="502.9" width="19.2" height="19.1" fill="#808080" stroke="#000" stroke-width="0.8"/>
<line x1="981.3" y1="515.3" x2="981.3" y2="540" stroke="#000" stroke-width="2.7"/>
<rect x="971.8" y="496.2" width="19" height="19.1" fill="#808080" stroke="#000" stroke-width="0.8"/>
<line x1="1021.4" y1="514.3" x2="1021.4" y2="523.6" stroke="#000" stroke-width="2.7"/>
<line x1="981.3" y1="523.6" x2="1022.75" y2="523.6" stroke="#000" stroke-width="2.7"/>
<rect x="1012" y="495.2" width="19.4" height="19.1" fill="#808080" stroke="#000" stroke-width="0.8"/>
<line x1="1279.6" y1="522" x2="1279.6" y2="540" stroke="#000" stroke-width="2.7"/>
<rect x="1270.3" y="502.9" width="18.9" height="19.1" fill="#808080" stroke="#000" stroke-width="0.8"/>
<line x1="1379.7" y1="504.5" x2="1379.7" y2="526" stroke="#000" stroke-width="2.7"/>
<rect x="1370.3" y="485.5" width="19.4" height="19" fill="#808080" stroke="#000" stroke-width="0.8"/>
<rect x="1200.2" y="525.4" width="71.6" height="53.4" fill="#f5648a" stroke="#000" stroke-width="3.6" rx="26"/>
<rect x="1288.6" y="525.6" width="202.8" height="52.8" fill="#8ecde9" stroke="#000" stroke-width="3.6" rx="22"/>
<text x="1212.86" y="562.9" font-size="29.5">TM</text>
<text x="1319.94" y="560" font-size="30.5">Tyr kinase</text>
<text x="1190.47" y="606.5" font-size="22.5">653</text>
<text x="1239.88" y="606.5" font-size="22.5">675</text>
<text x="1287.08" y="606.5" font-size="22.5">720</text>
<text x="1475.79" y="606.5" font-size="22.5">987</text>
<text transform="translate(965.5 496.44) rotate(-90)" font-size="23">D277Y</text>
<text transform="translate(991.5 483.04) rotate(-90)" font-size="23">S310Y</text>
<text transform="translate(1031 484.04) rotate(-90)" font-size="23">S310F</text>
<text transform="translate(1290.5 494.04) rotate(-90)" font-size="23">Q709L</text>
<text transform="translate(1389.9 476.12) rotate(-90)" font-size="23">V842I</text>
<rect x="96.2" y="1006.36" width="57.2" height="26.54" fill="#4d4d4d" stroke="#000" stroke-width="2.6"/>
<rect x="275.6" y="908.64" width="55.8" height="124.26" fill="#4d4d4d" stroke="#000" stroke-width="2.6"/>
<line x1="79.6" y1="892.6" x2="79.6" y2="1038.9" stroke="#000" stroke-width="3.2"/>
<line x1="78" y1="1032.9" x2="349.5" y2="1032.9" stroke="#000" stroke-width="3.2"/>
<line x1="347.9" y1="1032.9" x2="347.9" y2="1038.9" stroke="#000" stroke-width="3.2"/>
<line x1="74.1" y1="1032.9" x2="79.6" y2="1032.9" stroke="#000" stroke-width="3.2"/>
<text x="57.96" y="1038.58" font-size="16">0</text>
<line x1="74.1" y1="1005.06" x2="79.6" y2="1005.06" stroke="#000" stroke-width="3.2"/>
<text x="58.12" y="1010.74" font-size="16">1</text>
<line x1="74.1" y1="977.22" x2="79.6" y2="977.22" stroke="#000" stroke-width="3.2"/>
<text x="58.12" y="982.9" font-size="16">2</text>
<line x1="74.1" y1="949.38" x2="79.6" y2="949.38" stroke="#000" stroke-width="3.2"/>
<text x="58.04" y="955.06" font-size="16">3</text>
<line x1="74.1" y1="921.54" x2="79.6" y2="921.54" stroke="#000" stroke-width="3.2"/>
<text x="57.8" y="927.22" font-size="16">4</text>
<line x1="74.1" y1="893.7" x2="79.6" y2="893.7" stroke="#000" stroke-width="3.2"/>
<text x="57.96" y="899.38" font-size="16">5</text>
<text x="79.3" y="1061.6" font-size="18.8">No peptide</text>
<text x="275.3" y="1061.6" font-size="18.8">Mutant</text>
<text transform="translate(23.5 1023.51) rotate(-90)" font-size="16.6">FC (IFN-γ+ CD8</text>
<text transform="translate(43.3 996.49) rotate(-90)" font-size="16.6">+ T cells)</text>
<rect x="445" y="1005.44" width="56.2" height="26.26" fill="#4d4d4d" stroke="#000" stroke-width="2.6"/>
<rect x="624" y="973.42" width="56.2" height="58.28" fill="#4d4d4d" stroke="#000" stroke-width="2.6"/>
<line x1="427.2" y1="891.4" x2="427.2" y2="1037.7" stroke="#000" stroke-width="3.2"/>
<line x1="425.6" y1="1031.7" x2="697.3" y2="1031.7" stroke="#000" stroke-width="3.2"/>
<line x1="695.7" y1="1031.7" x2="695.7" y2="1037.7" stroke="#000" stroke-width="3.2"/>
<line x1="421.7" y1="1031.7" x2="427.2" y2="1031.7" stroke="#000" stroke-width="3.2"/>
<text x="405.76" y="1037.38" font-size="16">0</text>
<line x1="421.7" y1="1003.86" x2="427.2" y2="1003.86" stroke="#000" stroke-width="3.2"/>
<text x="405.92" y="1009.54" font-size="16">1</text>
<line x1="421.7" y1="976.02" x2="427.2" y2="976.02" stroke="#000" stroke-width="3.2"/>
<text x="405.92" y="981.7" font-size="16">2</text>
<line x1="421.7" y1="948.18" x2="427.2" y2="948.18" stroke="#000" stroke-width="3.2"/>
<text x="405.84" y="953.86" font-size="16">3</text>
<line x1="421.7" y1="920.34" x2="427.2" y2="920.34" stroke="#000" stroke-width="3.2"/>
<text x="405.6" y="926.02" font-size="16">4</text>
<line x1="421.7" y1="892.5" x2="427.2" y2="892.5" stroke="#000" stroke-width="3.2"/>
<text x="405.76" y="898.18" font-size="16">5</text>
<text x="426.8" y="1061" font-size="18.8">No peptide</text>
<text x="623.4" y="1061" font-size="18.8">Mutant</text>
<text transform="translate(372.3 1023.11) rotate(-90)" font-size="16.6">FC (IFN-γ+ CD8</text>
<text transform="translate(391.7 996.09) rotate(-90)" font-size="16.6">+ T cells)</text>
<rect x="791.3" y="1003.64" width="56.1" height="26.26" fill="#4d4d4d" stroke="#000" stroke-width="2.6"/>
<rect x="969.8" y="911.77" width="56.2" height="118.13" fill="#4d4d4d" stroke="#000" stroke-width="2.6"/>
<line x1="774.5" y1="889.6" x2="774.5" y2="1035.9" stroke="#000" stroke-width="3.2"/>
<line x1="772.9" y1="1029.9" x2="1043.5" y2="1029.9" stroke="#000" stroke-width="3.2"/>
<line x1="1041.9" y1="1029.9" x2="1041.9" y2="1035.9" stroke="#000" stroke-width="3.2"/>
<line x1="769" y1="1029.9" x2="774.5" y2="1029.9" stroke="#000" stroke-width="3.2"/>
<text x="753.06" y="1035.58" font-size="16">0</text>
<line x1="769" y1="1002.06" x2="774.5" y2="1002.06" stroke="#000" stroke-width="3.2"/>
<text x="753.22" y="1007.74" font-size="16">1</text>
<line x1="769" y1="974.22" x2="774.5" y2="974.22" stroke="#000" stroke-width="3.2"/>
<text x="753.22" y="979.9" font-size="16">2</text>
<line x1="769" y1="946.38" x2="774.5" y2="946.38" stroke="#000" stroke-width="3.2"/>
<text x="753.14" y="952.06" font-size="16">3</text>
<line x1="769" y1="918.54" x2="774.5" y2="918.54" stroke="#000" stroke-width="3.2"/>
<text x="752.9" y="924.22" font-size="16">4</text>
<line x1="769" y1="890.7" x2="774.5" y2="890.7" stroke="#000" stroke-width="3.2"/>
<text x="753.06" y="896.38" font-size="16">5</text>
<text x="773.7" y="1058.5" font-size="18.8">No peptide</text>
<text x="969.6" y="1058.5" font-size="18.8">Mutant</text>
<text transform="translate(718.2 1020.51) rotate(-90)" font-size="16.6">FC (IFN-γ+ CD8</text>
<text transform="translate(737.6 993.49) rotate(-90)" font-size="16.6">+ T cells)</text>
<path d="M80.8 1073.6 L80.8 1091.8 L349.5 1091.8 L349.5 1075.7" fill="none" stroke="#000" stroke-width="2.1"/>
<path d="M427.2 1076.5 L427.2 1093.5 L697.3 1093.5 L697.3 1076.5" fill="none" stroke="#000" stroke-width="2.1"/>
<path d="M774.7 1078.4 L774.7 1095 L1042.5 1095 L1042.5 1078.4" fill="none" stroke="#000" stroke-width="2.1"/>
<line x1="88" y1="1091.8" x2="88" y2="1123" stroke="#000" stroke-width="2.1"/>
<path d="M447.7 1093.5 L447.7 1130 L215 1130" fill="none" stroke="#000" stroke-width="2.1"/>
<line x1="847.5" y1="1095" x2="847.5" y2="1124" stroke="#000" stroke-width="2.1"/>
<path d="M88.3 1122.1 L92.18 1129.96 L100.85 1131.22 L94.58 1137.34 L96.06 1145.98 L88.3 1141.9 L80.54 1145.98 L82.02 1137.34 L75.75 1131.22 L84.42 1129.96 Z" fill="#b5271b" stroke="#000" stroke-width="2.7" stroke-linejoin="miter"/>
<path d="M205.2 1122.1 L209.08 1129.96 L217.75 1131.22 L211.48 1137.34 L212.96 1145.98 L205.2 1141.9 L197.44 1145.98 L198.92 1137.34 L192.65 1131.22 L201.32 1129.96 Z" fill="#b5271b" stroke="#000" stroke-width="2.7" stroke-linejoin="miter"/>
<path d="M511.3 1122.1 L515.18 1129.96 L523.85 1131.22 L517.58 1137.34 L519.06 1145.98 L511.3 1141.9 L503.54 1145.98 L505.02 1137.34 L498.75 1131.22 L507.42 1129.96 Z" fill="#fff" stroke="#000" stroke-width="2.7" stroke-linejoin="miter"/>
<path d="M737.4 1122.1 L741.28 1129.96 L749.95 1131.22 L743.68 1137.34 L745.16 1145.98 L737.4 1141.9 L729.64 1145.98 L731.12 1137.34 L724.85 1131.22 L733.52 1129.96 Z" fill="#fff" stroke="#000" stroke-width="2.7" stroke-linejoin="miter"/>
<path d="M817.3 1122.1 L821.18 1129.96 L829.85 1131.22 L823.58 1137.34 L825.06 1145.98 L817.3 1141.9 L809.54 1145.98 L811.02 1137.34 L804.75 1131.22 L813.42 1129.96 Z" fill="#fff" stroke="#000" stroke-width="2.7" stroke-linejoin="miter"/>
<path d="M847.3 1122.1 L851.18 1129.96 L859.85 1131.22 L853.58 1137.34 L855.06 1145.98 L847.3 1141.9 L839.54 1145.98 L841.02 1137.34 L834.75 1131.22 L843.42 1129.96 Z" fill="#b5271b" stroke="#000" stroke-width="2.7" stroke-linejoin="miter"/>
<rect x="8.4" y="1288.7" width="1029.3" height="16.9" fill="#7f7e7c"/>
<line x1="8.4" y1="1289.4" x2="1037.7" y2="1289.4" stroke="#000" stroke-width="1.3"/>
<line x1="88.3" y1="1246.5" x2="88.3" y2="1289" stroke="#000" stroke-width="2.2"/>
<rect x="80.9" y="1231.7" width="15.1" height="14.8" fill="#808080" stroke="#000" stroke-width="0.8"/>
<line x1="202.2" y1="1245.7" x2="202.2" y2="1274" stroke="#000" stroke-width="2.2"/>
<rect x="195.3" y="1230.9" width="15.1" height="14.8" fill="#808080" stroke="#000" stroke-width="0.8"/>
<line x1="510.8" y1="1246.5" x2="510.8" y2="1274" stroke="#000" stroke-width="2.2"/>
<rect x="503.4" y="1231.7" width="15.1" height="14.8" fill="#808080" stroke="#000" stroke-width="0.8"/>
<line x1="679" y1="1247.3" x2="679" y2="1274" stroke="#000" stroke-width="2.2"/>
<rect x="670.5" y="1232.5" width="15.2" height="14.8" fill="#808080" stroke="#000" stroke-width="0.8"/>
<line x1="734.6" y1="1245.8" x2="734.6" y2="1274" stroke="#000" stroke-width="2.2"/>
<rect x="726.4" y="1231" width="15.1" height="14.8" fill="#808080" stroke="#000" stroke-width="0.8"/>
<line x1="781.6" y1="1245.8" x2="781.6" y2="1274" stroke="#000" stroke-width="2.2"/>
<rect x="774" y="1231" width="15.5" height="14.8" fill="#808080" stroke="#000" stroke-width="0.8"/>
<line x1="821.4" y1="1245.8" x2="821.4" y2="1274" stroke="#000" stroke-width="2.2"/>
<rect x="814.2" y="1231" width="14.8" height="14.8" fill="#808080" stroke="#000" stroke-width="0.8"/>
<line x1="840.4" y1="1245.8" x2="840.4" y2="1274" stroke="#000" stroke-width="2.2"/>
<rect x="834" y="1231" width="15.5" height="14.8" fill="#808080" stroke="#000" stroke-width="0.8"/>
<rect x="173.7" y="1275.1" width="148.7" height="41.9" fill="#f6a800" stroke="#000" stroke-width="4.4" rx="19"/>
<text x="220.06" y="1306.8" font-size="26.8">PNT</text>
<rect x="328.1" y="1275.1" width="82" height="41.9" fill="#e23a0e" stroke="#000" stroke-width="4.4" rx="19"/>
<text x="339.53" y="1306.8" font-size="26.8">TAD</text>
<rect x="469" y="1275.1" width="103.9" height="41.9" fill="#6161b9" stroke="#000" stroke-width="4.4" rx="19"/>
<text x="486.79" y="1306.8" font-size="26.8">SAR</text>
<rect x="584.9" y="1275.1" width="51.8" height="41.9" fill="#f7e336" stroke="#000" stroke-width="4.4" rx="19"/>
<text x="596.87" y="1306.8" font-size="26.8">AT</text>
<rect x="663.2" y="1275.1" width="202.5" height="41.9" fill="#88c812" stroke="#000" stroke-width="4.4" rx="19"/>
<text x="739.36" y="1306.8" font-size="26.8">ETS</text>
<text x="173.3" y="1351" font-size="18">63</text>
<text x="283.95" y="1351" font-size="18">127</text>
<text x="332.85" y="1351" font-size="18">129</text>
<text x="386.35" y="1351" font-size="18">159</text>
<text x="468.65" y="1351" font-size="18">189</text>
<text x="530.7" y="1351" font-size="18">229</text>
<text x="661.7" y="1351" font-size="18">272</text>
<text x="823.88" y="1351" font-size="18">354</text>
<text transform="translate(97 1222.54) rotate(-90)" font-size="17.8">Y19fs</text>
<text transform="translate(210.5 1222.72) rotate(-90)" font-size="17.8">L73fs</text>
<text transform="translate(519 1223.52) rotate(-90)" font-size="17.8">R250fs</text>
<text transform="translate(686 1221.32) rotate(-90)" font-size="17.8">E277fs</text>
<text transform="translate(742 1221.39) rotate(-90)" font-size="17.8">G301fs</text>
<text transform="translate(789.8 1221.92) rotate(-90)" font-size="17.8">K320fs</text>
<text transform="translate(830 1220.44) rotate(-90)" font-size="17.8">Y336fs</text>
<text transform="translate(849.8 1221.09) rotate(-90)" font-size="17.8">V345fs</text>
<line x1="116.3" y1="1433.6" x2="116.3" y2="1901.8" stroke="#000" stroke-width="3"/>
<line x1="114.8" y1="1896" x2="902" y2="1896" stroke="#000" stroke-width="3"/>
<line x1="111.3" y1="1896" x2="116.3" y2="1896" stroke="#000" stroke-width="2.6"/>
<text x="65.22" y="1904.38" font-size="23.6">0%</text>
<line x1="111.3" y1="1830" x2="116.3" y2="1830" stroke="#000" stroke-width="2.6"/>
<text x="65.22" y="1838.38" font-size="23.6">2%</text>
<line x1="111.3" y1="1764" x2="116.3" y2="1764" stroke="#000" stroke-width="2.6"/>
<text x="65.22" y="1772.38" font-size="23.6">4%</text>
<line x1="111.3" y1="1698" x2="116.3" y2="1698" stroke="#000" stroke-width="2.6"/>
<text x="65.22" y="1706.38" font-size="23.6">6%</text>
<line x1="111.3" y1="1632" x2="116.3" y2="1632" stroke="#000" stroke-width="2.6"/>
<text x="65.22" y="1640.38" font-size="23.6">8%</text>
<line x1="111.3" y1="1566" x2="116.3" y2="1566" stroke="#000" stroke-width="2.6"/>
<text x="52.13" y="1574.38" font-size="23.6">10%</text>
<line x1="111.3" y1="1500" x2="116.3" y2="1500" stroke="#000" stroke-width="2.6"/>
<text x="52.13" y="1508.38" font-size="23.6">12%</text>
<line x1="111.3" y1="1434" x2="116.3" y2="1434" stroke="#000" stroke-width="2.6"/>
<text x="52.13" y="1442.38" font-size="23.6">14%</text>
<line x1="116.3" y1="1896" x2="116.3" y2="1901.8" stroke="#000" stroke-width="2.6"/>
<text x="99.19" y="1930.2" font-size="23.6">0%</text>
<line x1="273.44" y1="1896" x2="273.44" y2="1901.8" stroke="#000" stroke-width="2.6"/>
<text x="256.21" y="1930.2" font-size="23.6">2%</text>
<line x1="430.58" y1="1896" x2="430.58" y2="1901.8" stroke="#000" stroke-width="2.6"/>
<text x="413.65" y="1930.2" font-size="23.6">4%</text>
<line x1="587.72" y1="1896" x2="587.72" y2="1901.8" stroke="#000" stroke-width="2.6"/>
<text x="570.49" y="1930.2" font-size="23.6">6%</text>
<line x1="744.86" y1="1896" x2="744.86" y2="1901.8" stroke="#000" stroke-width="2.6"/>
<text x="727.69" y="1930.2" font-size="23.6">8%</text>
<line x1="902" y1="1896" x2="902" y2="1901.8" stroke="#000" stroke-width="2.6"/>
<text x="877.93" y="1930.2" font-size="23.6">10%</text>
<text transform="translate(27.5 1811.32) rotate(-90)" font-size="23.6">TCR CDR3 β chain bulk (%)</text>
<text x="317.41" y="1959.5" font-size="23.6">TCR CDR3 β chain single cell (%)</text>
<g fill="#d4580c"><circle cx="736.6" cy="1489.2" r="7.7"/><circle cx="259" cy="1658.3" r="7.7"/><circle cx="309.5" cy="1709.1" r="7.7"/><circle cx="466.3" cy="1698.9" r="7.7"/><circle cx="287.3" cy="1822.9" r="7.7"/><circle cx="353" cy="1825.1" r="7.7"/><circle cx="196.1" cy="1824.9" r="7.7"/><circle cx="198.8" cy="1833" r="7.7"/><circle cx="216.3" cy="1833" r="7.7"/><circle cx="145.6" cy="1846.4" r="7.7"/><circle cx="145.6" cy="1855.2" r="7.7"/><circle cx="163.1" cy="1863.2" r="7.7"/><circle cx="112.7" cy="1871.3" r="7.7"/><circle cx="112" cy="1879.4" r="7.7"/><circle cx="112.7" cy="1891.5" r="7.7"/><circle cx="119.4" cy="1892.9" r="7.7"/><circle cx="127.5" cy="1875.4" r="7.7"/><circle cx="136.9" cy="1874" r="7.7"/><circle cx="132.9" cy="1888.8" r="7.7"/><circle cx="145" cy="1882.1" r="7.7"/><circle cx="149" cy="1878" r="7.7"/><circle cx="120" cy="1884" r="7.7"/><circle cx="126" cy="1886" r="7.7"/><circle cx="118" cy="1877" r="7.7"/><circle cx="130" cy="1880" r="7.7"/><circle cx="139" cy="1883" r="7.7"/><circle cx="124" cy="1893" r="7.7"/><circle cx="114" cy="1885" r="7.7"/><circle cx="142" cy="1878" r="7.7"/></g>
<g fill="#000"><circle cx="117.4" cy="1892.6" r="2.1"/><circle cx="126" cy="1887.23" r="2.1"/><circle cx="134.6" cy="1881.85" r="2.1"/><circle cx="143.2" cy="1876.48" r="2.1"/><circle cx="151.8" cy="1871.11" r="2.1"/><circle cx="160.4" cy="1865.73" r="2.1"/><circle cx="169" cy="1860.36" r="2.1"/><circle cx="177.6" cy="1854.98" r="2.1"/><circle cx="186.2" cy="1849.61" r="2.1"/><circle cx="194.8" cy="1844.24" r="2.1"/><circle cx="203.4" cy="1838.86" r="2.1"/><circle cx="212" cy="1833.49" r="2.1"/><circle cx="220.6" cy="1828.12" r="2.1"/><circle cx="229.2" cy="1822.74" r="2.1"/><circle cx="237.8" cy="1817.37" r="2.1"/><circle cx="246.4" cy="1812" r="2.1"/><circle cx="255" cy="1806.62" r="2.1"/><circle cx="263.6" cy="1801.25" r="2.1"/><circle cx="272.2" cy="1795.88" r="2.1"/><circle cx="280.8" cy="1790.5" r="2.1"/><circle cx="289.4" cy="1785.13" r="2.1"/><circle cx="298" cy="1779.75" r="2.1"/><circle cx="306.6" cy="1774.38" r="2.1"/><circle cx="315.2" cy="1769.01" r="2.1"/><circle cx="323.8" cy="1763.63" r="2.1"/><circle cx="332.4" cy="1758.26" r="2.1"/><circle cx="341" cy="1752.89" r="2.1"/><circle cx="349.6" cy="1747.51" r="2.1"/><circle cx="358.2" cy="1742.14" r="2.1"/><circle cx="366.8" cy="1736.77" r="2.1"/><circle cx="375.4" cy="1731.39" r="2.1"/><circle cx="384" cy="1726.02" r="2.1"/><circle cx="392.6" cy="1720.64" r="2.1"/><circle cx="401.2" cy="1715.27" r="2.1"/><circle cx="409.8" cy="1709.9" r="2.1"/><circle cx="418.4" cy="1704.52" r="2.1"/><circle cx="427" cy="1699.15" r="2.1"/><circle cx="435.6" cy="1693.78" r="2.1"/><circle cx="444.2" cy="1688.4" r="2.1"/><circle cx="452.8" cy="1683.03" r="2.1"/><circle cx="461.4" cy="1677.66" r="2.1"/><circle cx="470" cy="1672.28" r="2.1"/><circle cx="478.6" cy="1666.91" r="2.1"/><circle cx="487.2" cy="1661.53" r="2.1"/><circle cx="495.8" cy="1656.16" r="2.1"/><circle cx="504.4" cy="1650.79" r="2.1"/><circle cx="513" cy="1645.41" r="2.1"/><circle cx="521.6" cy="1640.04" r="2.1"/><circle cx="530.2" cy="1634.67" r="2.1"/><circle cx="538.8" cy="1629.29" r="2.1"/><circle cx="547.4" cy="1623.92" r="2.1"/><circle cx="556" cy="1618.55" r="2.1"/><circle cx="564.6" cy="1613.17" r="2.1"/><circle cx="573.2" cy="1607.8" r="2.1"/><circle cx="581.8" cy="1602.42" r="2.1"/><circle cx="590.4" cy="1597.05" r="2.1"/><circle cx="599" cy="1591.68" r="2.1"/><circle cx="607.6" cy="1586.3" r="2.1"/><circle cx="616.2" cy="1580.93" r="2.1"/><circle cx="624.8" cy="1575.56" r="2.1"/><circle cx="633.4" cy="1570.18" r="2.1"/><circle cx="642" cy="1564.81" r="2.1"/><circle cx="650.6" cy="1559.44" r="2.1"/><circle cx="659.2" cy="1554.06" r="2.1"/><circle cx="667.8" cy="1548.69" r="2.1"/><circle cx="676.4" cy="1543.32" r="2.1"/><circle cx="685" cy="1537.94" r="2.1"/><circle cx="693.6" cy="1532.57" r="2.1"/><circle cx="702.2" cy="1527.19" r="2.1"/><circle cx="710.8" cy="1521.82" r="2.1"/><circle cx="719.4" cy="1516.45" r="2.1"/><circle cx="728" cy="1511.07" r="2.1"/><circle cx="736.6" cy="1505.7" r="2.1"/></g>
<text x="611.63" y="1443.5" font-size="23.3">CAETRRFQGGSEKLVF;</text>
<text x="611.63" y="1470.6" font-size="23.3">CASSLFVQNYGYTF</text>
<text x="245.84" y="1610.9" font-size="23.3">CAASIGSFGNEKLTF;</text>
<text x="245.84" y="1637.9" font-size="23.3">CASSPHRNTEAFF</text>
<text x="122.03" y="1717.5" font-size="23.3">CAVRPGGKLIF;</text>
<text x="122.03" y="1745.5" font-size="23.3">CASSHPRASGTGWYEQYF</text>
<text x="486.03" y="1690.6" font-size="23.3">CVVSPPFNYGGSQGNLIF;</text>
<text x="486.03" y="1718.2" font-size="23.3">CASSLRQPSYEQYF</text>
<text x="364.83" y="1794.2" font-size="23.3">CAGLVSNYQLIW;</text>
<text x="364.83" y="1821.8" font-size="23.3">CASSVGAASTDTQYF</text>
<text x="268.63" y="1858.8" font-size="23.3">CAAPTEYGNKLVF;</text>
<text x="268.63" y="1885.8" font-size="23.3">CSFTGFSYEQYF</text>
<text x="1338.46" y="863.5" font-size="23">ELF3 Y19fs</text>
<text x="1750.63" y="863.5" font-size="23.4">Control</text>
<text transform="translate(1184.5 1083.67) rotate(-90)" font-size="23.2">CD8+ T cells</text>
<text transform="translate(1182 1403.58) rotate(-90)" font-size="23">IFNγ expression</text>
<text transform="translate(1182 1645.38) rotate(-90)" font-size="23">IFNγ expression</text>
<text transform="translate(1210.5 1638.7) rotate(-90)" font-size="23">in most frequet</text>
<text transform="translate(1238 1637.84) rotate(-90)" font-size="23">TCR clonotype</text>
<rect x="1255.9" y="1125.3" width="16.9" height="28.9" fill="#acacac"/>
<text x="1247.01" y="1117.5" font-size="17.2">0.08</text>
<rect x="1645" y="1154.2" width="17" height="7.3" fill="#acacac"/>
<text x="1637.71" y="1146.4" font-size="17.2">0.02</text>
<rect x="1256" y="1368.9" width="16.6" height="75.1" fill="#acacac"/>
<text x="1246.61" y="1360.6" font-size="17.2">0.21</text>
<rect x="1645.3" y="1423.1" width="16.7" height="21.3" fill="#acacac"/>
<text x="1637.11" y="1414.5" font-size="17.2">0.06</text>
<rect x="1256.1" y="1510" width="16.6" height="104.7" fill="#acacac"/>
<text x="1246.91" y="1501.2" font-size="17.2">0.29</text>
<text x="1632.31" y="1614.8" font-size="17.2">0</text>
</svg>
</body></html>
